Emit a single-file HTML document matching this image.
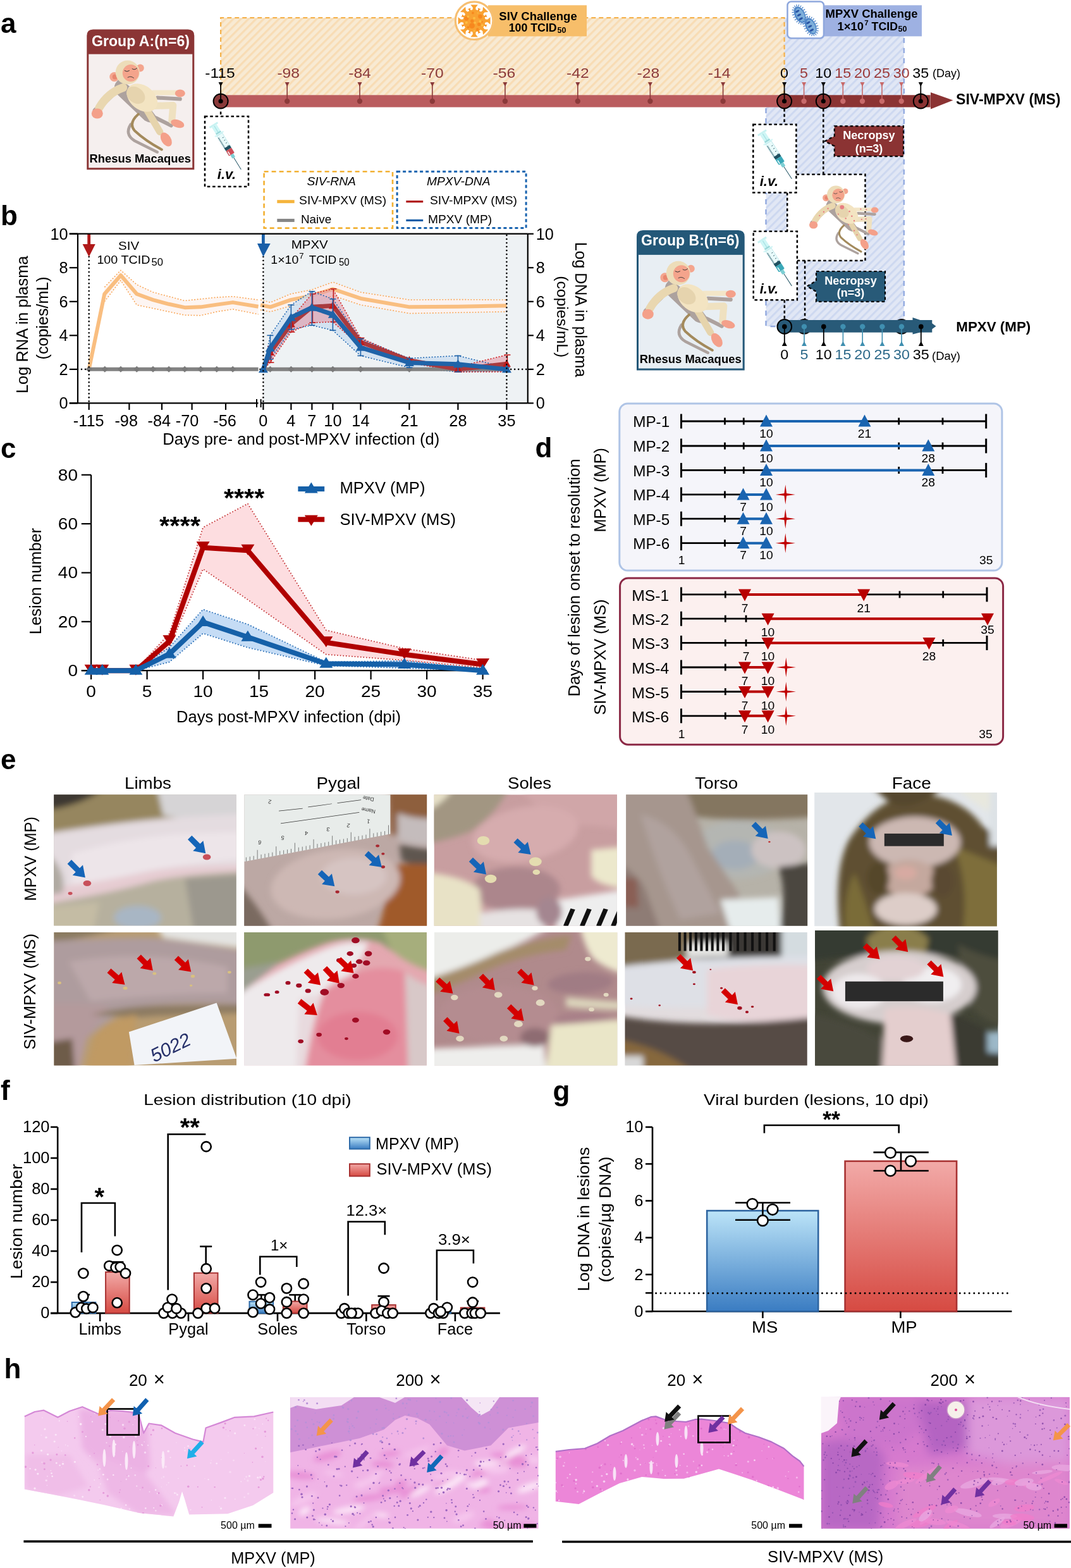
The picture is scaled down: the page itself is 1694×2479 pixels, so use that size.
<!DOCTYPE html>
<html><head><meta charset="utf-8"><title>Figure</title>
<style>
html,body{margin:0;padding:0;background:#fff;}
svg{display:block;}
text{font-family:"Liberation Sans",Arial,Helvetica,sans-serif;}
</style></head><body>
<svg width="1694" height="2479" viewBox="0 0 1694 2479">
<defs>
<pattern id="stripeO" patternUnits="userSpaceOnUse" width="8.5" height="10" patternTransform="rotate(45)">
  <rect width="8.5" height="10" fill="#F8EAD3"/><rect width="3.2" height="10" fill="#F8DCB4"/>
</pattern>
<pattern id="stripeB" patternUnits="userSpaceOnUse" width="8.5" height="10" patternTransform="rotate(45)">
  <rect width="8.5" height="10" fill="#E1E7F5"/><rect width="3.0" height="10" fill="#CDD8F0"/>
</pattern>
<linearGradient id="gBlue" x1="0" y1="0" x2="0" y2="1">
  <stop offset="0" stop-color="#BCE4F8"/><stop offset="1" stop-color="#3A7CC2"/>
</linearGradient>
<linearGradient id="gRed" x1="0" y1="0" x2="0" y2="1">
  <stop offset="0" stop-color="#F2AAA8"/><stop offset="1" stop-color="#D64A42"/>
</linearGradient>
<filter id="blur2" x="-5%" y="-5%" width="110%" height="110%"><feGaussianBlur stdDeviation="2"/></filter>
<filter id="blur4" x="-5%" y="-5%" width="110%" height="110%"><feGaussianBlur stdDeviation="4"/></filter>
<filter id="blur8" x="-10%" y="-10%" width="120%" height="120%"><feGaussianBlur stdDeviation="8"/></filter>
<filter id="blur6" x="-10%" y="-10%" width="120%" height="120%"><feGaussianBlur stdDeviation="5"/></filter>
<g id="monkey">
  <path d="M44,30 Q28,44 44,58 L84,96 Q97,104 104,92 L74,52 Z" fill="#ADA29E"/>
  <path d="M30,58 Q18,70 6,80" stroke="#ADA29E" stroke-width="8" fill="none" stroke-linecap="round"/>
  <path d="M62,102 Q52,118 68,128 Q88,138 104,146" stroke="#ADA29E" stroke-width="4.5" fill="none" stroke-linecap="round"/>
  <path d="M104,60 L140,62" stroke="#ADA29E" stroke-width="6" stroke-linecap="round"/>
  <path d="M102,92 L126,104" stroke="#ADA29E" stroke-width="6" stroke-linecap="round"/>
  <path d="M50,44 Q26,52 12,76" stroke="#E9D7B0" stroke-width="13" fill="none" stroke-linecap="round"/>
  <path d="M98,52 L134,52" stroke="#F3E6C8" stroke-width="8" stroke-linecap="round"/>
  <path d="M74,86 Q58,100 68,112 Q85,128 111,142" stroke="#A38A5C" stroke-width="4" fill="none" stroke-linecap="round"/>
  <path d="M98,73 L129,72 L127,96" stroke="#EFE1C0" stroke-width="11" fill="none" stroke-linejoin="round" stroke-linecap="round"/>
  <path d="M88,80 L108,114" stroke="#E6D4AC" stroke-width="11" stroke-linecap="round"/>
  <ellipse cx="80" cy="60" rx="27" ry="19" transform="rotate(38 80 60)" fill="#F3E4C2"/>
  <ellipse cx="70" cy="56" rx="16" ry="12" transform="rotate(38 70 56)" fill="#E6D4AE"/>
  <circle cx="36" cy="27" r="7.5" fill="#F4A58E"/><circle cx="37" cy="27" r="4" fill="#E8866E"/>
  <circle cx="77" cy="13" r="6" fill="#F4A58E"/>
  <circle cx="57" cy="20" r="19" fill="#EDDDB9"/>
  <ellipse cx="62" cy="21" rx="13" ry="13.5" fill="#F4A48C"/>
  <path d="M52,17 q4,3 8,0 M64,14 q4,3 8,-1" stroke="#333" stroke-width="1" fill="none"/>
  <path d="M57,28 q5,-3 10,1" stroke="#333" stroke-width="0.9" fill="none"/>
  <ellipse cx="9" cy="85" rx="9" ry="8" fill="#F4A08A"/>
  <ellipse cx="140" cy="53" rx="8" ry="6" fill="#F4A08A"/>
  <ellipse cx="136" cy="101" rx="11" ry="6" fill="#F4A08A" transform="rotate(18 136 101)"/>
  <ellipse cx="118" cy="126" rx="7.5" ry="12" fill="#F4A08A" transform="rotate(-32 118 126)"/>
</g>
<g id="syrR">
  <rect x="0" y="-7.5" width="3" height="15" fill="#C8F2F2"/>
  <rect x="3" y="-4.5" width="14" height="9" fill="#CFF6F6"/>
  <rect x="3" y="-0.6" width="13" height="1.2" fill="#A8E2E4"/>
  <rect x="14.5" y="-4.5" width="2.5" height="9" fill="#9CD8DA"/>
  <rect x="17" y="-8" width="2.2" height="16" fill="#D4F6F6"/>
  <rect x="19" y="-5" width="36" height="10" fill="#E8FAFA" stroke="#A8E0E4" stroke-width="0.6"/>
  <path d="M23.0,3.2 v1.8 M24.5,3.2 v1.8 M26.0,3.2 v1.8 M27.5,3.2 v1.8 M29.0,3.2 v1.8 M30.5,3.2 v1.8 M32.0,3.2 v1.8 M33.5,3.2 v1.8 M35.0,3.2 v1.8 M36.5,3.2 v1.8 M38.0,3.2 v1.8 M39.5,3.2 v1.8 M41.0,3.2 v1.8 M42.5,3.2 v1.8 " stroke="#1E4A5A" stroke-width="0.8"/>
  <path d="M26.0,-3.2 v2 M31.0,-3.2 v2 M36.0,-3.2 v2 M41.0,-3.2 v2 " stroke="#1E4A5A" stroke-width="0.8"/>
  <rect x="41.5" y="-5" width="5" height="10" fill="#1E5060"/>
  <rect x="46.5" y="-5" width="9.5" height="10" rx="1" fill="#D04E58"/>
  <rect x="49" y="2" width="6" height="1.6" fill="#F4F4F4"/>
  <rect x="56" y="-2.7" width="6" height="5.4" fill="#7CCFD4"/>
  <line x1="62" y1="0" x2="84" y2="0" stroke="#2A5A6A" stroke-width="1.0"/>
</g>
<g id="syrB">
  <rect x="0" y="-7.5" width="3" height="15" fill="#C8F2F2"/>
  <rect x="3" y="-4.5" width="14" height="9" fill="#CFF6F6"/>
  <rect x="3" y="-0.6" width="13" height="1.2" fill="#A8E2E4"/>
  <rect x="14.5" y="-4.5" width="2.5" height="9" fill="#9CD8DA"/>
  <rect x="17" y="-8" width="2.2" height="16" fill="#D4F6F6"/>
  <rect x="19" y="-5" width="36" height="10" fill="#E8FAFA" stroke="#A8E0E4" stroke-width="0.6"/>
  <path d="M23.0,3.2 v1.8 M24.5,3.2 v1.8 M26.0,3.2 v1.8 M27.5,3.2 v1.8 M29.0,3.2 v1.8 M30.5,3.2 v1.8 M32.0,3.2 v1.8 M33.5,3.2 v1.8 M35.0,3.2 v1.8 M36.5,3.2 v1.8 M38.0,3.2 v1.8 M39.5,3.2 v1.8 M41.0,3.2 v1.8 M42.5,3.2 v1.8 " stroke="#1E4A5A" stroke-width="0.8"/>
  <path d="M26.0,-3.2 v2 M31.0,-3.2 v2 M36.0,-3.2 v2 M41.0,-3.2 v2 " stroke="#1E4A5A" stroke-width="0.8"/>
  <rect x="41.5" y="-5" width="5" height="10" fill="#1E5060"/>
  <rect x="46.5" y="-5" width="9.5" height="10" rx="1" fill="#3AA8B8"/>
  <rect x="49" y="2" width="6" height="1.6" fill="#E8FAFA"/>
  <rect x="56" y="-2.7" width="6" height="5.4" fill="#7CCFD4"/>
  <line x1="62" y1="0" x2="84" y2="0" stroke="#2A5A6A" stroke-width="1.0"/>
</g>

<clipPath id="pc1"><rect x="85.2" y="1256.2" width="288.5" height="207.3"/></clipPath>
<clipPath id="pc2"><rect x="386.2" y="1256.2" width="289" height="207.6"/></clipPath>
<clipPath id="pc3"><rect x="686.5" y="1256.2" width="289.4" height="207.6"/></clipPath>
<clipPath id="pc4"><rect x="990.2" y="1256.2" width="287" height="207.6"/></clipPath>
<clipPath id="pc5"><rect x="1288.1" y="1252.9" width="288.8" height="211.5"/></clipPath>
<clipPath id="pc6"><rect x="85.4" y="1474.1" width="288.6" height="210.4"/></clipPath>
<clipPath id="pc7"><rect x="386.1" y="1474.1" width="288.8" height="210.4"/></clipPath>
<clipPath id="pc8"><rect x="687" y="1474.1" width="289.4" height="210.4"/></clipPath>
<clipPath id="pc9"><rect x="988.5" y="1474" width="288.2" height="210.5"/></clipPath>
<clipPath id="pc10"><rect x="1289.1" y="1471.1" width="289.5" height="213.6"/></clipPath>
<clipPath id="h1c"><polygon points="38.8,2239.4 55,2232 69.3,2229.7 91.4,2240.8 110,2231 130.2,2224.2 155.2,2235.3 175,2230 194,2231.1 218.9,2233.9 227.2,2265.8 235.5,2250.5 254.9,2253.3 277.1,2265.8 304.8,2275.5 321.4,2279.6 325.6,2257.5 349.1,2249.1 371.3,2240.8 401.8,2239.4 432.3,2232.5 432.3,2360 400,2380 360.2,2393.2 299.2,2394.6 292,2370 288,2358 283,2375 274.3,2397.4 220,2392 166,2379.4 120,2370 83,2362.8 38.8,2354.4"/></clipPath>
<clipPath id="h2c"><rect x="459.1" y="2209" width="392.6" height="207.8"/></clipPath>
<clipPath id="h3c"><polygon points="878.8,2294.9 900,2292 925,2290 945,2282 965,2270 985,2262 1000,2254 1015,2246 1030,2240 1037.3,2239.4 1050,2244 1070,2247 1085,2248 1100,2244 1109.4,2243.6 1130,2246 1153.7,2250 1165,2258 1178.6,2265.8 1200,2272 1220.2,2279.6 1240,2290 1253.5,2301.8 1265,2310 1271.5,2318.4 1271.5,2371 1230,2355 1190,2340 1160,2330 1137,2322.6 1110,2330 1081.7,2337.8 1050,2338 1015.2,2335 980,2345 950,2360 915.4,2378 878.8,2373.8"/></clipPath>
<clipPath id="h4c"><rect x="1298.8" y="2208.7" width="393.1" height="208.1"/></clipPath></defs>
<rect width="1694" height="2479" fill="#fff"/>
<text x="1" y="51.8" font-size="44" font-weight="bold">a</text>
<rect x="1211.5" y="28.2" width="218.3" height="487.8" fill="url(#stripeB)" />
<path d="M1211.5,171 V516 H1240 M1429.8,60 V506" fill="none" stroke="#93AAE0" stroke-width="2.4" stroke-dasharray="8 8"/>
<rect x="349.1" y="28.2" width="891.5" height="122.5" fill="url(#stripeO)" />
<path d="M349.1,150 V28.2 H1240.6 V150" fill="none" stroke="#F5B24C" stroke-width="2.2" stroke-dasharray="7 5"/>
<rect x="772" y="8.3" width="156" height="49.1" fill="#F7BE6A" />
<circle cx="750.1" cy="32.7" r="29.8" fill="#fff" stroke="#F6BF72" stroke-width="3.2" />
<polygon points="747.1,18.9 747.9,11.9 744.3,7.4 755.9,7.4 752.3,11.9 753.1,18.9" fill="#F9A232" />
<polygon points="754.45,18.47 756.47,14.65 755.73,12.5 760.54,14.49 758.5,15.49 757.23,19.62" fill="#F7901E" />
<polygon points="757.88,20.88 763.39,16.5 764.03,10.77 772.23,18.97 766.5,19.61 762.12,25.12" fill="#F9A232" />
<polygon points="763.38,25.77 767.51,24.5 768.51,22.46 770.5,27.27 768.35,26.53 764.53,28.55" fill="#F7901E" />
<polygon points="764.1,29.9 771.1,30.7 775.6,27.1 775.6,38.7 771.1,35.1 764.1,35.9" fill="#F9A232" />
<polygon points="764.53,37.25 768.35,39.27 770.5,38.53 768.51,43.34 767.51,41.3 763.38,40.03" fill="#F7901E" />
<polygon points="762.12,40.68 766.5,46.19 772.23,46.83 764.03,55.03 763.39,49.3 757.88,44.92" fill="#F9A232" />
<polygon points="757.23,46.18 758.5,50.31 760.54,51.31 755.73,53.3 756.47,51.15 754.45,47.33" fill="#F7901E" />
<polygon points="753.1,46.9 752.3,53.9 755.9,58.4 744.3,58.4 747.9,53.9 747.1,46.9" fill="#F9A232" />
<polygon points="745.75,47.33 743.73,51.15 744.47,53.3 739.66,51.31 741.7,50.31 742.97,46.18" fill="#F7901E" />
<polygon points="742.32,44.92 736.81,49.3 736.17,55.03 727.97,46.83 733.7,46.19 738.08,40.68" fill="#F9A232" />
<polygon points="736.82,40.03 732.69,41.3 731.69,43.34 729.7,38.53 731.85,39.27 735.67,37.25" fill="#F7901E" />
<polygon points="736.1,35.9 729.1,35.1 724.6,38.7 724.6,27.1 729.1,30.7 736.1,29.9" fill="#F9A232" />
<polygon points="735.67,28.55 731.85,26.53 729.7,27.27 731.69,22.46 732.69,24.5 736.82,25.77" fill="#F7901E" />
<polygon points="738.08,25.12 733.7,19.61 727.97,18.97 736.17,10.77 736.81,16.5 742.32,20.88" fill="#F9A232" />
<polygon points="742.97,19.62 741.7,15.49 739.66,14.49 744.47,12.5 743.73,14.65 745.75,18.47" fill="#F7901E" />
<circle cx="750.1" cy="32.9" r="17.6" fill="#F9A232" />
<circle cx="737.8" cy="29.2" r="3.4" fill="#F7881E" />
<circle cx="759.5" cy="26.1" r="3.4" fill="#F7881E" />
<circle cx="746.7" cy="33.2" r="2.7" fill="#F7881E" />
<circle cx="746.5" cy="40.7" r="4.4" fill="#F7881E" />
<circle cx="757.6" cy="38.4" r="2.6" fill="#F7881E" />
<circle cx="740.4" cy="43.2" r="1.9" fill="#F7881E" />
<circle cx="755.3" cy="46.5" r="2.2" fill="#F7881E" />
<circle cx="747.9" cy="20.5" r="1.9" fill="#F7881E" />
<circle cx="762.5" cy="34.6" r="1.4" fill="#F7881E" />
<circle cx="750" cy="28.7" r="2" fill="#FDBE42" />
<circle cx="740.3" cy="26.2" r="1.7" fill="#FDBE42" />
<circle cx="759.5" cy="33.7" r="2" fill="#FDBE42" />
<circle cx="737.8" cy="35.8" r="2" fill="#FDBE42" />
<circle cx="751.3" cy="36" r="1.7" fill="#FDBE42" />
<circle cx="762.8" cy="40" r="1.7" fill="#FDBE42" />
<circle cx="750.1" cy="48.9" r="1.3" fill="#FDBE42" />
<circle cx="755.9" cy="20.4" r="1" fill="#FDBE42" />
<text x="851" y="31.5" font-size="18.5" text-anchor="middle" font-weight="bold" textLength="123.4" lengthAdjust="spacingAndGlyphs">SIV Challenge</text>
<text x="804.7" y="50.4" font-size="18.5" font-weight="bold" textLength="76" lengthAdjust="spacingAndGlyphs">100 TCID</text>
<text x="881.5" y="51.5" font-size="12.5" font-weight="bold">50</text>
<rect x="1303" y="8.3" width="155" height="49.1" fill="#9EB1E2" />
<rect x="1245.5" y="2.5" width="57.5" height="58" fill="#fff" stroke="#8FA8DD" stroke-width="2.5" rx="6" />
<line x1="1272.53" y1="19.73" x2="1275.43" y2="18.38" stroke="#4F86C8" stroke-width="1.3" />
<line x1="1273.87" y1="23.4" x2="1276.96" y2="22.56" stroke="#4F86C8" stroke-width="1.3" />
<line x1="1274.51" y1="27.05" x2="1277.7" y2="26.82" stroke="#4F86C8" stroke-width="1.3" />
<line x1="1274.37" y1="30.38" x2="1277.53" y2="30.91" stroke="#4F86C8" stroke-width="1.3" />
<line x1="1273.49" y1="33.14" x2="1276.33" y2="34.61" stroke="#4F86C8" stroke-width="1.3" />
<line x1="1271.93" y1="35.09" x2="1273.93" y2="37.59" stroke="#4F86C8" stroke-width="1.3" />
<line x1="1269.82" y1="36.07" x2="1270.45" y2="39.21" stroke="#4F86C8" stroke-width="1.3" />
<line x1="1267.32" y1="36.02" x2="1266.62" y2="39.14" stroke="#4F86C8" stroke-width="1.3" />
<line x1="1264.64" y1="34.92" x2="1263.01" y2="37.68" stroke="#4F86C8" stroke-width="1.3" />
<line x1="1262" y1="32.88" x2="1259.77" y2="35.18" stroke="#4F86C8" stroke-width="1.3" />
<line x1="1259.61" y1="30.05" x2="1256.99" y2="31.88" stroke="#4F86C8" stroke-width="1.3" />
<line x1="1257.67" y1="26.67" x2="1254.77" y2="28.02" stroke="#4F86C8" stroke-width="1.3" />
<line x1="1256.33" y1="23" x2="1253.24" y2="23.84" stroke="#4F86C8" stroke-width="1.3" />
<line x1="1255.69" y1="19.35" x2="1252.5" y2="19.58" stroke="#4F86C8" stroke-width="1.3" />
<line x1="1255.83" y1="16.02" x2="1252.67" y2="15.49" stroke="#4F86C8" stroke-width="1.3" />
<line x1="1256.71" y1="13.26" x2="1253.87" y2="11.79" stroke="#4F86C8" stroke-width="1.3" />
<line x1="1258.27" y1="11.31" x2="1256.27" y2="8.81" stroke="#4F86C8" stroke-width="1.3" />
<line x1="1260.38" y1="10.33" x2="1259.75" y2="7.19" stroke="#4F86C8" stroke-width="1.3" />
<line x1="1262.88" y1="10.38" x2="1263.58" y2="7.26" stroke="#4F86C8" stroke-width="1.3" />
<line x1="1265.56" y1="11.48" x2="1267.19" y2="8.72" stroke="#4F86C8" stroke-width="1.3" />
<line x1="1268.2" y1="13.52" x2="1270.43" y2="11.22" stroke="#4F86C8" stroke-width="1.3" />
<line x1="1270.59" y1="16.35" x2="1273.21" y2="14.52" stroke="#4F86C8" stroke-width="1.3" />
<ellipse cx="1265.1" cy="23.2" rx="8.2" ry="13.8" transform="rotate(-25 1265.1 23.2)" fill="#4F86C8"/>
<ellipse cx="1265.8999999999999" cy="23.7" rx="6" ry="11.5" transform="rotate(-25 1265.8999999999999 23.7)" fill="#7EAFDA"/>
<ellipse cx="1261.27" cy="17.82" rx="3.4" ry="1.6" transform="rotate(-30 1261.27 17.82)" fill="#2A55A5"/>
<ellipse cx="1264.01" cy="23.71" rx="3.4" ry="1.6" transform="rotate(-30 1264.01 23.71)" fill="#2A55A5"/>
<ellipse cx="1266.76" cy="29.60" rx="3.4" ry="1.6" transform="rotate(-30 1266.76 29.60)" fill="#2A55A5"/>
<line x1="1289.73" y1="37.73" x2="1292.63" y2="36.38" stroke="#4F86C8" stroke-width="1.3" />
<line x1="1291.07" y1="41.4" x2="1294.16" y2="40.56" stroke="#4F86C8" stroke-width="1.3" />
<line x1="1291.71" y1="45.05" x2="1294.9" y2="44.82" stroke="#4F86C8" stroke-width="1.3" />
<line x1="1291.57" y1="48.38" x2="1294.73" y2="48.91" stroke="#4F86C8" stroke-width="1.3" />
<line x1="1290.69" y1="51.14" x2="1293.53" y2="52.61" stroke="#4F86C8" stroke-width="1.3" />
<line x1="1289.13" y1="53.09" x2="1291.13" y2="55.59" stroke="#4F86C8" stroke-width="1.3" />
<line x1="1287.02" y1="54.07" x2="1287.65" y2="57.21" stroke="#4F86C8" stroke-width="1.3" />
<line x1="1284.52" y1="54.02" x2="1283.82" y2="57.14" stroke="#4F86C8" stroke-width="1.3" />
<line x1="1281.84" y1="52.92" x2="1280.21" y2="55.68" stroke="#4F86C8" stroke-width="1.3" />
<line x1="1279.2" y1="50.88" x2="1276.97" y2="53.18" stroke="#4F86C8" stroke-width="1.3" />
<line x1="1276.81" y1="48.05" x2="1274.19" y2="49.88" stroke="#4F86C8" stroke-width="1.3" />
<line x1="1274.87" y1="44.67" x2="1271.97" y2="46.02" stroke="#4F86C8" stroke-width="1.3" />
<line x1="1273.53" y1="41" x2="1270.44" y2="41.84" stroke="#4F86C8" stroke-width="1.3" />
<line x1="1272.89" y1="37.35" x2="1269.7" y2="37.58" stroke="#4F86C8" stroke-width="1.3" />
<line x1="1273.03" y1="34.02" x2="1269.87" y2="33.49" stroke="#4F86C8" stroke-width="1.3" />
<line x1="1273.91" y1="31.26" x2="1271.07" y2="29.79" stroke="#4F86C8" stroke-width="1.3" />
<line x1="1275.47" y1="29.31" x2="1273.47" y2="26.81" stroke="#4F86C8" stroke-width="1.3" />
<line x1="1277.58" y1="28.33" x2="1276.95" y2="25.19" stroke="#4F86C8" stroke-width="1.3" />
<line x1="1280.08" y1="28.38" x2="1280.78" y2="25.26" stroke="#4F86C8" stroke-width="1.3" />
<line x1="1282.76" y1="29.48" x2="1284.39" y2="26.72" stroke="#4F86C8" stroke-width="1.3" />
<line x1="1285.4" y1="31.52" x2="1287.63" y2="29.22" stroke="#4F86C8" stroke-width="1.3" />
<line x1="1287.79" y1="34.35" x2="1290.41" y2="32.52" stroke="#4F86C8" stroke-width="1.3" />
<ellipse cx="1282.3" cy="41.2" rx="8.2" ry="13.8" transform="rotate(-25 1282.3 41.2)" fill="#4F86C8"/>
<ellipse cx="1283.1" cy="41.7" rx="6" ry="11.5" transform="rotate(-25 1283.1 41.7)" fill="#7EAFDA"/>
<ellipse cx="1278.47" cy="35.82" rx="3.4" ry="1.6" transform="rotate(-30 1278.47 35.82)" fill="#2A55A5"/>
<ellipse cx="1281.21" cy="41.71" rx="3.4" ry="1.6" transform="rotate(-30 1281.21 41.71)" fill="#2A55A5"/>
<ellipse cx="1283.96" cy="47.60" rx="3.4" ry="1.6" transform="rotate(-30 1283.96 47.60)" fill="#2A55A5"/>
<text x="1378.6" y="28.2" font-size="18.5" text-anchor="middle" font-weight="bold" textLength="146" lengthAdjust="spacingAndGlyphs">MPXV Challenge</text>
<text x="1324.5" y="47.9" font-size="18.5" font-weight="bold" textLength="41.5" lengthAdjust="spacingAndGlyphs">1×10</text>
<text x="1367.3" y="39.5" font-size="11.5" font-weight="bold">7</text>
<text x="1378.6" y="47.9" font-size="18.5" font-weight="bold" textLength="41.4" lengthAdjust="spacingAndGlyphs">TCID</text>
<text x="1420.6" y="49.5" font-size="12.5" font-weight="bold">50</text>
<rect x="349" y="150.3" width="892" height="19.2" fill="#BA5C5E" />
<rect x="1240.6" y="150.3" width="231" height="19.2" fill="#8B3333" />
<polygon points="1472,146 1507.4,158.5 1472,172.4" fill="#8B3333" />
<line x1="454.2" y1="131" x2="454.2" y2="160" stroke="#8B3A3A" stroke-width="1.6" />
<polygon points="450.7,130 457.7,130 454.2,137" fill="#8B3A3A" />
<circle cx="454.2" cy="160" r="4.2" fill="#8B3A3A" />
<text x="456.2" y="123.4" font-size="22" text-anchor="middle" fill="#8B3A3A" textLength="35.61" lengthAdjust="spacingAndGlyphs">-98</text>
<line x1="569" y1="131" x2="569" y2="160" stroke="#8B3A3A" stroke-width="1.6" />
<polygon points="565.5,130 572.5,130 569,137" fill="#8B3A3A" />
<circle cx="569" cy="160" r="4.2" fill="#8B3A3A" />
<text x="569" y="123.4" font-size="22" text-anchor="middle" fill="#8B3A3A" textLength="35.61" lengthAdjust="spacingAndGlyphs">-84</text>
<line x1="683.8" y1="131" x2="683.8" y2="160" stroke="#8B3A3A" stroke-width="1.6" />
<polygon points="680.3,130 687.3,130 683.8,137" fill="#8B3A3A" />
<circle cx="683.8" cy="160" r="4.2" fill="#8B3A3A" />
<text x="683.8" y="123.4" font-size="22" text-anchor="middle" fill="#8B3A3A" textLength="35.61" lengthAdjust="spacingAndGlyphs">-70</text>
<line x1="798.9" y1="131" x2="798.9" y2="160" stroke="#8B3A3A" stroke-width="1.6" />
<polygon points="795.4,130 802.4,130 798.9,137" fill="#8B3A3A" />
<circle cx="798.9" cy="160" r="4.2" fill="#8B3A3A" />
<text x="797.4" y="123.4" font-size="22" text-anchor="middle" fill="#8B3A3A" textLength="35.61" lengthAdjust="spacingAndGlyphs">-56</text>
<line x1="913.8" y1="131" x2="913.8" y2="160" stroke="#8B3A3A" stroke-width="1.6" />
<polygon points="910.3,130 917.3,130 913.8,137" fill="#8B3A3A" />
<circle cx="913.8" cy="160" r="4.2" fill="#8B3A3A" />
<text x="913.8" y="123.4" font-size="22" text-anchor="middle" fill="#8B3A3A" textLength="35.61" lengthAdjust="spacingAndGlyphs">-42</text>
<line x1="1028.4" y1="131" x2="1028.4" y2="160" stroke="#8B3A3A" stroke-width="1.6" />
<polygon points="1024.9,130 1031.9,130 1028.4,137" fill="#8B3A3A" />
<circle cx="1028.4" cy="160" r="4.2" fill="#8B3A3A" />
<text x="1025.4" y="123.4" font-size="22" text-anchor="middle" fill="#8B3A3A" textLength="35.61" lengthAdjust="spacingAndGlyphs">-28</text>
<line x1="1143.6" y1="131" x2="1143.6" y2="160" stroke="#8B3A3A" stroke-width="1.6" />
<polygon points="1140.1,130 1147.1,130 1143.6,137" fill="#8B3A3A" />
<circle cx="1143.6" cy="160" r="4.2" fill="#8B3A3A" />
<text x="1137.6" y="123.4" font-size="22" text-anchor="middle" fill="#8B3A3A" textLength="35.61" lengthAdjust="spacingAndGlyphs">-14</text>
<circle cx="1240.6" cy="160" r="11.5" fill="#8B3333" stroke="#000" stroke-width="2" />
<line x1="1240.6" y1="131" x2="1240.6" y2="160" stroke="#000" stroke-width="1.8" />
<polygon points="1237.1,130 1244.1,130 1240.6,137" fill="#000" />
<circle cx="1240.6" cy="160" r="3.6" fill="#000" />
<text x="1240.6" y="123.4" font-size="22" text-anchor="middle" textLength="12.97" lengthAdjust="spacingAndGlyphs">0</text>
<line x1="1271.6" y1="131" x2="1271.6" y2="160" stroke="#C86A6A" stroke-width="1.6" />
<polygon points="1268.1,130 1275.1,130 1271.6,137" fill="#C86A6A" />
<circle cx="1271.6" cy="160" r="4.2" fill="#C86A6A" />
<text x="1271.6" y="123.4" font-size="22" text-anchor="middle" fill="#9B3A3A" textLength="12.97" lengthAdjust="spacingAndGlyphs">5</text>
<circle cx="1302.3" cy="160" r="11.5" fill="#8B3333" stroke="#000" stroke-width="2" />
<line x1="1302.3" y1="131" x2="1302.3" y2="160" stroke="#000" stroke-width="1.8" />
<polygon points="1298.8,130 1305.8,130 1302.3,137" fill="#000" />
<circle cx="1302.3" cy="160" r="3.6" fill="#000" />
<text x="1302.3" y="123.4" font-size="22" text-anchor="middle" textLength="25.94" lengthAdjust="spacingAndGlyphs">10</text>
<line x1="1333.3" y1="131" x2="1333.3" y2="160" stroke="#C86A6A" stroke-width="1.6" />
<polygon points="1329.8,130 1336.8,130 1333.3,137" fill="#C86A6A" />
<circle cx="1333.3" cy="160" r="4.2" fill="#C86A6A" />
<text x="1333.3" y="123.4" font-size="22" text-anchor="middle" fill="#9B3A3A" textLength="25.94" lengthAdjust="spacingAndGlyphs">15</text>
<line x1="1364" y1="131" x2="1364" y2="160" stroke="#C86A6A" stroke-width="1.6" />
<polygon points="1360.5,130 1367.5,130 1364,137" fill="#C86A6A" />
<circle cx="1364" cy="160" r="4.2" fill="#C86A6A" />
<text x="1364" y="123.4" font-size="22" text-anchor="middle" fill="#9B3A3A" textLength="25.94" lengthAdjust="spacingAndGlyphs">20</text>
<line x1="1395" y1="131" x2="1395" y2="160" stroke="#C86A6A" stroke-width="1.6" />
<polygon points="1391.5,130 1398.5,130 1395,137" fill="#C86A6A" />
<circle cx="1395" cy="160" r="4.2" fill="#C86A6A" />
<text x="1395" y="123.4" font-size="22" text-anchor="middle" fill="#9B3A3A" textLength="25.94" lengthAdjust="spacingAndGlyphs">25</text>
<line x1="1425.7" y1="131" x2="1425.7" y2="160" stroke="#C86A6A" stroke-width="1.6" />
<polygon points="1422.2,130 1429.2,130 1425.7,137" fill="#C86A6A" />
<circle cx="1425.7" cy="160" r="4.2" fill="#C86A6A" />
<text x="1425.7" y="123.4" font-size="22" text-anchor="middle" fill="#9B3A3A" textLength="25.94" lengthAdjust="spacingAndGlyphs">30</text>
<circle cx="1456.3" cy="160" r="11.5" fill="#8B3333" stroke="#000" stroke-width="2" />
<line x1="1456.3" y1="131" x2="1456.3" y2="160" stroke="#000" stroke-width="1.8" />
<polygon points="1452.8,130 1459.8,130 1456.3,137" fill="#000" />
<circle cx="1456.3" cy="160" r="3.6" fill="#000" />
<text x="1456.3" y="123.4" font-size="22" text-anchor="middle" textLength="25.94" lengthAdjust="spacingAndGlyphs">35</text>
<circle cx="349.1" cy="160" r="11.5" fill="#8B3A3A" stroke="#000" stroke-width="2" />
<line x1="349.1" y1="131" x2="349.1" y2="160" stroke="#000" stroke-width="1.8" />
<polygon points="345.6,130 352.6,130 349.1,137" fill="#000" />
<circle cx="349.1" cy="160" r="3.6" fill="#000" />
<text x="348" y="123.4" font-size="22" text-anchor="middle" textLength="47.48" lengthAdjust="spacingAndGlyphs">-115</text>
<text x="1475" y="122.3" font-size="18" textLength="44" lengthAdjust="spacingAndGlyphs">(Day)</text>
<text x="1512" y="164.9" font-size="23" font-weight="bold" textLength="165.4" lengthAdjust="spacingAndGlyphs">SIV-MPXV (MS)</text>
<path d="M137.3,268.3 V56.6 Q137.3,46.6 147.3,46.6 H297.3 Q307.3,46.6 307.3,56.6 V268.3 Z" fill="#8B3535" />
<rect x="140.3" y="85.6" width="164" height="179.7" fill="#F5EFEE" />
<text x="145" y="73" font-size="23" font-weight="bold" fill="#fff" textLength="155" lengthAdjust="spacingAndGlyphs">Group A:(n=6)</text>
<use href="#monkey" transform="translate(144.8 94.5)"/>
<text x="141.5" y="257" font-size="18.4" font-weight="bold" textLength="160.5" lengthAdjust="spacingAndGlyphs">Rhesus Macaques</text>
<path d="M1007,585.5 V373.9 Q1007,363.9 1017,363.9 H1167.7 Q1177.7,363.9 1177.7,373.9 V585.5 Z" fill="#245878" />
<rect x="1010" y="402.9" width="164.7" height="179.6" fill="#E8EEF3" />
<text x="1014" y="388.4" font-size="23" font-weight="bold" fill="#fff" textLength="155.5" lengthAdjust="spacingAndGlyphs">Group B:(n=6)</text>
<use href="#monkey" transform="translate(1015.8 411.7)"/>
<text x="1011.7" y="573.5" font-size="18.4" font-weight="bold" textLength="161" lengthAdjust="spacingAndGlyphs">Rhesus Macaques</text>
<line x1="349.1" y1="176.5" x2="349.1" y2="184" stroke="#000" stroke-width="2.5" stroke-dasharray="4.5 3.8"/>
<rect x="324" y="184" width="69" height="111" fill="#fff" stroke="#000" stroke-width="2.5" stroke-dasharray="4.5 3.8"/>
<use href="#syrR" transform="translate(337.2 196.5) rotate(58.3)"/>
<text x="343.8" y="283.4" font-size="22" font-weight="bold" font-style="italic">i.v.</text>
<line x1="1240.6" y1="172" x2="1240.6" y2="197" stroke="#000" stroke-width="2.5" stroke-dasharray="4.5 3.8"/>
<line x1="1302.3" y1="172" x2="1302.3" y2="276" stroke="#000" stroke-width="2.5" stroke-dasharray="4.5 3.8"/>
<rect x="1245.2" y="275.8" width="123.3" height="136.2" fill="#fff" />
<path d="M1259.4,275.8 H1368.5 V412 H1260.9 M1245.2,304.5 V365.7" fill="none" stroke="#000" stroke-width="2.5" stroke-dasharray="4.5 3.8"/>
<use href="#monkey" transform="translate(1280 292.8) scale(0.74)"/>
<g transform="translate(1280 292.8) scale(0.74)">
<circle cx="70" cy="47" r="4.5" fill="#E87E82" />
<circle cx="40" cy="50" r="1.6" fill="#E87E82" />
<circle cx="31" cy="57" r="1.6" fill="#E87E82" />
<circle cx="22" cy="65" r="1.5" fill="#E87E82" />
<circle cx="86" cy="56" r="1.8" fill="#E87E82" />
<circle cx="91" cy="66" r="1.7" fill="#E87E82" />
<circle cx="78" cy="71" r="1.6" fill="#E87E82" />
<circle cx="96" cy="76" r="1.6" fill="#E87E82" />
<circle cx="112" cy="73" r="1.6" fill="#E87E82" />
<circle cx="121" cy="72" r="1.5" fill="#E87E82" />
<circle cx="96" cy="97" r="1.6" fill="#E87E82" />
<circle cx="102" cy="106" r="1.5" fill="#E87E82" />
<circle cx="110" cy="51" r="1.5" fill="#E87E82" />
<circle cx="122" cy="52" r="1.5" fill="#E87E82" />
<circle cx="62" cy="62" r="1.5" fill="#E87E82" />
<circle cx="84" cy="84" r="1.4" fill="#E87E82" />
</g>
<rect x="1191.3" y="196.8" width="68.1" height="107.7" fill="#fff" stroke="#000" stroke-width="2.5" stroke-dasharray="4.5 3.8"/>
<use href="#syrB" transform="translate(1204.6 208.7) rotate(57.2) scale(1.05)"/>
<text x="1201.7" y="294.3" font-size="22" font-weight="bold" font-style="italic">i.v.</text>
<rect x="1191.7" y="365.7" width="69.2" height="108.6" fill="#fff" stroke="#000" stroke-width="2.5" stroke-dasharray="4.5 3.8"/>
<use href="#syrB" transform="translate(1204.6 378) rotate(57.2) scale(1.05)"/>
<text x="1201.7" y="463.9" font-size="22" font-weight="bold" font-style="italic">i.v.</text>
<path d="M1319.8,199.3 H1429 V247.1 H1319.8 V231 L1304.7,223.3 L1319.8,215 Z" fill="#8B3333" stroke="#000" stroke-width="2.2" stroke-dasharray="4.5 3.8"/>
<text x="1374.4" y="220" font-size="18" text-anchor="middle" font-weight="bold" fill="#fff" textLength="82.5" lengthAdjust="spacingAndGlyphs">Necropsy</text>
<text x="1374.4" y="240.8" font-size="18" text-anchor="middle" font-weight="bold" fill="#fff">(n=3)</text>
<line x1="1240.8" y1="474.3" x2="1240.8" y2="505" stroke="#000" stroke-width="2.5" stroke-dasharray="4.5 3.8"/>
<line x1="1273.1" y1="412" x2="1273.1" y2="505" stroke="#000" stroke-width="2.5" stroke-dasharray="4.5 3.8"/>
<path d="M1291,429 H1400 V476.8 H1291 V461 L1276.4,452.6 L1291,444 Z" fill="#285A78" stroke="#000" stroke-width="2.2" stroke-dasharray="4.5 3.8"/>
<text x="1345.5" y="449.7" font-size="18" text-anchor="middle" font-weight="bold" fill="#fff" textLength="82.5" lengthAdjust="spacingAndGlyphs">Necropsy</text>
<text x="1345.5" y="468.6" font-size="18" text-anchor="middle" font-weight="bold" fill="#fff">(n=3)</text>
<circle cx="1272" cy="516.2" r="11.3" fill="#285A78" stroke="#111" stroke-width="2" />
<circle cx="1426" cy="516.2" r="11.3" fill="#285A78" stroke="#111" stroke-width="2" />
<rect x="1240.8" y="506" width="233.5" height="19.6" fill="#285A78" />
<polygon points="1443.5,502 1455.4,506 1455.4,525.6 1443.5,528.4" fill="#285A78" />
<polygon points="1474,511 1480.5,515.8 1474,520.5" fill="#285A78" />
<circle cx="1240.8" cy="516.4" r="11.3" fill="#285A78" stroke="#000" stroke-width="2" />
<line x1="1240.8" y1="516.4" x2="1240.8" y2="542" stroke="#000" stroke-width="1.8" />
<polygon points="1236.8,547 1244.8,547 1240.8,539.5" fill="#000" />
<circle cx="1240.8" cy="516.4" r="3.8" fill="#000" />
<text x="1240.8" y="567.8" font-size="22" text-anchor="middle" textLength="12.97" lengthAdjust="spacingAndGlyphs">0</text>
<line x1="1272" y1="516.4" x2="1272" y2="542" stroke="#3F8FB0" stroke-width="1.6" />
<polygon points="1268,547 1276,547 1272,539.5" fill="#3F8FB0" />
<circle cx="1272" cy="516.4" r="4.2" fill="#3F8FB0" />
<text x="1272" y="567.8" font-size="22" text-anchor="middle" fill="#2E6A8A" textLength="12.97" lengthAdjust="spacingAndGlyphs">5</text>
<line x1="1302.8" y1="516.4" x2="1302.8" y2="542" stroke="#000" stroke-width="1.8" />
<polygon points="1298.8,547 1306.8,547 1302.8,539.5" fill="#000" />
<circle cx="1302.8" cy="516.4" r="3.8" fill="#000" />
<text x="1302.8" y="567.8" font-size="22" text-anchor="middle" textLength="25.94" lengthAdjust="spacingAndGlyphs">10</text>
<line x1="1333.4" y1="516.4" x2="1333.4" y2="542" stroke="#3F8FB0" stroke-width="1.6" />
<polygon points="1329.4,547 1337.4,547 1333.4,539.5" fill="#3F8FB0" />
<circle cx="1333.4" cy="516.4" r="4.2" fill="#3F8FB0" />
<text x="1333.4" y="567.8" font-size="22" text-anchor="middle" fill="#2E6A8A" textLength="25.94" lengthAdjust="spacingAndGlyphs">15</text>
<line x1="1364.2" y1="516.4" x2="1364.2" y2="542" stroke="#3F8FB0" stroke-width="1.6" />
<polygon points="1360.2,547 1368.2,547 1364.2,539.5" fill="#3F8FB0" />
<circle cx="1364.2" cy="516.4" r="4.2" fill="#3F8FB0" />
<text x="1364.2" y="567.8" font-size="22" text-anchor="middle" fill="#2E6A8A" textLength="25.94" lengthAdjust="spacingAndGlyphs">20</text>
<line x1="1395.4" y1="516.4" x2="1395.4" y2="542" stroke="#3F8FB0" stroke-width="1.6" />
<polygon points="1391.4,547 1399.4,547 1395.4,539.5" fill="#3F8FB0" />
<circle cx="1395.4" cy="516.4" r="4.2" fill="#3F8FB0" />
<text x="1395.4" y="567.8" font-size="22" text-anchor="middle" fill="#2E6A8A" textLength="25.94" lengthAdjust="spacingAndGlyphs">25</text>
<line x1="1426" y1="516.4" x2="1426" y2="542" stroke="#3F8FB0" stroke-width="1.6" />
<polygon points="1422,547 1430,547 1426,539.5" fill="#3F8FB0" />
<circle cx="1426" cy="516.4" r="4.2" fill="#3F8FB0" />
<text x="1426" y="567.8" font-size="22" text-anchor="middle" fill="#2E6A8A" textLength="25.94" lengthAdjust="spacingAndGlyphs">30</text>
<line x1="1456.8" y1="516.4" x2="1456.8" y2="542" stroke="#000" stroke-width="1.8" />
<polygon points="1452.8,547 1460.8,547 1456.8,539.5" fill="#000" />
<circle cx="1456.8" cy="516.4" r="3.8" fill="#000" />
<text x="1456.8" y="567.8" font-size="22" text-anchor="middle" textLength="25.94" lengthAdjust="spacingAndGlyphs">35</text>
<text x="1474" y="569" font-size="18" textLength="45" lengthAdjust="spacingAndGlyphs">(Day)</text>
<text x="1512.3" y="524.4" font-size="22.4" font-weight="bold" textLength="118" lengthAdjust="spacingAndGlyphs">MPXV (MP)</text>
<text x="1" y="355.7" font-size="44" font-weight="bold">b</text>
<rect x="417.6" y="271.3" width="203.4" height="89.3" fill="none" stroke="#F2B134" stroke-width="2.6" stroke-dasharray="7 5"/>
<rect x="628.1" y="271.3" width="204" height="89.3" fill="none" stroke="#1A64B0" stroke-width="3" stroke-dasharray="5 4"/>
<text x="524.2" y="292.6" font-size="19" text-anchor="middle" font-style="italic" textLength="77.4" lengthAdjust="spacingAndGlyphs">SIV-RNA</text>
<text x="725.2" y="292.6" font-size="19" text-anchor="middle" font-style="italic" textLength="100.6" lengthAdjust="spacingAndGlyphs">MPXV-DNA</text>
<line x1="438.3" y1="318.7" x2="465.7" y2="318.7" stroke="#F5B43C" stroke-width="5" />
<line x1="438.3" y1="348.4" x2="465.7" y2="348.4" stroke="#858585" stroke-width="5" />
<text x="473.1" y="322.9" font-size="18.5" textLength="138" lengthAdjust="spacingAndGlyphs">SIV-MPXV (MS)</text>
<text x="476" y="353" font-size="18.8" textLength="48.2" lengthAdjust="spacingAndGlyphs">Naive</text>
<line x1="642.3" y1="318.7" x2="669.2" y2="318.7" stroke="#B01A1A" stroke-width="3.2" />
<line x1="642.3" y1="348.4" x2="669.2" y2="348.4" stroke="#1A5FA8" stroke-width="3.2" />
<text x="680" y="322.9" font-size="18.5" textLength="138" lengthAdjust="spacingAndGlyphs">SIV-MPXV (MS)</text>
<text x="677.1" y="353" font-size="18.8" textLength="101" lengthAdjust="spacingAndGlyphs">MPXV (MP)</text>
<rect x="416.4" y="369.7" width="418.4" height="267.7" fill="#EEF2F4" />
<line x1="123" y1="583.86" x2="834.8" y2="583.86" stroke="#000" stroke-width="2.6" stroke-dasharray="0.01 6.0" stroke-linecap="round"/>
<polygon points="165.3,454.03 191,427.26 216.3,450.01 242,462.06 267.1,468.75 292.2,475.44 317.4,472.76 342.8,470.09 368.2,468.75 408.6,474.1 408.6,496.86 368.2,488.83 342.8,492.84 317.4,498.73 292.2,498.2 267.1,492.84 242,487.49 216.3,482.13 191,443.32 165.3,476.78" fill="#FDF3F0" opacity="0.85"/>
<polyline points="165.3,454.03 191,427.26 216.3,450.01 242,462.06 267.1,468.75 292.2,475.44 317.4,472.76 342.8,470.09 368.2,468.75 408.6,474.1" fill="none" stroke="#F9A85A" stroke-width="1.6" stroke-linejoin="round" stroke-dasharray="2 2.5"/>
<polyline points="165.3,476.78 191,443.32 216.3,482.13 242,487.49 267.1,492.84 292.2,498.2 317.4,498.73 342.8,492.84 368.2,488.83 408.6,496.86" fill="none" stroke="#F9A85A" stroke-width="1.6" stroke-linejoin="round" stroke-dasharray="2 2.5"/>
<polygon points="412,474.1 427.7,478.12 459.8,464.73 493.2,458.04 526.6,445.99 570.7,462.06 647.8,474.1 724.3,473.57 801.4,474.1 801.4,492.84 724.3,494.18 647.8,495.52 570.7,482.13 526.6,467.41 493.2,478.12 459.8,483.47 427.7,492.84 412,490.16" fill="#FDF3F0" opacity="0.85"/>
<polyline points="412,474.1 427.7,478.12 459.8,464.73 493.2,458.04 526.6,445.99 570.7,462.06 647.8,474.1 724.3,473.57 801.4,474.1" fill="none" stroke="#F9A85A" stroke-width="1.6" stroke-linejoin="round" stroke-dasharray="2 2.5"/>
<polyline points="412,490.16 427.7,492.84 459.8,483.47 493.2,478.12 526.6,467.41 570.7,482.13 647.8,495.52 724.3,494.18 801.4,492.84" fill="none" stroke="#F9A85A" stroke-width="1.6" stroke-linejoin="round" stroke-dasharray="2 2.5"/>
<polyline points="140.7,583.86 165.3,464.73 191,435.29 216.3,464.73 242,474.1 267.1,480.8 292.2,486.15 317.4,485.35 342.8,481.6 368.2,478.12 408.6,484.81" fill="none" stroke="#F9BE80" stroke-width="6" stroke-linejoin="round" />
<polyline points="412,482.13 427.7,485.35 459.8,474.1 493.2,467.41 526.6,456.97 570.7,471.96 647.8,485.35 724.3,484.81 801.4,483.2" fill="none" stroke="#F9BE80" stroke-width="6" stroke-linejoin="round" />
<polygon points="416.4,583.86 427.4,530.32 460.4,482.13 493.4,460.72 526.4,472.76 570.4,535.67 647.4,566.46 724.4,562.44 801.4,581.18 801.4,586.54 724.4,587.88 647.4,581.18 570.4,562.44 526.4,522.29 493.4,514.26 460.4,520.95 427.4,567.8 416.4,583.86" fill="#C9DCF0" opacity="0.75"/>
<polygon points="416.4,583.86 427.4,547.72 460.4,503.55 493.4,464.73 526.4,456.7 570.4,534.34 647.4,567.8 724.4,579.84 801.4,561.11 801.4,587.88 724.4,587.88 647.4,573.15 570.4,547.72 526.4,508.9 493.4,510.24 460.4,524.97 427.4,573.15 416.4,583.86" fill="#E49AA6" opacity="0.6"/>
<polyline points="416.4,583.86 427.4,530.32 460.4,482.13 493.4,460.72 526.4,472.76 570.4,535.67 647.4,566.46 724.4,562.44 801.4,581.18" fill="none" stroke="#1A64B0" stroke-width="1.5" stroke-linejoin="round" stroke-dasharray="2 2.5"/>
<polyline points="416.4,583.86 427.4,567.8 460.4,520.95 493.4,514.26 526.4,522.29 570.4,562.44 647.4,581.18 724.4,587.88 801.4,586.54" fill="none" stroke="#1A64B0" stroke-width="1.5" stroke-linejoin="round" stroke-dasharray="2 2.5"/>
<polyline points="416.4,583.86 427.4,547.72 460.4,503.55 493.4,464.73 526.4,456.7 570.4,534.34 647.4,567.8 724.4,579.84 801.4,561.11" fill="none" stroke="#D02020" stroke-width="1.5" stroke-linejoin="round" stroke-dasharray="2 2.5"/>
<polyline points="416.4,583.86 427.4,573.15 460.4,524.97 493.4,510.24 526.4,508.9 570.4,547.72 647.4,573.15 724.4,587.88 801.4,587.88" fill="none" stroke="#D02020" stroke-width="1.5" stroke-linejoin="round" stroke-dasharray="2 2.5"/>
<line x1="140.7" y1="583.86" x2="408.6" y2="583.86" stroke="#828282" stroke-width="6" />
<line x1="416.4" y1="583.86" x2="801.4" y2="583.86" stroke="#828282" stroke-width="6" />
<polygon points="135.7,583.86 140.7,578.86 145.7,583.86 140.7,588.86" fill="#7A7A7A" />
<polygon points="160.8,583.86 165.8,578.86 170.8,583.86 165.8,588.86" fill="#7A7A7A" />
<polygon points="186,583.86 191,578.86 196,583.86 191,588.86" fill="#7A7A7A" />
<polygon points="211.3,583.86 216.3,578.86 221.3,583.86 216.3,588.86" fill="#7A7A7A" />
<polygon points="237,583.86 242,578.86 247,583.86 242,588.86" fill="#7A7A7A" />
<polygon points="262.1,583.86 267.1,578.86 272.1,583.86 267.1,588.86" fill="#7A7A7A" />
<polygon points="287.2,583.86 292.2,578.86 297.2,583.86 292.2,588.86" fill="#7A7A7A" />
<polygon points="312.4,583.86 317.4,578.86 322.4,583.86 317.4,588.86" fill="#7A7A7A" />
<polygon points="337.8,583.86 342.8,578.86 347.8,583.86 342.8,588.86" fill="#7A7A7A" />
<polygon points="363.2,583.86 368.2,578.86 373.2,583.86 368.2,588.86" fill="#7A7A7A" />
<polygon points="411.4,583.86 416.4,578.86 421.4,583.86 416.4,588.86" fill="#7A7A7A" />
<polygon points="422.4,583.86 427.4,578.86 432.4,583.86 427.4,588.86" fill="#7A7A7A" />
<polygon points="455.4,583.86 460.4,578.86 465.4,583.86 460.4,588.86" fill="#7A7A7A" />
<polygon points="488.4,583.86 493.4,578.86 498.4,583.86 493.4,588.86" fill="#7A7A7A" />
<polygon points="521.4,583.86 526.4,578.86 531.4,583.86 526.4,588.86" fill="#7A7A7A" />
<polygon points="565.4,583.86 570.4,578.86 575.4,583.86 570.4,588.86" fill="#7A7A7A" />
<polygon points="642.4,583.86 647.4,578.86 652.4,583.86 647.4,588.86" fill="#7A7A7A" />
<polygon points="719.4,583.86 724.4,578.86 729.4,583.86 724.4,588.86" fill="#7A7A7A" />
<polygon points="796.4,583.86 801.4,578.86 806.4,583.86 801.4,588.86" fill="#7A7A7A" />
<polyline points="416.4,583.86 427.4,557.09 460.4,512.38 493.4,485.35 526.4,483.2 570.4,540.76 647.4,569.67 724.4,583.86 801.4,575.29" fill="none" stroke="#A93A3E" stroke-width="7" stroke-linejoin="round" />
<line x1="428.4" y1="547.72" x2="428.4" y2="573.15" stroke="#C01A1A" stroke-width="1.6" />
<line x1="423.4" y1="547.72" x2="433.4" y2="547.72" stroke="#C01A1A" stroke-width="1.6" />
<line x1="423.4" y1="573.15" x2="433.4" y2="573.15" stroke="#C01A1A" stroke-width="1.6" />
<polygon points="420.9,562.09 433.9,562.09 427.4,550.09" fill="#C01A1A" />
<line x1="461.4" y1="503.55" x2="461.4" y2="524.97" stroke="#C01A1A" stroke-width="1.6" />
<line x1="456.4" y1="503.55" x2="466.4" y2="503.55" stroke="#C01A1A" stroke-width="1.6" />
<line x1="456.4" y1="524.97" x2="466.4" y2="524.97" stroke="#C01A1A" stroke-width="1.6" />
<polygon points="453.9,517.38 466.9,517.38 460.4,505.38" fill="#C01A1A" />
<line x1="494.4" y1="464.73" x2="494.4" y2="510.24" stroke="#C01A1A" stroke-width="1.6" />
<line x1="489.4" y1="464.73" x2="499.4" y2="464.73" stroke="#C01A1A" stroke-width="1.6" />
<line x1="489.4" y1="510.24" x2="499.4" y2="510.24" stroke="#C01A1A" stroke-width="1.6" />
<polygon points="486.9,490.35 499.9,490.35 493.4,478.35" fill="#C01A1A" />
<line x1="527.4" y1="456.7" x2="527.4" y2="508.9" stroke="#C01A1A" stroke-width="1.6" />
<line x1="522.4" y1="456.7" x2="532.4" y2="456.7" stroke="#C01A1A" stroke-width="1.6" />
<line x1="522.4" y1="508.9" x2="532.4" y2="508.9" stroke="#C01A1A" stroke-width="1.6" />
<polygon points="519.9,488.2 532.9,488.2 526.4,476.2" fill="#C01A1A" />
<line x1="571.4" y1="534.34" x2="571.4" y2="547.72" stroke="#C01A1A" stroke-width="1.6" />
<line x1="566.4" y1="534.34" x2="576.4" y2="534.34" stroke="#C01A1A" stroke-width="1.6" />
<line x1="566.4" y1="547.72" x2="576.4" y2="547.72" stroke="#C01A1A" stroke-width="1.6" />
<polygon points="563.9,545.76 576.9,545.76 570.4,533.76" fill="#C01A1A" />
<line x1="648.4" y1="567.8" x2="648.4" y2="573.15" stroke="#C01A1A" stroke-width="1.6" />
<line x1="643.4" y1="567.8" x2="653.4" y2="567.8" stroke="#C01A1A" stroke-width="1.6" />
<line x1="643.4" y1="573.15" x2="653.4" y2="573.15" stroke="#C01A1A" stroke-width="1.6" />
<polygon points="640.9,574.67 653.9,574.67 647.4,562.67" fill="#C01A1A" />
<line x1="725.4" y1="579.84" x2="725.4" y2="587.88" stroke="#C01A1A" stroke-width="1.6" />
<line x1="720.4" y1="579.84" x2="730.4" y2="579.84" stroke="#C01A1A" stroke-width="1.6" />
<line x1="720.4" y1="587.88" x2="730.4" y2="587.88" stroke="#C01A1A" stroke-width="1.6" />
<polygon points="717.9,588.86 730.9,588.86 724.4,576.86" fill="#C01A1A" />
<line x1="802.4" y1="561.11" x2="802.4" y2="587.88" stroke="#C01A1A" stroke-width="1.6" />
<line x1="797.4" y1="561.11" x2="807.4" y2="561.11" stroke="#C01A1A" stroke-width="1.6" />
<line x1="797.4" y1="587.88" x2="807.4" y2="587.88" stroke="#C01A1A" stroke-width="1.6" />
<polygon points="794.9,580.29 807.9,580.29 801.4,568.29" fill="#C01A1A" />
<polyline points="416.4,583.86 427.4,550.13 460.4,501.94 493.4,486.15 526.4,497.13 570.4,549.33 647.4,573.42 724.4,575.83 801.4,583.86" fill="none" stroke="#1F63A8" stroke-width="7" stroke-linejoin="round" />
<polygon points="408.9,589.36 423.9,589.36 416.4,576.36" fill="#1F63A8" />
<line x1="427.4" y1="530.32" x2="427.4" y2="567.8" stroke="#1F63A8" stroke-width="1.6" />
<line x1="422.4" y1="530.32" x2="432.4" y2="530.32" stroke="#1F63A8" stroke-width="1.6" />
<line x1="422.4" y1="567.8" x2="432.4" y2="567.8" stroke="#1F63A8" stroke-width="1.6" />
<polygon points="419.9,555.63 434.9,555.63 427.4,542.63" fill="#1F63A8" />
<line x1="460.4" y1="482.13" x2="460.4" y2="520.95" stroke="#1F63A8" stroke-width="1.6" />
<line x1="455.4" y1="482.13" x2="465.4" y2="482.13" stroke="#1F63A8" stroke-width="1.6" />
<line x1="455.4" y1="520.95" x2="465.4" y2="520.95" stroke="#1F63A8" stroke-width="1.6" />
<polygon points="452.9,507.44 467.9,507.44 460.4,494.44" fill="#1F63A8" />
<line x1="493.4" y1="460.72" x2="493.4" y2="514.26" stroke="#1F63A8" stroke-width="1.6" />
<line x1="488.4" y1="460.72" x2="498.4" y2="460.72" stroke="#1F63A8" stroke-width="1.6" />
<line x1="488.4" y1="514.26" x2="498.4" y2="514.26" stroke="#1F63A8" stroke-width="1.6" />
<polygon points="485.9,491.65 500.9,491.65 493.4,478.65" fill="#1F63A8" />
<line x1="526.4" y1="472.76" x2="526.4" y2="522.29" stroke="#1F63A8" stroke-width="1.6" />
<line x1="521.4" y1="472.76" x2="531.4" y2="472.76" stroke="#1F63A8" stroke-width="1.6" />
<line x1="521.4" y1="522.29" x2="531.4" y2="522.29" stroke="#1F63A8" stroke-width="1.6" />
<polygon points="518.9,502.63 533.9,502.63 526.4,489.63" fill="#1F63A8" />
<line x1="570.4" y1="535.67" x2="570.4" y2="562.44" stroke="#1F63A8" stroke-width="1.6" />
<line x1="565.4" y1="535.67" x2="575.4" y2="535.67" stroke="#1F63A8" stroke-width="1.6" />
<line x1="565.4" y1="562.44" x2="575.4" y2="562.44" stroke="#1F63A8" stroke-width="1.6" />
<polygon points="562.9,554.83 577.9,554.83 570.4,541.83" fill="#1F63A8" />
<line x1="647.4" y1="566.46" x2="647.4" y2="581.18" stroke="#1F63A8" stroke-width="1.6" />
<line x1="642.4" y1="566.46" x2="652.4" y2="566.46" stroke="#1F63A8" stroke-width="1.6" />
<line x1="642.4" y1="581.18" x2="652.4" y2="581.18" stroke="#1F63A8" stroke-width="1.6" />
<polygon points="639.9,578.92 654.9,578.92 647.4,565.92" fill="#1F63A8" />
<line x1="724.4" y1="562.44" x2="724.4" y2="587.88" stroke="#1F63A8" stroke-width="1.6" />
<line x1="719.4" y1="562.44" x2="729.4" y2="562.44" stroke="#1F63A8" stroke-width="1.6" />
<line x1="719.4" y1="587.88" x2="729.4" y2="587.88" stroke="#1F63A8" stroke-width="1.6" />
<polygon points="716.9,581.33 731.9,581.33 724.4,568.33" fill="#1F63A8" />
<line x1="801.4" y1="581.18" x2="801.4" y2="586.54" stroke="#1F63A8" stroke-width="1.6" />
<line x1="796.4" y1="581.18" x2="806.4" y2="581.18" stroke="#1F63A8" stroke-width="1.6" />
<line x1="796.4" y1="586.54" x2="806.4" y2="586.54" stroke="#1F63A8" stroke-width="1.6" />
<polygon points="793.9,589.36 808.9,589.36 801.4,576.36" fill="#1F63A8" />
<line x1="140.7" y1="406" x2="140.7" y2="637.4" stroke="#000" stroke-width="2.6" stroke-dasharray="0.01 6.0" stroke-linecap="round"/>
<line x1="416.4" y1="406" x2="416.4" y2="637.4" stroke="#000" stroke-width="2.6" stroke-dasharray="0.01 6.0" stroke-linecap="round"/>
<line x1="801.4" y1="372" x2="801.4" y2="637.4" stroke="#000" stroke-width="2.6" stroke-dasharray="0.01 6.0" stroke-linecap="round"/>
<polygon points="138.3,370 143.1,370 143.1,386 150.8,386 140.7,406 130.6,386 138.3,386" fill="#B01A1A" />
<polygon points="414,370 418.8,370 418.8,385 427.7,385 416.4,406 407,385 414,385" fill="#1A5FA8" />
<line x1="109.8" y1="369.7" x2="834.8" y2="369.7" stroke="#000" stroke-width="2.2" />
<line x1="123" y1="369.7" x2="123" y2="637.4" stroke="#000" stroke-width="2.2" />
<line x1="834.8" y1="369.7" x2="834.8" y2="637.4" stroke="#000" stroke-width="2.2" />
<line x1="109.8" y1="637.4" x2="408.6" y2="637.4" stroke="#000" stroke-width="2.2" />
<line x1="412.6" y1="637.4" x2="834.8" y2="637.4" stroke="#000" stroke-width="2.2" />
<line x1="406" y1="631" x2="406" y2="644" stroke="#000" stroke-width="2" />
<line x1="412.6" y1="631" x2="412.6" y2="644" stroke="#000" stroke-width="2" />
<line x1="109.8" y1="637.4" x2="123" y2="637.4" stroke="#000" stroke-width="2.2" />
<line x1="834.8" y1="637.4" x2="843.9" y2="637.4" stroke="#000" stroke-width="2.2" />
<text x="107.7" y="646.2" font-size="25.3" text-anchor="end">0</text>
<text x="847.7" y="646.2" font-size="25.3">0</text>
<line x1="109.8" y1="583.86" x2="123" y2="583.86" stroke="#000" stroke-width="2.2" />
<line x1="834.8" y1="583.86" x2="843.9" y2="583.86" stroke="#000" stroke-width="2.2" />
<text x="107.7" y="592.66" font-size="25.3" text-anchor="end">2</text>
<text x="847.7" y="592.66" font-size="25.3">2</text>
<line x1="109.8" y1="530.32" x2="123" y2="530.32" stroke="#000" stroke-width="2.2" />
<line x1="834.8" y1="530.32" x2="843.9" y2="530.32" stroke="#000" stroke-width="2.2" />
<text x="107.7" y="539.12" font-size="25.3" text-anchor="end">4</text>
<text x="847.7" y="539.12" font-size="25.3">4</text>
<line x1="109.8" y1="476.78" x2="123" y2="476.78" stroke="#000" stroke-width="2.2" />
<line x1="834.8" y1="476.78" x2="843.9" y2="476.78" stroke="#000" stroke-width="2.2" />
<text x="107.7" y="485.58" font-size="25.3" text-anchor="end">6</text>
<text x="847.7" y="485.58" font-size="25.3">6</text>
<line x1="109.8" y1="423.24" x2="123" y2="423.24" stroke="#000" stroke-width="2.2" />
<line x1="834.8" y1="423.24" x2="843.9" y2="423.24" stroke="#000" stroke-width="2.2" />
<text x="107.7" y="432.04" font-size="25.3" text-anchor="end">8</text>
<text x="847.7" y="432.04" font-size="25.3">8</text>
<line x1="109.8" y1="369.7" x2="123" y2="369.7" stroke="#000" stroke-width="2.2" />
<line x1="834.8" y1="369.7" x2="843.9" y2="369.7" stroke="#000" stroke-width="2.2" />
<text x="107.7" y="378.5" font-size="25.3" text-anchor="end">10</text>
<text x="847.7" y="378.5" font-size="25.3">10</text>
<line x1="140.7" y1="637.4" x2="140.7" y2="648" stroke="#000" stroke-width="2.2" />
<text x="140.2" y="674" font-size="25.3" text-anchor="middle" textLength="48.75" lengthAdjust="spacingAndGlyphs">-115</text>
<line x1="204.4" y1="637.4" x2="204.4" y2="648" stroke="#000" stroke-width="2.2" />
<text x="199.7" y="674" font-size="25.3" text-anchor="middle" textLength="36.56" lengthAdjust="spacingAndGlyphs">-98</text>
<line x1="256" y1="637.4" x2="256" y2="648" stroke="#000" stroke-width="2.2" />
<text x="251.8" y="674" font-size="25.3" text-anchor="middle" textLength="36.56" lengthAdjust="spacingAndGlyphs">-84</text>
<line x1="303.6" y1="637.4" x2="303.6" y2="648" stroke="#000" stroke-width="2.2" />
<text x="296" y="674" font-size="25.3" text-anchor="middle" textLength="36.56" lengthAdjust="spacingAndGlyphs">-70</text>
<line x1="357" y1="637.4" x2="357" y2="648" stroke="#000" stroke-width="2.2" />
<text x="355.5" y="674" font-size="25.3" text-anchor="middle" textLength="36.56" lengthAdjust="spacingAndGlyphs">-56</text>
<line x1="416.4" y1="637.4" x2="416.4" y2="648" stroke="#000" stroke-width="2.2" />
<text x="416.4" y="674" font-size="25.3" text-anchor="middle">0</text>
<line x1="460.4" y1="637.4" x2="460.4" y2="648" stroke="#000" stroke-width="2.2" />
<text x="460.4" y="674" font-size="25.3" text-anchor="middle">4</text>
<line x1="493.4" y1="637.4" x2="493.4" y2="648" stroke="#000" stroke-width="2.2" />
<text x="493.4" y="674" font-size="25.3" text-anchor="middle">7</text>
<line x1="526.4" y1="637.4" x2="526.4" y2="648" stroke="#000" stroke-width="2.2" />
<text x="526.4" y="674" font-size="25.3" text-anchor="middle">10</text>
<line x1="570.4" y1="637.4" x2="570.4" y2="648" stroke="#000" stroke-width="2.2" />
<text x="570.4" y="674" font-size="25.3" text-anchor="middle">14</text>
<line x1="647.4" y1="637.4" x2="647.4" y2="648" stroke="#000" stroke-width="2.2" />
<text x="647.4" y="674" font-size="25.3" text-anchor="middle">21</text>
<line x1="724.4" y1="637.4" x2="724.4" y2="648" stroke="#000" stroke-width="2.2" />
<text x="724.4" y="674" font-size="25.3" text-anchor="middle">28</text>
<line x1="801.4" y1="637.4" x2="801.4" y2="648" stroke="#000" stroke-width="2.2" />
<text x="801.4" y="674" font-size="25.3" text-anchor="middle">35</text>
<text x="476.2" y="703.4" font-size="25.5" text-anchor="middle" textLength="437.9" lengthAdjust="spacingAndGlyphs">Days pre- and post-MPXV infection (d)</text>
<text x="44.5" y="513.3" font-size="25.4" text-anchor="middle" textLength="217.5" lengthAdjust="spacingAndGlyphs" transform="rotate(-90 44.5 513.3)">Log RNA in plasma</text>
<text x="76.4" y="502.9" font-size="25.2" text-anchor="middle" textLength="131" lengthAdjust="spacingAndGlyphs" transform="rotate(-90 76.4 502.9)">(copies/mL)</text>
<text x="909.7" y="489.4" font-size="25" text-anchor="middle" textLength="213.5" lengthAdjust="spacingAndGlyphs" transform="rotate(90 909.7 489.4)">Log DNA in plasma</text>
<text x="881.3" y="500.7" font-size="24.8" text-anchor="middle" textLength="129" lengthAdjust="spacingAndGlyphs" transform="rotate(90 881.3 500.7)">(copies/mL)</text>
<text x="203.6" y="395.4" font-size="19" text-anchor="middle" textLength="33.08" lengthAdjust="spacingAndGlyphs">SIV</text>
<text x="153.4" y="416.5" font-size="19" textLength="84" lengthAdjust="spacingAndGlyphs">100 TCID</text>
<text x="239.4" y="419.5" font-size="16" textLength="18.5" lengthAdjust="spacingAndGlyphs">50</text>
<text x="489.7" y="392.9" font-size="19" text-anchor="middle" textLength="58.15" lengthAdjust="spacingAndGlyphs">MPXV</text>
<text x="428.3" y="417.1" font-size="19" textLength="44" lengthAdjust="spacingAndGlyphs">1×10</text>
<text x="473.2" y="409" font-size="13">7</text>
<text x="488.8" y="417.1" font-size="19" textLength="43.4" lengthAdjust="spacingAndGlyphs">TCID</text>
<text x="536" y="419.5" font-size="16" textLength="16.7" lengthAdjust="spacingAndGlyphs">50</text>
<text x="1" y="724" font-size="44" font-weight="bold">c</text>
<polygon points="144.1,1060.2 161.8,1060.2 214.9,1059.04 268,1001.41 321.1,833.92 391.9,796.4 515.8,996.38 639.7,1025.39 763.6,1043.95 763.6,1055.56 639.7,1043.95 515.8,1034.67 391.9,948.03 321.1,899.68 268,1023.45 214.9,1060.2 161.8,1060.2 144.1,1060.2" fill="#FDDDE0" />
<polyline points="144.1,1060.2 161.8,1060.2 214.9,1059.04 268,1001.41 321.1,833.92 391.9,796.4 515.8,996.38 639.7,1025.39 763.6,1043.95" fill="none" stroke="#C0282A" stroke-width="1.8" stroke-linejoin="round" stroke-dasharray="1.6 3"/>
<polyline points="144.1,1060.2 161.8,1060.2 214.9,1060.2 268,1023.45 321.1,899.68 391.9,948.03 515.8,1034.67 639.7,1043.95 763.6,1055.56" fill="none" stroke="#C0282A" stroke-width="1.8" stroke-linejoin="round" stroke-dasharray="1.6 3"/>
<polygon points="144.1,1060.2 161.8,1060.2 214.9,1059.43 268,1023.45 321.1,963.5 391.9,987.09 515.8,1046.66 639.7,1044.73 763.6,1058.27 763.6,1060.2 639.7,1056.33 515.8,1052.46 391.9,1023.84 321.1,1001.41 268,1046.66 214.9,1060.2 161.8,1060.2 144.1,1060.2" fill="#C5DCF5" />
<polyline points="144.1,1060.2 161.8,1060.2 214.9,1059.43 268,1023.45 321.1,963.5 391.9,987.09 515.8,1046.66 639.7,1044.73 763.6,1058.27" fill="none" stroke="#1A64B0" stroke-width="1.8" stroke-linejoin="round" stroke-dasharray="1.6 3"/>
<polyline points="144.1,1060.2 161.8,1060.2 214.9,1060.2 268,1046.66 321.1,1001.41 391.9,1023.84 515.8,1052.46 639.7,1056.33 763.6,1060.2" fill="none" stroke="#1A64B0" stroke-width="1.8" stroke-linejoin="round" stroke-dasharray="1.6 3"/>
<line x1="144.1" y1="750.8" x2="144.1" y2="1060.2" stroke="#000" stroke-width="2.2" />
<line x1="128.8" y1="1060.2" x2="770" y2="1060.2" stroke="#000" stroke-width="2.2" />
<line x1="128.8" y1="1060.2" x2="144.1" y2="1060.2" stroke="#000" stroke-width="2.2" />
<text x="123" y="1069.2" font-size="25.5" text-anchor="end" textLength="15.6" lengthAdjust="spacingAndGlyphs">0</text>
<line x1="128.8" y1="982.84" x2="144.1" y2="982.84" stroke="#000" stroke-width="2.2" />
<text x="123" y="991.84" font-size="25.5" text-anchor="end" textLength="31.2" lengthAdjust="spacingAndGlyphs">20</text>
<line x1="128.8" y1="905.48" x2="144.1" y2="905.48" stroke="#000" stroke-width="2.2" />
<text x="123" y="914.48" font-size="25.5" text-anchor="end" textLength="31.2" lengthAdjust="spacingAndGlyphs">40</text>
<line x1="128.8" y1="828.12" x2="144.1" y2="828.12" stroke="#000" stroke-width="2.2" />
<text x="123" y="837.12" font-size="25.5" text-anchor="end" textLength="31.2" lengthAdjust="spacingAndGlyphs">60</text>
<line x1="128.8" y1="750.76" x2="144.1" y2="750.76" stroke="#000" stroke-width="2.2" />
<text x="123" y="759.76" font-size="25.5" text-anchor="end" textLength="31.2" lengthAdjust="spacingAndGlyphs">80</text>
<line x1="144.1" y1="1060.2" x2="144.1" y2="1074.2" stroke="#000" stroke-width="2.2" />
<text x="144.1" y="1102" font-size="25.5" text-anchor="middle" textLength="15.6" lengthAdjust="spacingAndGlyphs">0</text>
<line x1="232.6" y1="1060.2" x2="232.6" y2="1074.2" stroke="#000" stroke-width="2.2" />
<text x="232.6" y="1102" font-size="25.5" text-anchor="middle" textLength="15.6" lengthAdjust="spacingAndGlyphs">5</text>
<line x1="321.1" y1="1060.2" x2="321.1" y2="1074.2" stroke="#000" stroke-width="2.2" />
<text x="321.1" y="1102" font-size="25.5" text-anchor="middle" textLength="31.2" lengthAdjust="spacingAndGlyphs">10</text>
<line x1="409.6" y1="1060.2" x2="409.6" y2="1074.2" stroke="#000" stroke-width="2.2" />
<text x="409.6" y="1102" font-size="25.5" text-anchor="middle" textLength="31.2" lengthAdjust="spacingAndGlyphs">15</text>
<line x1="498.1" y1="1060.2" x2="498.1" y2="1074.2" stroke="#000" stroke-width="2.2" />
<text x="498.1" y="1102" font-size="25.5" text-anchor="middle" textLength="31.2" lengthAdjust="spacingAndGlyphs">20</text>
<line x1="586.6" y1="1060.2" x2="586.6" y2="1074.2" stroke="#000" stroke-width="2.2" />
<text x="586.6" y="1102" font-size="25.5" text-anchor="middle" textLength="31.2" lengthAdjust="spacingAndGlyphs">25</text>
<line x1="675.1" y1="1060.2" x2="675.1" y2="1074.2" stroke="#000" stroke-width="2.2" />
<text x="675.1" y="1102" font-size="25.5" text-anchor="middle" textLength="31.2" lengthAdjust="spacingAndGlyphs">30</text>
<line x1="763.6" y1="1060.2" x2="763.6" y2="1074.2" stroke="#000" stroke-width="2.2" />
<text x="763.6" y="1102" font-size="25.5" text-anchor="middle" textLength="31.2" lengthAdjust="spacingAndGlyphs">35</text>
<polyline points="144.1,1060.2 161.8,1060.2 214.9,1060.2 268,1013.78 321.1,865.64 391.9,870.28 515.8,1015.72 639.7,1034.67 763.6,1050.53" fill="none" stroke="#B00000" stroke-width="8" stroke-linejoin="round" />
<polygon points="133.6,1050.7 154.6,1050.7 144.1,1067.7" fill="#B00000" />
<polygon points="151.3,1050.7 172.3,1050.7 161.8,1067.7" fill="#B00000" />
<polygon points="204.4,1050.7 225.4,1050.7 214.9,1067.7" fill="#B00000" />
<polygon points="257.5,1004.28 278.5,1004.28 268,1021.28" fill="#B00000" />
<polygon points="310.6,856.14 331.6,856.14 321.1,873.14" fill="#B00000" />
<polygon points="381.4,860.78 402.4,860.78 391.9,877.78" fill="#B00000" />
<polygon points="505.3,1006.22 526.3,1006.22 515.8,1023.22" fill="#B00000" />
<polygon points="629.2,1025.17 650.2,1025.17 639.7,1042.17" fill="#B00000" />
<polygon points="753.1,1041.03 774.1,1041.03 763.6,1058.03" fill="#B00000" />
<polyline points="144.1,1060.2 161.8,1060.2 214.9,1060.2 268,1033.9 321.1,983.61 391.9,1007.21 515.8,1049.37 639.7,1050.53 763.6,1060.2" fill="none" stroke="#1560A8" stroke-width="8" stroke-linejoin="round" />
<polygon points="133.6,1066.7 154.6,1066.7 144.1,1049.7" fill="#1560A8" />
<polygon points="151.3,1066.7 172.3,1066.7 161.8,1049.7" fill="#1560A8" />
<polygon points="204.4,1066.7 225.4,1066.7 214.9,1049.7" fill="#1560A8" />
<polygon points="257.5,1040.4 278.5,1040.4 268,1023.4" fill="#1560A8" />
<polygon points="310.6,990.11 331.6,990.11 321.1,973.11" fill="#1560A8" />
<polygon points="381.4,1013.71 402.4,1013.71 391.9,996.71" fill="#1560A8" />
<polygon points="505.3,1055.87 526.3,1055.87 515.8,1038.87" fill="#1560A8" />
<polygon points="629.2,1057.03 650.2,1057.03 639.7,1040.03" fill="#1560A8" />
<polygon points="753.1,1066.7 774.1,1066.7 763.6,1049.7" fill="#1560A8" />
<text x="456.5" y="1142.2" font-size="25.5" text-anchor="middle" textLength="355" lengthAdjust="spacingAndGlyphs">Days post-MPXV infection (dpi)</text>
<text x="64.8" y="918.9" font-size="25.4" text-anchor="middle" textLength="168" lengthAdjust="spacingAndGlyphs" transform="rotate(-90 64.8 918.9)">Lesion number</text>
<text x="252" y="844.6" font-size="40" font-weight="bold" textLength="65" lengthAdjust="spacingAndGlyphs">****</text>
<text x="354" y="801.2" font-size="40" font-weight="bold" textLength="64.2" lengthAdjust="spacingAndGlyphs">****</text>
<line x1="471.4" y1="772.9" x2="513.2" y2="772.9" stroke="#1560A8" stroke-width="8" />
<polygon points="481.8,779.5 502.8,779.5 492.3,762.5" fill="#1560A8" />
<text x="537.5" y="780.3" font-size="25.6" textLength="134.9" lengthAdjust="spacingAndGlyphs">MPXV (MP)</text>
<line x1="471.4" y1="821.3" x2="513.2" y2="821.3" stroke="#B00000" stroke-width="8" />
<polygon points="481.8,814.5 502.8,814.5 492.3,831.5" fill="#B00000" />
<text x="537.5" y="829.8" font-size="25.6" textLength="183.5" lengthAdjust="spacingAndGlyphs">SIV-MPXV (MS)</text>
<text x="846.5" y="723.2" font-size="44" font-weight="bold">d</text>
<rect x="979.8" y="638" width="605.1" height="264.1" fill="#F5F5FA" stroke="#AFC4E6" stroke-width="3" rx="13" />
<rect x="980.6" y="913.9" width="606" height="263.3" fill="#FCF0EF" stroke="#8B2845" stroke-width="3" rx="13" />
<text x="916.8" y="913.3" font-size="25.5" text-anchor="middle" textLength="376" lengthAdjust="spacingAndGlyphs" transform="rotate(-90 916.8 913.3)">Days of lesion onset to resolution</text>
<text x="958.4" y="774.8" font-size="25.3" text-anchor="middle" textLength="133.6" lengthAdjust="spacingAndGlyphs" transform="rotate(-90 958.4 774.8)">MPXV (MP)</text>
<text x="958.4" y="1039" font-size="25.6" text-anchor="middle" textLength="183.2" lengthAdjust="spacingAndGlyphs" transform="rotate(-90 958.4 1039)">SIV-MPXV (MS)</text>
<text x="1001.2" y="675.3" font-size="24" textLength="58" lengthAdjust="spacingAndGlyphs">MP-1</text>
<line x1="1077.5" y1="654.5" x2="1077.5" y2="677.5" stroke="#000" stroke-width="3" />
<line x1="1077.5" y1="666" x2="1559.7" y2="666" stroke="#000" stroke-width="2.8" />
<line x1="1559.7" y1="654.5" x2="1559.7" y2="677.5" stroke="#000" stroke-width="3" />
<line x1="1146.5" y1="660.5" x2="1146.5" y2="671.5" stroke="#000" stroke-width="2.8" />
<line x1="1176.3" y1="660.5" x2="1176.3" y2="671.5" stroke="#000" stroke-width="2.8" />
<line x1="1421.7" y1="660.5" x2="1421.7" y2="671.5" stroke="#000" stroke-width="2.8" />
<line x1="1491" y1="660.5" x2="1491" y2="671.5" stroke="#000" stroke-width="2.8" />
<line x1="1212" y1="666" x2="1367.5" y2="666" stroke="#1A64B0" stroke-width="4" />
<polygon points="1202,674.5 1222,674.5 1212,655.5" fill="#1A64B0" />
<polygon points="1357.5,674.5 1377.5,674.5 1367.5,655.5" fill="#1A64B0" />
<text x="1212" y="691.7" font-size="18" text-anchor="middle" textLength="21.42" lengthAdjust="spacingAndGlyphs">10</text>
<text x="1367.5" y="691.7" font-size="18" text-anchor="middle" textLength="21.42" lengthAdjust="spacingAndGlyphs">21</text>
<text x="1001.2" y="714.3" font-size="24" textLength="58" lengthAdjust="spacingAndGlyphs">MP-2</text>
<line x1="1077.5" y1="693.5" x2="1077.5" y2="716.5" stroke="#000" stroke-width="3" />
<line x1="1077.5" y1="705" x2="1559.7" y2="705" stroke="#000" stroke-width="2.8" />
<line x1="1559.7" y1="693.5" x2="1559.7" y2="716.5" stroke="#000" stroke-width="3" />
<line x1="1146.5" y1="699.5" x2="1146.5" y2="710.5" stroke="#000" stroke-width="2.8" />
<line x1="1176.3" y1="699.5" x2="1176.3" y2="710.5" stroke="#000" stroke-width="2.8" />
<line x1="1421.7" y1="699.5" x2="1421.7" y2="710.5" stroke="#000" stroke-width="2.8" />
<line x1="1491" y1="699.5" x2="1491" y2="710.5" stroke="#000" stroke-width="2.8" />
<line x1="1212" y1="705" x2="1468.3" y2="705" stroke="#1A64B0" stroke-width="4" />
<polygon points="1202,713.5 1222,713.5 1212,694.5" fill="#1A64B0" />
<polygon points="1458.3,713.5 1478.3,713.5 1468.3,694.5" fill="#1A64B0" />
<text x="1212" y="730.7" font-size="18" text-anchor="middle" textLength="21.42" lengthAdjust="spacingAndGlyphs">10</text>
<text x="1468.3" y="730.7" font-size="18" text-anchor="middle" textLength="21.42" lengthAdjust="spacingAndGlyphs">28</text>
<text x="1001.2" y="752.7" font-size="24" textLength="58" lengthAdjust="spacingAndGlyphs">MP-3</text>
<line x1="1077.5" y1="731.9" x2="1077.5" y2="754.9" stroke="#000" stroke-width="3" />
<line x1="1077.5" y1="743.4" x2="1559.7" y2="743.4" stroke="#000" stroke-width="2.8" />
<line x1="1559.7" y1="731.9" x2="1559.7" y2="754.9" stroke="#000" stroke-width="3" />
<line x1="1146.5" y1="737.9" x2="1146.5" y2="748.9" stroke="#000" stroke-width="2.8" />
<line x1="1176.3" y1="737.9" x2="1176.3" y2="748.9" stroke="#000" stroke-width="2.8" />
<line x1="1421.7" y1="737.9" x2="1421.7" y2="748.9" stroke="#000" stroke-width="2.8" />
<line x1="1491" y1="737.9" x2="1491" y2="748.9" stroke="#000" stroke-width="2.8" />
<line x1="1212" y1="743.4" x2="1468.3" y2="743.4" stroke="#1A64B0" stroke-width="4" />
<polygon points="1202,751.9 1222,751.9 1212,732.9" fill="#1A64B0" />
<polygon points="1458.3,751.9 1478.3,751.9 1468.3,732.9" fill="#1A64B0" />
<text x="1212" y="769.1" font-size="18" text-anchor="middle" textLength="21.42" lengthAdjust="spacingAndGlyphs">10</text>
<text x="1468.3" y="769.1" font-size="18" text-anchor="middle" textLength="21.42" lengthAdjust="spacingAndGlyphs">28</text>
<text x="1001.2" y="791.2" font-size="24" textLength="58" lengthAdjust="spacingAndGlyphs">MP-4</text>
<line x1="1077.5" y1="770.4" x2="1077.5" y2="793.4" stroke="#000" stroke-width="3" />
<line x1="1077.5" y1="781.9" x2="1175.5" y2="781.9" stroke="#000" stroke-width="2.8" />
<line x1="1146.5" y1="776.4" x2="1146.5" y2="787.4" stroke="#000" stroke-width="2.8" />
<line x1="1175.5" y1="781.9" x2="1212" y2="781.9" stroke="#1A64B0" stroke-width="4" />
<polygon points="1165.5,790.4 1185.5,790.4 1175.5,771.4" fill="#1A64B0" />
<polygon points="1202,790.4 1222,790.4 1212,771.4" fill="#1A64B0" />
<text x="1175.5" y="807.6" font-size="18" text-anchor="middle" textLength="10.71" lengthAdjust="spacingAndGlyphs">7</text>
<text x="1212" y="807.6" font-size="18" text-anchor="middle" textLength="21.42" lengthAdjust="spacingAndGlyphs">10</text>
<polygon points="1242.3,766.3 1244.14,780.06 1257.9,781.9 1244.14,783.74 1242.3,797.5 1240.46,783.74 1226.7,781.9 1240.46,780.06" fill="#C00000" />
<text x="1001.2" y="829.5" font-size="24" textLength="58" lengthAdjust="spacingAndGlyphs">MP-5</text>
<line x1="1077.5" y1="808.7" x2="1077.5" y2="831.7" stroke="#000" stroke-width="3" />
<line x1="1077.5" y1="820.2" x2="1175.5" y2="820.2" stroke="#000" stroke-width="2.8" />
<line x1="1146.5" y1="814.7" x2="1146.5" y2="825.7" stroke="#000" stroke-width="2.8" />
<line x1="1175.5" y1="820.2" x2="1212" y2="820.2" stroke="#1A64B0" stroke-width="4" />
<polygon points="1165.5,828.7 1185.5,828.7 1175.5,809.7" fill="#1A64B0" />
<polygon points="1202,828.7 1222,828.7 1212,809.7" fill="#1A64B0" />
<text x="1175.5" y="845.9" font-size="18" text-anchor="middle" textLength="10.71" lengthAdjust="spacingAndGlyphs">7</text>
<text x="1212" y="845.9" font-size="18" text-anchor="middle" textLength="21.42" lengthAdjust="spacingAndGlyphs">10</text>
<polygon points="1242.3,804.6 1244.14,818.36 1257.9,820.2 1244.14,822.04 1242.3,835.8 1240.46,822.04 1226.7,820.2 1240.46,818.36" fill="#C00000" />
<text x="1001.2" y="868" font-size="24" textLength="58" lengthAdjust="spacingAndGlyphs">MP-6</text>
<line x1="1077.5" y1="847.2" x2="1077.5" y2="870.2" stroke="#000" stroke-width="3" />
<line x1="1077.5" y1="858.7" x2="1175.5" y2="858.7" stroke="#000" stroke-width="2.8" />
<line x1="1146.5" y1="853.2" x2="1146.5" y2="864.2" stroke="#000" stroke-width="2.8" />
<line x1="1175.5" y1="858.7" x2="1212" y2="858.7" stroke="#1A64B0" stroke-width="4" />
<polygon points="1165.5,867.2 1185.5,867.2 1175.5,848.2" fill="#1A64B0" />
<polygon points="1202,867.2 1222,867.2 1212,848.2" fill="#1A64B0" />
<text x="1175.5" y="884.4" font-size="18" text-anchor="middle" textLength="10.71" lengthAdjust="spacingAndGlyphs">7</text>
<text x="1212" y="884.4" font-size="18" text-anchor="middle" textLength="21.42" lengthAdjust="spacingAndGlyphs">10</text>
<polygon points="1242.3,843.1 1244.14,856.86 1257.9,858.7 1244.14,860.54 1242.3,874.3 1240.46,860.54 1226.7,858.7 1240.46,856.86" fill="#C00000" />
<text x="1078" y="892" font-size="18" text-anchor="middle" textLength="10.71" lengthAdjust="spacingAndGlyphs">1</text>
<text x="1559.7" y="892" font-size="18" text-anchor="middle" textLength="21.42" lengthAdjust="spacingAndGlyphs">35</text>
<text x="999.2" y="949.9" font-size="24" textLength="59" lengthAdjust="spacingAndGlyphs">MS-1</text>
<line x1="1077.5" y1="928.4" x2="1077.5" y2="951.4" stroke="#000" stroke-width="3" />
<line x1="1077.5" y1="939.9" x2="1561" y2="939.9" stroke="#000" stroke-width="2.8" />
<line x1="1561" y1="928.4" x2="1561" y2="951.4" stroke="#000" stroke-width="3" />
<line x1="1147.3" y1="934.4" x2="1147.3" y2="945.4" stroke="#000" stroke-width="2.8" />
<line x1="1423" y1="934.4" x2="1423" y2="945.4" stroke="#000" stroke-width="2.8" />
<line x1="1491.7" y1="934.4" x2="1491.7" y2="945.4" stroke="#000" stroke-width="2.8" />
<line x1="1178" y1="939.9" x2="1366.2" y2="939.9" stroke="#B80000" stroke-width="4" />
<polygon points="1168,931.4 1188,931.4 1178,950.4" fill="#B80000" />
<polygon points="1356.2,931.4 1376.2,931.4 1366.2,950.4" fill="#B80000" />
<text x="1178" y="967.9" font-size="18" text-anchor="middle" textLength="10.71" lengthAdjust="spacingAndGlyphs">7</text>
<text x="1366.2" y="967.9" font-size="18" text-anchor="middle" textLength="21.42" lengthAdjust="spacingAndGlyphs">21</text>
<text x="999.2" y="988.2" font-size="24" textLength="59" lengthAdjust="spacingAndGlyphs">MS-2</text>
<line x1="1077.5" y1="966.7" x2="1077.5" y2="989.7" stroke="#000" stroke-width="3" />
<line x1="1077.5" y1="978.2" x2="1214.6" y2="978.2" stroke="#000" stroke-width="2.8" />
<line x1="1147.3" y1="972.7" x2="1147.3" y2="983.7" stroke="#000" stroke-width="2.8" />
<line x1="1180" y1="972.7" x2="1180" y2="983.7" stroke="#000" stroke-width="2.8" />
<line x1="1214.6" y1="978.2" x2="1562" y2="978.2" stroke="#B80000" stroke-width="4" />
<polygon points="1204.6,969.7 1224.6,969.7 1214.6,988.7" fill="#B80000" />
<polygon points="1552,969.7 1572,969.7 1562,988.7" fill="#B80000" />
<text x="1214.6" y="1006.2" font-size="18" text-anchor="middle" textLength="21.42" lengthAdjust="spacingAndGlyphs">10</text>
<text x="1562" y="1002.2" font-size="18" text-anchor="middle" textLength="21.42" lengthAdjust="spacingAndGlyphs">35</text>
<text x="999.2" y="1026.4" font-size="24" textLength="59" lengthAdjust="spacingAndGlyphs">MS-3</text>
<line x1="1077.5" y1="1004.9" x2="1077.5" y2="1027.9" stroke="#000" stroke-width="3" />
<line x1="1077.5" y1="1016.4" x2="1561" y2="1016.4" stroke="#000" stroke-width="2.8" />
<line x1="1561" y1="1004.9" x2="1561" y2="1027.9" stroke="#000" stroke-width="3" />
<line x1="1147.3" y1="1010.9" x2="1147.3" y2="1021.9" stroke="#000" stroke-width="2.8" />
<line x1="1180" y1="1010.9" x2="1180" y2="1021.9" stroke="#000" stroke-width="2.8" />
<line x1="1491.7" y1="1010.9" x2="1491.7" y2="1021.9" stroke="#000" stroke-width="2.8" />
<line x1="1214.6" y1="1016.4" x2="1469.5" y2="1016.4" stroke="#B80000" stroke-width="4" />
<polygon points="1204.6,1007.9 1224.6,1007.9 1214.6,1026.9" fill="#B80000" />
<polygon points="1459.5,1007.9 1479.5,1007.9 1469.5,1026.9" fill="#B80000" />
<text x="1180" y="1044.4" font-size="18" text-anchor="middle" textLength="10.71" lengthAdjust="spacingAndGlyphs">7</text>
<text x="1214.6" y="1044.4" font-size="18" text-anchor="middle" textLength="21.42" lengthAdjust="spacingAndGlyphs">10</text>
<text x="1469.5" y="1044.4" font-size="18" text-anchor="middle" textLength="21.42" lengthAdjust="spacingAndGlyphs">28</text>
<text x="999.2" y="1065" font-size="24" textLength="59" lengthAdjust="spacingAndGlyphs">MS-4</text>
<line x1="1077.5" y1="1043.5" x2="1077.5" y2="1066.5" stroke="#000" stroke-width="3" />
<line x1="1077.5" y1="1055" x2="1178" y2="1055" stroke="#000" stroke-width="2.8" />
<line x1="1147.3" y1="1049.5" x2="1147.3" y2="1060.5" stroke="#000" stroke-width="2.8" />
<line x1="1178" y1="1055" x2="1214.6" y2="1055" stroke="#B80000" stroke-width="4" />
<polygon points="1168,1046.5 1188,1046.5 1178,1065.5" fill="#B80000" />
<polygon points="1204.6,1046.5 1224.6,1046.5 1214.6,1065.5" fill="#B80000" />
<text x="1178" y="1083" font-size="18" text-anchor="middle" textLength="10.71" lengthAdjust="spacingAndGlyphs">7</text>
<text x="1214.6" y="1083" font-size="18" text-anchor="middle" textLength="21.42" lengthAdjust="spacingAndGlyphs">10</text>
<polygon points="1243.3,1039.4 1245.14,1053.16 1258.9,1055 1245.14,1056.84 1243.3,1070.6 1241.46,1056.84 1227.7,1055 1241.46,1053.16" fill="#C00000" />
<text x="999.2" y="1103.5" font-size="24" textLength="59" lengthAdjust="spacingAndGlyphs">MS-5</text>
<line x1="1077.5" y1="1082" x2="1077.5" y2="1105" stroke="#000" stroke-width="3" />
<line x1="1077.5" y1="1093.5" x2="1178" y2="1093.5" stroke="#000" stroke-width="2.8" />
<line x1="1147.3" y1="1088" x2="1147.3" y2="1099" stroke="#000" stroke-width="2.8" />
<line x1="1178" y1="1093.5" x2="1214.6" y2="1093.5" stroke="#B80000" stroke-width="4" />
<polygon points="1168,1085 1188,1085 1178,1104" fill="#B80000" />
<polygon points="1204.6,1085 1224.6,1085 1214.6,1104" fill="#B80000" />
<text x="1178" y="1121.5" font-size="18" text-anchor="middle" textLength="10.71" lengthAdjust="spacingAndGlyphs">7</text>
<text x="1214.6" y="1121.5" font-size="18" text-anchor="middle" textLength="21.42" lengthAdjust="spacingAndGlyphs">10</text>
<polygon points="1243.3,1077.9 1245.14,1091.66 1258.9,1093.5 1245.14,1095.34 1243.3,1109.1 1241.46,1095.34 1227.7,1093.5 1241.46,1091.66" fill="#C00000" />
<text x="999.2" y="1141.8" font-size="24" textLength="59" lengthAdjust="spacingAndGlyphs">MS-6</text>
<line x1="1077.5" y1="1120.3" x2="1077.5" y2="1143.3" stroke="#000" stroke-width="3" />
<line x1="1077.5" y1="1131.8" x2="1178" y2="1131.8" stroke="#000" stroke-width="2.8" />
<line x1="1147.3" y1="1126.3" x2="1147.3" y2="1137.3" stroke="#000" stroke-width="2.8" />
<line x1="1178" y1="1131.8" x2="1214.6" y2="1131.8" stroke="#B80000" stroke-width="4" />
<polygon points="1168,1123.3 1188,1123.3 1178,1142.3" fill="#B80000" />
<polygon points="1204.6,1123.3 1224.6,1123.3 1214.6,1142.3" fill="#B80000" />
<text x="1178" y="1159.8" font-size="18" text-anchor="middle" textLength="10.71" lengthAdjust="spacingAndGlyphs">7</text>
<text x="1214.6" y="1159.8" font-size="18" text-anchor="middle" textLength="21.42" lengthAdjust="spacingAndGlyphs">10</text>
<polygon points="1243.3,1116.2 1245.14,1129.96 1258.9,1131.8 1245.14,1133.64 1243.3,1147.4 1241.46,1133.64 1227.7,1131.8 1241.46,1129.96" fill="#C00000" />
<text x="1078" y="1167" font-size="18" text-anchor="middle" textLength="10.71" lengthAdjust="spacingAndGlyphs">1</text>
<text x="1559" y="1167" font-size="18" text-anchor="middle" textLength="21.42" lengthAdjust="spacingAndGlyphs">35</text>
<text x="1" y="1215.7" font-size="44" font-weight="bold">e</text>
<text x="234" y="1246.6" font-size="25.3" text-anchor="middle" textLength="74" lengthAdjust="spacingAndGlyphs">Limbs</text>
<text x="535.3" y="1246.6" font-size="25.3" text-anchor="middle" textLength="69.5" lengthAdjust="spacingAndGlyphs">Pygal</text>
<text x="837.6" y="1246.6" font-size="25.3" text-anchor="middle" textLength="69" lengthAdjust="spacingAndGlyphs">Soles</text>
<text x="1133.3" y="1246.6" font-size="25.3" text-anchor="middle" textLength="68" lengthAdjust="spacingAndGlyphs">Torso</text>
<text x="1441.7" y="1246.6" font-size="25.3" text-anchor="middle" textLength="62" lengthAdjust="spacingAndGlyphs">Face</text>
<text x="56.9" y="1357.8" font-size="25.3" text-anchor="middle" textLength="133.6" lengthAdjust="spacingAndGlyphs" transform="rotate(-90 56.9 1357.8)">MPXV (MP)</text>
<text x="56.4" y="1567.8" font-size="25.6" text-anchor="middle" textLength="183.5" lengthAdjust="spacingAndGlyphs" transform="rotate(-90 56.4 1567.8)">SIV-MPXV (MS)</text>
<g clip-path="url(#pc1)">
<rect x="85.2" y="1256.2" width="288.5" height="207.3" fill="#B4AEA2" />
<g filter="url(#blur6)"><g transform="translate(85.2 1256.2) scale(2.88 2.07)">
<path d="M-15,-15 H78 L70,18 Q40,24 -15,32 Z" fill="#96865E"/>
<path d="M-15,-15 H35 Q22,10 -15,14 Z" fill="#3E3830"/>
<path d="M55,-15 H115 V18 Q75,20 60,16 Z" fill="#D6D4D6"/>
<path d="M-15,32 Q30,22 55,19 Q80,16 115,14 V55 Q80,56 60,60 Q35,70 -15,82 Z" fill="#E4DCE0"/>
<path d="M10,45 Q40,33 70,30 L115,28 V48 Q70,52 40,62 L10,72 Z" fill="#EDE5E9"/>
<path d="M-15,74 Q30,66 55,58 Q75,54 115,54 V60 Q70,60 50,68 Q25,78 -15,88 Z" fill="#E6CCD2"/>
<path d="M-15,35 Q8,50 5,75 L-15,80 Z" fill="#B0AAA2"/>
<path d="M-15,86 Q30,76 55,66 Q75,60 115,58 V115 H-15 Z" fill="#B6B09E"/>
<ellipse cx="46" cy="94" rx="13" ry="9" fill="#A8B6C4"/>
<path d="M72,64 L115,60 V115 H78 Z" fill="#9C988E"/>
<path d="M-15,88 L25,82 L20,115 H-15 Z" fill="#C4BCA4"/>
</g></g>
<g transform="translate(85.2 1256.2) scale(2.88 2.07)">
<circle cx="18.3" cy="67.8" r="2.2" fill="#C8505A"/>
<circle cx="84" cy="47.7" r="2.2" fill="#C8505A"/>
<circle cx="9" cy="75.5" r="1.2" fill="#C8505A"/>
</g>
</g>
<polygon points="106.62,1365.68 119.7,1378.76 114.75,1383.71 134.9,1387.6 131.01,1367.45 126.06,1372.4 112.98,1359.32" fill="#1565B8" />
<polygon points="297.01,1327.28 310.11,1340.43 305.16,1345.37 325.3,1349.3 321.45,1329.14 316.49,1334.08 303.39,1320.92" fill="#1565B8" />
<g clip-path="url(#pc2)">
<rect x="386.2" y="1256.2" width="289" height="207.6" fill="#BCA8A4" />
<g filter="url(#blur6)"><g transform="translate(386.2 1256.2) scale(2.89 2.08)">
<path d="M78,-15 H115 V40 Q90,35 80,30 Z" fill="#8E5E3C"/>
<path d="M84,14 Q95,20 115,18 V38 Q92,40 84,34 Z" fill="#C4BCBC"/>
<path d="M85,38 Q95,40 115,45 V58 Q92,55 86,50 Z" fill="#5E5650"/>
<path d="M78,55 Q90,50 115,55 V115 H70 Q80,80 78,55 Z" fill="#A05A2C"/>
<path d="M-15,52 Q5,75 20,115 H-15 Z" fill="#7A6A60"/>
<ellipse cx="50" cy="68" rx="36" ry="26" fill="#CDB8B4" transform="rotate(-15 50 68)"/>
<ellipse cx="60" cy="62" rx="18" ry="14" fill="#D6C4C2"/>
<path d="M-15,115 Q30,90 60,115 Z" fill="#9A8276"/>
</g></g>
<g transform="translate(386.2 1256.2) scale(2.89 2.08)">
<path d="M0,0 H80 V30 L0,51 Z" fill="#E8ECEA"/>
<path d="M79.00,30.26 v-7" stroke="#555" stroke-width="0.3"/>
<path d="M76.95,30.80 v-3" stroke="#555" stroke-width="0.3"/>
<path d="M74.90,31.34 v-3" stroke="#555" stroke-width="0.3"/>
<path d="M72.85,31.88 v-3" stroke="#555" stroke-width="0.3"/>
<path d="M70.80,32.41 v-3" stroke="#555" stroke-width="0.3"/>
<path d="M68.75,32.95 v-7" stroke="#555" stroke-width="0.3"/>
<path d="M66.70,33.49 v-3" stroke="#555" stroke-width="0.3"/>
<path d="M64.65,34.03 v-3" stroke="#555" stroke-width="0.3"/>
<path d="M62.60,34.57 v-3" stroke="#555" stroke-width="0.3"/>
<path d="M60.55,35.11 v-3" stroke="#555" stroke-width="0.3"/>
<path d="M58.50,35.64 v-7" stroke="#555" stroke-width="0.3"/>
<path d="M56.45,36.18 v-3" stroke="#555" stroke-width="0.3"/>
<path d="M54.40,36.72 v-3" stroke="#555" stroke-width="0.3"/>
<path d="M52.35,37.26 v-3" stroke="#555" stroke-width="0.3"/>
<path d="M50.30,37.80 v-3" stroke="#555" stroke-width="0.3"/>
<path d="M48.25,38.33 v-7" stroke="#555" stroke-width="0.3"/>
<path d="M46.20,38.87 v-3" stroke="#555" stroke-width="0.3"/>
<path d="M44.15,39.41 v-3" stroke="#555" stroke-width="0.3"/>
<path d="M42.10,39.95 v-3" stroke="#555" stroke-width="0.3"/>
<path d="M40.05,40.49 v-3" stroke="#555" stroke-width="0.3"/>
<path d="M38.00,41.02 v-7" stroke="#555" stroke-width="0.3"/>
<path d="M35.95,41.56 v-3" stroke="#555" stroke-width="0.3"/>
<path d="M33.90,42.10 v-3" stroke="#555" stroke-width="0.3"/>
<path d="M31.85,42.64 v-3" stroke="#555" stroke-width="0.3"/>
<path d="M29.80,43.18 v-3" stroke="#555" stroke-width="0.3"/>
<path d="M27.75,43.72 v-7" stroke="#555" stroke-width="0.3"/>
<path d="M25.70,44.25 v-3" stroke="#555" stroke-width="0.3"/>
<path d="M23.65,44.79 v-3" stroke="#555" stroke-width="0.3"/>
<path d="M21.60,45.33 v-3" stroke="#555" stroke-width="0.3"/>
<path d="M19.55,45.87 v-3" stroke="#555" stroke-width="0.3"/>
<path d="M17.50,46.41 v-7" stroke="#555" stroke-width="0.3"/>
<path d="M15.45,46.94 v-3" stroke="#555" stroke-width="0.3"/>
<path d="M13.40,47.48 v-3" stroke="#555" stroke-width="0.3"/>
<path d="M11.35,48.02 v-3" stroke="#555" stroke-width="0.3"/>
<path d="M9.30,48.56 v-3" stroke="#555" stroke-width="0.3"/>
<path d="M7.25,49.10 v-7" stroke="#555" stroke-width="0.3"/>
<path d="M5.20,49.64 v-3" stroke="#555" stroke-width="0.3"/>
<path d="M3.15,50.17 v-3" stroke="#555" stroke-width="0.3"/>
<path d="M1.10,50.71 v-3" stroke="#555" stroke-width="0.3"/>
<path d="M19,12.5 L32,10.5 M35,9.5 L48,7 M51,6.5 L64,4 M20,22 L63,13.5" stroke="#333" stroke-width="0.35"/>
<circle cx="51" cy="74" r="1.1" fill="#A82830"/>
<circle cx="76" cy="55" r="1.1" fill="#A82830"/>
<circle cx="73" cy="39" r="1.0" fill="#A82830"/>
<circle cx="76" cy="45" r="0.9" fill="#A82830"/>
</g>
</g>
<text x="582.72" y="1265.54" font-size="8.5" text-anchor="middle" fill="#333" font-family="Liberation Serif, serif" transform="rotate(190 582.7 1262.6)">Date</text>
<text x="582.72" y="1284.23" font-size="8.5" text-anchor="middle" fill="#333" font-family="Liberation Serif, serif" transform="rotate(190 582.7 1281.3)">Name</text>
<text x="582.72" y="1301.87" font-size="9" text-anchor="middle" fill="#333" font-family="Liberation Serif, serif" transform="rotate(190 582.7 1298.7)">1</text>
<text x="550.93" y="1308.1" font-size="9" text-anchor="middle" fill="#333" font-family="Liberation Serif, serif" transform="rotate(190 550.9 1305.0)">2</text>
<text x="519.14" y="1314.33" font-size="9" text-anchor="middle" fill="#333" font-family="Liberation Serif, serif" transform="rotate(190 519.1 1311.2)">3</text>
<text x="484.46" y="1320.56" font-size="9" text-anchor="middle" fill="#333" font-family="Liberation Serif, serif" transform="rotate(190 484.5 1317.4)">4</text>
<text x="446.89" y="1327.82" font-size="9" text-anchor="middle" fill="#333" font-family="Liberation Serif, serif" transform="rotate(190 446.9 1324.7)">5</text>
<text x="410.76" y="1335.09" font-size="9" text-anchor="middle" fill="#333" font-family="Liberation Serif, serif" transform="rotate(190 410.8 1331.9)">6</text>
<text x="426.66" y="1270.73" font-size="9" text-anchor="middle" fill="#333" font-family="Liberation Serif, serif" transform="rotate(190 426.7 1267.6)">2</text>
<polygon points="502.8,1382.36 513.87,1392.86 509.05,1397.94 529.3,1401.3 524.88,1381.26 520.06,1386.33 509,1375.84" fill="#1565B8" />
<polygon points="576.66,1352.22 588.33,1362.92 583.6,1368.08 603.9,1371.1 599.15,1351.13 594.41,1356.29 582.74,1345.58" fill="#1565B8" />
<g clip-path="url(#pc3)">
<rect x="686.5" y="1256.2" width="289.4" height="207.6" fill="#C89EA0" />
<g filter="url(#blur6)"><g transform="translate(686.5 1256.2) scale(2.89 2.08)">
<path d="M-15,-15 H45 Q35,15 20,28 Q8,35 -15,40 Z" fill="#A29682"/>
<path d="M-15,-15 H14 Q8,10 -15,18 Z" fill="#E6E0C8"/>
<path d="M40,-15 H115 V30 Q85,20 70,25 Q55,10 40,-15 Z" fill="#D0A6A8"/>
<ellipse cx="50" cy="30" rx="30" ry="20" fill="#D6ACAE" transform="rotate(-20 50 30)"/>
<ellipse cx="45" cy="72" rx="24" ry="17" fill="#AC868C"/>
<path d="M-15,58 Q15,60 25,72 L28,115 H-15 Z" fill="#E8E2C6"/>
<path d="M86,42 Q115,38 115,40 V72 Q92,72 86,62 Z" fill="#ECE8CC"/>
<path d="M25,90 Q45,85 60,88 L62,115 H25 Z" fill="#E6E2E2"/>
<path d="M68,80 L115,70 V115 H66 Z" fill="#EEEEEE"/>
<ellipse cx="63" cy="89" rx="7" ry="11" fill="#A48690"/>
</g></g>
<g transform="translate(686.5 1256.2) scale(2.89 2.08)">
<path d="M72,100 l4,-13" stroke="#111" stroke-width="2.6"/>
<path d="M81,100 l4,-13" stroke="#111" stroke-width="2.6"/>
<path d="M90,100 l4,-13" stroke="#111" stroke-width="2.6"/>
<path d="M98,100 l4,-13" stroke="#111" stroke-width="2.6"/>
<circle cx="27" cy="35" r="3.4" fill="#E4DCB0"/>
<circle cx="55.5" cy="51" r="3.4" fill="#E4DCB0"/>
<circle cx="31" cy="64" r="3.2" fill="#E4DCB0"/>
<circle cx="56" cy="59" r="2" fill="#E4DCB0"/>
</g>
</g>
<polygon points="741.77,1362.24 753.75,1373.82 748.88,1378.85 769.1,1382.4 764.87,1362.32 760.01,1367.35 748.03,1355.76" fill="#1565B8" />
<polygon points="812.46,1332.12 824.03,1342.73 819.3,1347.89 839.6,1350.9 834.84,1330.93 830.11,1336.09 818.54,1325.48" fill="#1565B8" />
<g clip-path="url(#pc4)">
<rect x="990.2" y="1256.2" width="287" height="207.6" fill="#B6B2A8" />
<g filter="url(#blur6)"><g transform="translate(990.2 1256.2) scale(2.87 2.08)">
<path d="M25,-15 H115 V16 Q60,22 35,16 Z" fill="#847660"/>
<ellipse cx="62" cy="42" rx="26" ry="22" fill="#B4B6B2"/>
<ellipse cx="60" cy="46" rx="13" ry="11" fill="#A4AEB8"/>
<ellipse cx="84" cy="42" rx="15" ry="14" fill="#CCC2C2"/>
<path d="M-15,-15 H30 Q40,20 45,40 Q55,60 62,75 L70,115 H22 Q14,85 10,70 Q4,55 -15,45 Z" fill="#A6968E"/>
<path d="M8,15 Q25,20 35,45 L52,90 L30,95 Q18,60 8,15 Z" fill="#B0A29E"/>
<path d="M-15,45 Q4,55 10,70 Q14,85 22,115 H-15 Z" fill="#8E7C74"/>
<path d="M84,55 L115,50 V115 H82 Q90,80 84,55 Z" fill="#4C4640"/>
<path d="M52,80 L84,78 L86,115 H60 Z" fill="#E6ECEC"/>
<path d="M-15,62 L6,64 L7,86 L-15,84 Z" fill="#8A5E54"/>
</g></g>
<g transform="translate(990.2 1256.2) scale(2.87 2.08)">
<circle cx="79" cy="36" r="0.6" fill="#C03030"/>
</g>
</g>
<polygon points="1188.58,1305.65 1199.59,1316.9 1194.59,1321.79 1214.7,1325.9 1211.03,1305.71 1206.03,1310.6 1195.02,1299.35" fill="#1565B8" />
<g clip-path="url(#pc5)">
<rect x="1288.1" y="1252.9" width="288.8" height="211.5" fill="#E2E6EA" />
<g filter="url(#blur6)"><g transform="translate(1288.1 1252.9) scale(2.89 2.12)">
<path d="M70,-15 H115 V25 Q88,15 70,-15 Z" fill="#E8E8DE"/>
<path d="M15,115 Q9,60 19,35 Q34,4 55,1 Q80,2 92,25 Q115,45 115,60 V115 Z" fill="#5E5030"/>
<path d="M76,40 Q95,50 115,62 V115 H80 Q86,70 76,40 Z" fill="#7E6E3A"/>
<path d="M22,60 Q28,80 35,115 H18 Q14,80 22,60 Z" fill="#7A6C38"/>
<path d="M28,-15 H78 Q62,10 48,10 Q36,8 28,-15 Z" fill="#54462E"/>
<ellipse cx="55" cy="37" rx="25" ry="19" fill="#CCB8B2"/>
<ellipse cx="52" cy="64" rx="15" ry="14" fill="#C4A89E"/>
<ellipse cx="50" cy="87" rx="17" ry="12" fill="#DDCDC8"/>
<ellipse cx="35" cy="64" rx="6" ry="12" fill="#54462C"/>
<ellipse cx="70" cy="66" rx="6" ry="12" fill="#5A4A30"/>
<ellipse cx="50" cy="60" rx="6" ry="5" fill="#D8AAA2"/>
<path d="M96,-15 H115 V40 H96 Z" fill="#DDE2E6"/>
</g></g>
</g>
<rect x="1398.8" y="1317.9" width="94" height="19.8" fill="#2B2B2B" />
<polygon points="1358.29,1306.66 1369.89,1317.72 1365.06,1322.79 1385.3,1326.2 1380.94,1306.14 1376.11,1311.21 1364.51,1300.14" fill="#1565B8" />
<polygon points="1479.82,1301.39 1490.68,1312.19 1485.74,1317.16 1505.9,1321 1501.97,1300.86 1497.03,1305.82 1486.18,1295.01" fill="#1565B8" />
<g clip-path="url(#pc6)">
<rect x="85.4" y="1474.1" width="288.6" height="210.4" fill="#B89C72" />
<g filter="url(#blur6)"><g transform="translate(85.4 1474.1) scale(2.89 2.1)">
<path d="M50,-15 H115 V14 Q80,8 60,4 Z" fill="#E4E4E2"/>
<path d="M-15,-15 H55 Q30,4 -15,10 Z" fill="#8A7A60"/>
<path d="M-15,8 Q30,3 55,4 Q80,8 115,16 V55 Q70,52 45,56 Q28,66 18,80 L12,115 H-15 Z" fill="#AE9C9E"/>
<path d="M8,22 Q50,12 95,26 V46 Q60,46 20,52 Z" fill="#BCA8AA"/>
<path d="M-15,55 Q15,52 30,56 L18,80 L12,115 H-15 Z" fill="#B49A9C"/>
<path d="M20,62 Q40,55 60,55 L115,54 V60 Q60,62 45,64 Z" fill="#8C7A62"/>
<path d="M-15,85 L10,80 L12,115 H-15 Z" fill="#6E5C4A"/>
<path d="M22,78 Q30,65 45,62 L42,115 H15 Z" fill="#C09A64"/>
</g></g>
<g transform="translate(85.4 1474.1) scale(2.89 2.1)">
<path d="M41,75 L89,53 L100,95 L44,100 Z" fill="#F2F4F8"/>
<circle cx="39" cy="42" r="1.2" fill="#D8C080"/>
<circle cx="55" cy="31" r="1.0" fill="#D8C080"/>
<circle cx="76" cy="33" r="1.1" fill="#D8C080"/>
<circle cx="75" cy="40" r="0.8" fill="#D8C080"/>
<circle cx="96" cy="30" r="1.0" fill="#D8C080"/>
<circle cx="3" cy="38" r="1.0" fill="#D8C080"/>
</g>
</g>
<text x="0" y="0" font-size="30" fill="#26306A" font-style="italic" transform="translate(244 1680) rotate(-26)" font-family="Liberation Serif, serif">5022</text>
<polygon points="169.52,1537.97 181.78,1548.81 177.15,1554.06 197.5,1556.7 192.38,1536.82 187.74,1542.07 175.48,1531.23" fill="#D40000" />
<polygon points="216.51,1515.57 226.62,1525.73 221.66,1530.67 241.8,1534.6 237.96,1514.44 233,1519.38 222.89,1509.23" fill="#D40000" />
<polygon points="275.8,1517.66 286.87,1528.16 282.05,1533.24 302.3,1536.6 297.88,1516.56 293.06,1521.63 282,1511.14" fill="#D40000" />
<g clip-path="url(#pc7)">
<rect x="386.1" y="1474.1" width="288.8" height="210.4" fill="#E4A8B0" />
<g filter="url(#blur6)"><g transform="translate(386.1 1474.1) scale(2.89 2.1)">
<path d="M-15,-15 H115 V35 Q85,20 75,8 Q60,2 45,8 Q20,20 -15,50 Z" fill="#8E9A6E"/>
<path d="M72,-15 H115 V35 Q88,25 80,12 Z" fill="#A6AE7C"/>
<path d="M-15,30 Q10,25 20,22 L-15,60 Z" fill="#9A9E90"/>
<path d="M-15,58 Q15,28 45,12 Q58,5 68,8 Q62,30 50,45 Q40,60 32,115 H-15 Z" fill="#EEEAEC"/>
<path d="M30,50 Q45,45 60,40 L55,60 Q40,70 32,115 H28 Z" fill="#E8DADE"/>
<path d="M45,42 Q70,20 88,30 L92,115 H32 Q38,60 45,42 Z" fill="#E48E9E"/>
<ellipse cx="62" cy="78" rx="22" ry="18" fill="#E27E92"/>
<path d="M88,30 Q96,40 115,45 V115 H90 Z" fill="#D8C8C8"/>
</g></g>
<g transform="translate(386.1 1474.1) scale(2.89 2.1)">
<circle cx="61" cy="6" r="2.2" fill="#A00C24"/>
<circle cx="58" cy="16" r="1.8" fill="#A00C24"/>
<circle cx="68" cy="16" r="2.0" fill="#A00C24"/>
<circle cx="60" cy="25" r="1.6" fill="#A00C24"/>
<circle cx="52" cy="21" r="1.5" fill="#A00C24"/>
<circle cx="63" cy="22" r="1.8" fill="#A00C24"/>
<circle cx="44" cy="45" r="2.4" fill="#A00C24"/>
<circle cx="53" cy="40" r="2.0" fill="#A00C24"/>
<circle cx="35" cy="44" r="1.6" fill="#A00C24"/>
<circle cx="30" cy="40" r="1.6" fill="#A00C24"/>
<circle cx="24" cy="38" r="1.4" fill="#A00C24"/>
<circle cx="18" cy="45" r="1.2" fill="#A00C24"/>
<circle cx="13" cy="47" r="1.2" fill="#A00C24"/>
<circle cx="61" cy="33" r="1.8" fill="#A00C24"/>
<circle cx="67" cy="23" r="2.0" fill="#A00C24"/>
<circle cx="61" cy="66" r="1.9" fill="#A00C24"/>
<circle cx="31" cy="82" r="1.5" fill="#A00C24"/>
<circle cx="78" cy="75" r="2.0" fill="#A00C24"/>
<circle cx="41" cy="77" r="1.5" fill="#A00C24"/>
<circle cx="56" cy="80" r="1.0" fill="#A00C24"/>
<circle cx="12" cy="47" r="1.2" fill="#A00C24"/>
</g>
</g>
<polygon points="480.55,1537.81 491.72,1548.79 486.81,1553.79 507,1557.5 502.94,1537.38 498.03,1542.37 486.85,1531.39" fill="#D40000" />
<polygon points="510.64,1533.6 521.93,1545.48 516.85,1550.3 536.9,1554.7 533.52,1534.46 528.45,1539.28 517.16,1527.4" fill="#D40000" />
<polygon points="533,1519.66 544.07,1530.16 539.25,1535.24 559.5,1538.6 555.08,1518.56 550.26,1523.63 539.2,1513.14" fill="#D40000" />
<polygon points="470.82,1586.44 485.66,1598.12 481.33,1603.62 501.8,1605.1 495.56,1585.55 491.23,1591.05 476.38,1579.36" fill="#D40000" />
<g clip-path="url(#pc8)">
<rect x="687" y="1474.1" width="289.4" height="210.4" fill="#B08A8C" />
<g filter="url(#blur6)"><g transform="translate(687 1474.1) scale(2.89 2.1)">
<path d="M-15,-15 H75 Q55,5 35,15 Q15,28 -15,40 Z" fill="#ECEDEA"/>
<path d="M-15,40 Q15,28 35,15 Q55,5 75,2 L72,13 Q50,16 30,28 Q12,40 -15,53 Z" fill="#A48C6A"/>
<path d="M78,-15 H115 V36 Q92,28 86,18 Q81,8 78,-15 Z" fill="#EEEAD0"/>
<ellipse cx="35" cy="62" rx="33" ry="22" fill="#B48C90"/>
<ellipse cx="80" cy="38" rx="18" ry="8" fill="#A07C84" transform="rotate(-5 80 38)"/>
<ellipse cx="82" cy="66" rx="16" ry="6" fill="#A88088"/>
<path d="M72,49 Q86,51 115,53 V59 Q86,58 72,56 Z" fill="#DCD6BC"/>
<path d="M64,70 Q85,68 115,64 V115 H60 Z" fill="#EAE6C8"/>
<path d="M-15,88 Q30,86 60,84 L62,115 H-15 Z" fill="#EEEEEC"/>
<ellipse cx="55" cy="79" rx="8" ry="7" fill="#8E6C72"/>
</g></g>
<g transform="translate(687 1474.1) scale(2.89 2.1)">
<circle cx="11" cy="49" r="2.0" fill="#E2D8C0"/>
<circle cx="35" cy="47" r="2.2" fill="#E2D8C0"/>
<circle cx="55" cy="42" r="1.6" fill="#E2D8C0"/>
<circle cx="58" cy="53" r="2.4" fill="#E2D8C0"/>
<circle cx="46" cy="69" r="2.4" fill="#E2D8C0"/>
<circle cx="14" cy="80" r="2.2" fill="#E2D8C0"/>
<circle cx="38" cy="80" r="2.2" fill="#E2D8C0"/>
<circle cx="84" cy="20" r="1.6" fill="#E2D8C0"/>
<circle cx="94" cy="47" r="1.4" fill="#E2D8C0"/>
<circle cx="86" cy="58" r="1.5" fill="#E2D8C0"/>
</g>
</g>
<polygon points="689.17,1552.02 700.81,1562.66 696.09,1567.83 716.4,1570.8 711.6,1550.84 706.88,1556.01 695.23,1545.38" fill="#D40000" />
<polygon points="757.56,1545.72 767.88,1556.46 762.83,1561.31 782.9,1565.6 779.41,1545.37 774.37,1550.22 764.04,1539.48" fill="#D40000" />
<polygon points="818.05,1537.82 829.3,1548.83 824.41,1553.83 844.6,1557.5 840.49,1537.39 835.6,1542.39 824.35,1531.38" fill="#D40000" />
<polygon points="801.95,1594.21 813.22,1605.29 808.31,1610.28 828.5,1614 824.44,1593.88 819.53,1598.87 808.25,1587.79" fill="#D40000" />
<polygon points="701.06,1614.23 711.46,1624.99 706.42,1629.85 726.5,1634.1 722.97,1613.88 717.93,1618.74 707.54,1607.97" fill="#D40000" />
<g clip-path="url(#pc9)">
<rect x="988.5" y="1474" width="288.2" height="210.5" fill="#E2DCDE" />
<g filter="url(#blur6)"><g transform="translate(988.5 1474) scale(2.88 2.1)">
<path d="M-15,-15 H115 V18 Q60,20 30,20 Q10,18 -15,22 Z" fill="#3A3834"/>
<path d="M-15,-15 H32 Q38,10 44,18 Q20,22 -15,35 Z" fill="#7A6A50"/>
<path d="M86,-15 H115 V20 H86 Z" fill="#D4DCE0"/>
<path d="M34,8 L56,7 L57,18 L34,19 Z" fill="#E6E6E4"/>
<path d="M-15,28 Q40,17 115,18 V50 Q60,60 -15,55 Z" fill="#DEE0E6"/>
<path d="M45,28 Q80,22 115,26 V62 Q70,72 45,62 Z" fill="#E8D4D8"/>
<path d="M-15,60 Q40,76 115,62 V115 H-15 Z" fill="#564C44"/>
<path d="M-15,78 Q25,85 45,115 H-15 Z" fill="#86683C"/>
<path d="M-15,93 H10 V115 H-15 Z" fill="#D8D8D8"/>
</g></g>
<g transform="translate(988.5 1474) scale(2.88 2.1)">
<path d="M30,0 v14" stroke="#111" stroke-width="1.4"/>
<path d="M33,0 v14" stroke="#111" stroke-width="1.4"/>
<path d="M36,0 v14" stroke="#111" stroke-width="1.4"/>
<path d="M39,0 v14" stroke="#111" stroke-width="1.4"/>
<path d="M42,0 v14" stroke="#111" stroke-width="1.4"/>
<path d="M45,0 v14" stroke="#111" stroke-width="1.4"/>
<path d="M48,0 v14" stroke="#111" stroke-width="1.4"/>
<path d="M51,0 v14" stroke="#111" stroke-width="1.4"/>
<path d="M54,0 v14" stroke="#111" stroke-width="1.4"/>
<path d="M58,0 v14" stroke="#111" stroke-width="1.4"/>
<path d="M62,0 v14" stroke="#111" stroke-width="1.4"/>
<path d="M66,0 v14" stroke="#111" stroke-width="1.4"/>
<path d="M70,0 v14" stroke="#111" stroke-width="1.4"/>
<path d="M74,0 v14" stroke="#111" stroke-width="1.4"/>
<path d="M78,0 v14" stroke="#111" stroke-width="1.4"/>
<path d="M82,0 v14" stroke="#111" stroke-width="1.4"/>
<circle cx="38" cy="30" r="1.0" fill="#A01020"/>
<circle cx="38" cy="39" r="0.7" fill="#A01020"/>
<circle cx="3.5" cy="50" r="0.7" fill="#A01020"/>
<circle cx="63" cy="57" r="1.3" fill="#A01020"/>
<circle cx="67" cy="60" r="0.9" fill="#A01020"/>
<circle cx="70" cy="56" r="0.8" fill="#A01020"/>
<circle cx="53" cy="42" r="0.7" fill="#A01020"/>
<circle cx="47" cy="28" r="0.5" fill="#A01020"/>
<circle cx="19" cy="55" r="0.6" fill="#A01020"/>
</g>
</g>
<polygon points="1069.92,1514.78 1080.9,1525.76 1075.95,1530.71 1096.1,1534.6 1092.21,1514.45 1087.26,1519.4 1076.28,1508.42" fill="#D40000" />
<polygon points="1140.57,1568.83 1151.66,1579.59 1146.79,1584.62 1167,1588.2 1162.8,1568.11 1157.93,1573.13 1146.83,1562.37" fill="#D40000" />
<g clip-path="url(#pc10)">
<rect x="1289.1" y="1471.1" width="289.5" height="213.6" fill="#424436" />
<g filter="url(#blur6)"><g transform="translate(1289.1 1471.1) scale(2.9 2.14)">
<path d="M-15,-15 H115 V25 Q50,10 -15,25 Z" fill="#363A30"/>
<path d="M78,10 Q90,20 115,25 V75 Q90,70 82,50 Z" fill="#4E4E3C"/>
<path d="M28,6 Q45,-15 62,6 L60,18 Q45,14 30,18 Z" fill="#8A7E4C"/>
<ellipse cx="46" cy="42" rx="42" ry="27" fill="#D6CECE"/>
<ellipse cx="24" cy="45" rx="15" ry="13" fill="#EEEAEC"/>
<ellipse cx="64" cy="40" rx="16" ry="13" fill="#F0EEF0"/>
<ellipse cx="44" cy="28" rx="16" ry="9" fill="#E2D2D4"/>
<path d="M38,58 Q56,54 74,62 L78,115 H36 Z" fill="#E4CECE"/>
<path d="M-15,58 Q20,66 36,80 L36,115 H-15 Z" fill="#4A4A3C"/>
<path d="M74,62 Q86,66 96,76 L115,115 H78 Z" fill="#3A3A30"/>
<path d="M94,75 L115,73 V92 L94,90 Z" fill="#9CB8C8"/>
</g></g>
<g transform="translate(1289.1 1471.1) scale(2.9 2.14)">
<ellipse cx="50" cy="80" rx="3.5" ry="2.5" fill="#3A1818"/>
</g>
</g>
<rect x="1336.9" y="1551.7" width="155" height="31.2" fill="#2B2B2B" />
<polygon points="1364.67,1497.92 1376.01,1508.27 1371.29,1513.44 1391.6,1516.4 1386.79,1496.45 1382.07,1501.62 1370.73,1491.28" fill="#D40000" />
<polygon points="1410.21,1485.28 1421.02,1496.13 1416.06,1501.07 1436.2,1505 1432.36,1484.84 1427.39,1489.78 1416.59,1478.92" fill="#D40000" />
<polygon points="1466.32,1524.79 1477.18,1535.59 1472.24,1540.56 1492.4,1544.4 1488.47,1524.26 1483.53,1529.22 1472.68,1518.41" fill="#D40000" />
<polygon points="1291.75,1547.61 1302.92,1558.59 1298.01,1563.59 1318.2,1567.3 1314.14,1547.18 1309.23,1552.17 1298.05,1541.19" fill="#D40000" />
<text x="1" y="1739" font-size="44" font-weight="bold">f</text>
<text x="227.2" y="1747.2" font-size="24" textLength="328.5" lengthAdjust="spacingAndGlyphs">Lesion distribution (10 dpi)</text>
<line x1="91.2" y1="1781.9" x2="91.2" y2="2076.1" stroke="#000" stroke-width="2.6" />
<line x1="80.1" y1="2076.1" x2="790.9" y2="2076.1" stroke="#000" stroke-width="2.6" />
<line x1="80.1" y1="2076.1" x2="91.2" y2="2076.1" stroke="#000" stroke-width="2.6" />
<text x="78.5" y="2084.1" font-size="25.5" text-anchor="end">0</text>
<line x1="80.1" y1="2027.06" x2="91.2" y2="2027.06" stroke="#000" stroke-width="2.6" />
<text x="78.5" y="2035.06" font-size="25.5" text-anchor="end">20</text>
<line x1="80.1" y1="1978.02" x2="91.2" y2="1978.02" stroke="#000" stroke-width="2.6" />
<text x="78.5" y="1986.02" font-size="25.5" text-anchor="end">40</text>
<line x1="80.1" y1="1928.98" x2="91.2" y2="1928.98" stroke="#000" stroke-width="2.6" />
<text x="78.5" y="1936.98" font-size="25.5" text-anchor="end">60</text>
<line x1="80.1" y1="1879.94" x2="91.2" y2="1879.94" stroke="#000" stroke-width="2.6" />
<text x="78.5" y="1887.94" font-size="25.5" text-anchor="end">80</text>
<line x1="80.1" y1="1830.9" x2="91.2" y2="1830.9" stroke="#000" stroke-width="2.6" />
<text x="78.5" y="1838.9" font-size="25.5" text-anchor="end">100</text>
<line x1="80.1" y1="1781.86" x2="91.2" y2="1781.86" stroke="#000" stroke-width="2.6" />
<text x="78.5" y="1789.86" font-size="25.5" text-anchor="end">120</text>
<line x1="158.2" y1="2076.1" x2="158.2" y2="2089" stroke="#000" stroke-width="2.6" />
<text x="158.2" y="2109.7" font-size="25.3" text-anchor="middle">Limbs</text>
<line x1="298" y1="2076.1" x2="298" y2="2089" stroke="#000" stroke-width="2.6" />
<text x="298" y="2109.7" font-size="25.3" text-anchor="middle">Pygal</text>
<line x1="439" y1="2076.1" x2="439" y2="2089" stroke="#000" stroke-width="2.6" />
<text x="439" y="2109.7" font-size="25.3" text-anchor="middle">Soles</text>
<line x1="579.3" y1="2076.1" x2="579.3" y2="2089" stroke="#000" stroke-width="2.6" />
<text x="579.3" y="2109.7" font-size="25.3" text-anchor="middle">Torso</text>
<line x1="719.9" y1="2076.1" x2="719.9" y2="2089" stroke="#000" stroke-width="2.6" />
<text x="719.9" y="2109.7" font-size="25.3" text-anchor="middle">Face</text>
<line x1="132.5" y1="2058.94" x2="132.5" y2="2046.92" stroke="#000" stroke-width="2.6" />
<line x1="123" y1="2046.92" x2="142" y2="2046.92" stroke="#000" stroke-width="2.6" />
<rect x="113.7" y="2058.94" width="37.6" height="17.16" fill="url(#gBlue)" stroke="#2D6AA8" stroke-width="2" />
<line x1="185.9" y1="2011.12" x2="185.9" y2="1995.18" stroke="#000" stroke-width="2.6" />
<line x1="176.4" y1="1995.18" x2="195.4" y2="1995.18" stroke="#000" stroke-width="2.6" />
<rect x="167.1" y="2011.12" width="37.6" height="64.98" fill="url(#gRed)" stroke="#A83030" stroke-width="2" />
<line x1="272.3" y1="2072.42" x2="272.3" y2="2065.07" stroke="#000" stroke-width="2.6" />
<line x1="262.8" y1="2065.07" x2="281.8" y2="2065.07" stroke="#000" stroke-width="2.6" />
<rect x="253.5" y="2072.42" width="37.6" height="3.68" fill="url(#gBlue)" stroke="#2D6AA8" stroke-width="2" />
<line x1="325.7" y1="2012.59" x2="325.7" y2="1970.66" stroke="#000" stroke-width="2.6" />
<line x1="316.2" y1="1970.66" x2="335.2" y2="1970.66" stroke="#000" stroke-width="2.6" />
<rect x="306.9" y="2012.59" width="37.6" height="63.51" fill="url(#gRed)" stroke="#A83030" stroke-width="2" />
<line x1="413.3" y1="2057.71" x2="413.3" y2="2047.17" stroke="#000" stroke-width="2.6" />
<line x1="403.8" y1="2047.17" x2="422.8" y2="2047.17" stroke="#000" stroke-width="2.6" />
<rect x="394.5" y="2057.71" width="37.6" height="18.39" fill="url(#gBlue)" stroke="#2D6AA8" stroke-width="2" />
<line x1="466.7" y1="2057.46" x2="466.7" y2="2047.17" stroke="#000" stroke-width="2.6" />
<line x1="457.2" y1="2047.17" x2="476.2" y2="2047.17" stroke="#000" stroke-width="2.6" />
<rect x="447.9" y="2057.46" width="37.6" height="18.64" fill="url(#gRed)" stroke="#A83030" stroke-width="2" />
<line x1="553.6" y1="2074.87" x2="553.6" y2="2073.16" stroke="#000" stroke-width="2.6" />
<line x1="544.1" y1="2073.16" x2="563.1" y2="2073.16" stroke="#000" stroke-width="2.6" />
<rect x="534.8" y="2074.87" width="37.6" height="1.23" fill="url(#gBlue)" stroke="#2D6AA8" stroke-width="2" />
<line x1="607" y1="2063.1" x2="607" y2="2049.13" stroke="#000" stroke-width="2.6" />
<line x1="597.5" y1="2049.13" x2="616.5" y2="2049.13" stroke="#000" stroke-width="2.6" />
<rect x="588.2" y="2063.1" width="37.6" height="13" fill="url(#gRed)" stroke="#A83030" stroke-width="2" />
<line x1="694.2" y1="2074.14" x2="694.2" y2="2071.2" stroke="#000" stroke-width="2.6" />
<line x1="684.7" y1="2071.2" x2="703.7" y2="2071.2" stroke="#000" stroke-width="2.6" />
<rect x="675.4" y="2074.14" width="37.6" height="1.96" fill="url(#gBlue)" stroke="#2D6AA8" stroke-width="2" />
<line x1="747.6" y1="2067.52" x2="747.6" y2="2057.22" stroke="#000" stroke-width="2.6" />
<line x1="738.1" y1="2057.22" x2="757.1" y2="2057.22" stroke="#000" stroke-width="2.6" />
<rect x="728.8" y="2067.52" width="37.6" height="8.58" fill="url(#gRed)" stroke="#A83030" stroke-width="2" />
<circle cx="119.2" cy="2074.87" r="7.6" fill="#fff" stroke="#000" stroke-width="2.6" />
<circle cx="128.5" cy="2067.27" r="7.6" fill="#fff" stroke="#000" stroke-width="2.6" />
<circle cx="136.8" cy="2068.99" r="7.6" fill="#fff" stroke="#000" stroke-width="2.6" />
<circle cx="146.9" cy="2067.27" r="7.6" fill="#fff" stroke="#000" stroke-width="2.6" />
<circle cx="131.8" cy="2049.62" r="7.6" fill="#fff" stroke="#000" stroke-width="2.6" />
<circle cx="131.8" cy="2013.08" r="7.6" fill="#fff" stroke="#000" stroke-width="2.6" />
<circle cx="185.2" cy="1976.55" r="7.6" fill="#fff" stroke="#000" stroke-width="2.6" />
<circle cx="172.8" cy="2001.31" r="7.6" fill="#fff" stroke="#000" stroke-width="2.6" />
<circle cx="183" cy="2003.77" r="7.6" fill="#fff" stroke="#000" stroke-width="2.6" />
<circle cx="190.2" cy="2003.03" r="7.6" fill="#fff" stroke="#000" stroke-width="2.6" />
<circle cx="198.5" cy="2013.08" r="7.6" fill="#fff" stroke="#000" stroke-width="2.6" />
<circle cx="185.2" cy="2059.67" r="7.6" fill="#fff" stroke="#000" stroke-width="2.6" />
<circle cx="259" cy="2076.1" r="7.6" fill="#fff" stroke="#000" stroke-width="2.6" />
<circle cx="272.8" cy="2076.1" r="7.6" fill="#fff" stroke="#000" stroke-width="2.6" />
<circle cx="286.2" cy="2076.1" r="7.6" fill="#fff" stroke="#000" stroke-width="2.6" />
<circle cx="265.3" cy="2067.03" r="7.6" fill="#fff" stroke="#000" stroke-width="2.6" />
<circle cx="279" cy="2068.74" r="7.6" fill="#fff" stroke="#000" stroke-width="2.6" />
<circle cx="272.1" cy="2054.03" r="7.6" fill="#fff" stroke="#000" stroke-width="2.6" />
<circle cx="326.2" cy="1812.76" r="7.6" fill="#fff" stroke="#000" stroke-width="2.6" />
<circle cx="326.2" cy="2005.73" r="7.6" fill="#fff" stroke="#000" stroke-width="2.6" />
<circle cx="326.2" cy="2036.87" r="7.6" fill="#fff" stroke="#000" stroke-width="2.6" />
<circle cx="313.1" cy="2076.1" r="7.6" fill="#fff" stroke="#000" stroke-width="2.6" />
<circle cx="326.2" cy="2068.5" r="7.6" fill="#fff" stroke="#000" stroke-width="2.6" />
<circle cx="339.6" cy="2068.5" r="7.6" fill="#fff" stroke="#000" stroke-width="2.6" />
<circle cx="412.6" cy="2027.06" r="7.6" fill="#fff" stroke="#000" stroke-width="2.6" />
<circle cx="400" cy="2047.17" r="7.6" fill="#fff" stroke="#000" stroke-width="2.6" />
<circle cx="426.5" cy="2051.58" r="7.6" fill="#fff" stroke="#000" stroke-width="2.6" />
<circle cx="412.6" cy="2060.9" r="7.6" fill="#fff" stroke="#000" stroke-width="2.6" />
<circle cx="400" cy="2074.63" r="7.6" fill="#fff" stroke="#000" stroke-width="2.6" />
<circle cx="426.5" cy="2069.97" r="7.6" fill="#fff" stroke="#000" stroke-width="2.6" />
<circle cx="453.4" cy="2036.87" r="7.6" fill="#fff" stroke="#000" stroke-width="2.6" />
<circle cx="480.1" cy="2029.51" r="7.6" fill="#fff" stroke="#000" stroke-width="2.6" />
<circle cx="453.4" cy="2058.45" r="7.6" fill="#fff" stroke="#000" stroke-width="2.6" />
<circle cx="480.1" cy="2054.03" r="7.6" fill="#fff" stroke="#000" stroke-width="2.6" />
<circle cx="453.4" cy="2076.1" r="7.6" fill="#fff" stroke="#000" stroke-width="2.6" />
<circle cx="480.1" cy="2076.1" r="7.6" fill="#fff" stroke="#000" stroke-width="2.6" />
<circle cx="539.8" cy="2076.1" r="7.6" fill="#fff" stroke="#000" stroke-width="2.6" />
<circle cx="544.8" cy="2068.74" r="7.6" fill="#fff" stroke="#000" stroke-width="2.6" />
<circle cx="551.1" cy="2076.1" r="7.6" fill="#fff" stroke="#000" stroke-width="2.6" />
<circle cx="561.2" cy="2076.1" r="7.6" fill="#fff" stroke="#000" stroke-width="2.6" />
<circle cx="566.2" cy="2076.1" r="7.6" fill="#fff" stroke="#000" stroke-width="2.6" />
<circle cx="556" cy="2076.1" r="7.6" fill="#fff" stroke="#000" stroke-width="2.6" />
<circle cx="607" cy="2004.99" r="7.6" fill="#fff" stroke="#000" stroke-width="2.6" />
<circle cx="607" cy="2058.45" r="7.6" fill="#fff" stroke="#000" stroke-width="2.6" />
<circle cx="594" cy="2076.1" r="7.6" fill="#fff" stroke="#000" stroke-width="2.6" />
<circle cx="603.5" cy="2072.42" r="7.6" fill="#fff" stroke="#000" stroke-width="2.6" />
<circle cx="612.8" cy="2076.1" r="7.6" fill="#fff" stroke="#000" stroke-width="2.6" />
<circle cx="621.2" cy="2076.1" r="7.6" fill="#fff" stroke="#000" stroke-width="2.6" />
<circle cx="680.9" cy="2076.1" r="7.6" fill="#fff" stroke="#000" stroke-width="2.6" />
<circle cx="685.9" cy="2068.74" r="7.6" fill="#fff" stroke="#000" stroke-width="2.6" />
<circle cx="693.5" cy="2076.1" r="7.6" fill="#fff" stroke="#000" stroke-width="2.6" />
<circle cx="701" cy="2076.1" r="7.6" fill="#fff" stroke="#000" stroke-width="2.6" />
<circle cx="707.3" cy="2067.03" r="7.6" fill="#fff" stroke="#000" stroke-width="2.6" />
<circle cx="697" cy="2073.65" r="7.6" fill="#fff" stroke="#000" stroke-width="2.6" />
<circle cx="747.6" cy="2027.06" r="7.6" fill="#fff" stroke="#000" stroke-width="2.6" />
<circle cx="747.6" cy="2058.94" r="7.6" fill="#fff" stroke="#000" stroke-width="2.6" />
<circle cx="735" cy="2076.1" r="7.6" fill="#fff" stroke="#000" stroke-width="2.6" />
<circle cx="746.3" cy="2076.1" r="7.6" fill="#fff" stroke="#000" stroke-width="2.6" />
<circle cx="751.4" cy="2076.1" r="7.6" fill="#fff" stroke="#000" stroke-width="2.6" />
<circle cx="760.2" cy="2076.1" r="7.6" fill="#fff" stroke="#000" stroke-width="2.6" />
<path d="M129,1980 V1902 H181.9 V1954.4" fill="none" stroke="#000" stroke-width="2.6" />
<text x="157.4" y="1906.2" font-size="40" text-anchor="middle" font-weight="bold">*</text>
<path d="M265.7,2039.6 V1793.2 H325.4" fill="none" stroke="#000" stroke-width="2.6" />
<text x="300.3" y="1796.1" font-size="40" text-anchor="middle" font-weight="bold">**</text>
<path d="M411.3,2015.6 V1986.7 H469.3 V2003" fill="none" stroke="#000" stroke-width="2.6" />
<text x="441.6" y="1976.6" font-size="24" text-anchor="middle">1×</text>
<path d="M550.6,2048.4 V1931.5 H608.8 V1952.2" fill="none" stroke="#000" stroke-width="2.6" />
<text x="547.4" y="1921.5" font-size="24" textLength="64.8" lengthAdjust="spacingAndGlyphs">12.3×</text>
<path d="M690.9,2056 V1976.7 H748.9 V1997.5" fill="none" stroke="#000" stroke-width="2.6" />
<text x="692.9" y="1968.2" font-size="24" textLength="51" lengthAdjust="spacingAndGlyphs">3.9×</text>
<rect x="553" y="1798.2" width="31.8" height="18.3" fill="url(#gBlue)" stroke="#2D6AA8" stroke-width="2" />
<text x="594.1" y="1816.5" font-size="25" textLength="132" lengthAdjust="spacingAndGlyphs">MPXV (MP)</text>
<rect x="553" y="1840.2" width="31.8" height="19.3" fill="url(#gRed)" stroke="#A83030" stroke-width="2" />
<text x="595.6" y="1857.1" font-size="25.4" textLength="182.3" lengthAdjust="spacingAndGlyphs">SIV-MPXV (MS)</text>
<text x="35" y="1931" font-size="25.5" text-anchor="middle" textLength="182" lengthAdjust="spacingAndGlyphs" transform="rotate(-90 35 1931)">Lesion number</text>
<text x="874.5" y="1739.5" font-size="44" font-weight="bold">g</text>
<text x="1113.1" y="1747.1" font-size="24" textLength="355.7" lengthAdjust="spacingAndGlyphs">Viral burden (lesions, 10 dpi)</text>
<line x1="1032" y1="1781.9" x2="1032" y2="2073.3" stroke="#000" stroke-width="2.6" />
<line x1="1021" y1="2073.3" x2="1600.4" y2="2073.3" stroke="#000" stroke-width="2.6" />
<line x1="1021" y1="2073.3" x2="1032" y2="2073.3" stroke="#000" stroke-width="2.6" />
<text x="1017.5" y="2081.8" font-size="25.5" text-anchor="end">0</text>
<line x1="1021" y1="2015.02" x2="1032" y2="2015.02" stroke="#000" stroke-width="2.6" />
<text x="1017.5" y="2023.52" font-size="25.5" text-anchor="end">2</text>
<line x1="1021" y1="1956.74" x2="1032" y2="1956.74" stroke="#000" stroke-width="2.6" />
<text x="1017.5" y="1965.24" font-size="25.5" text-anchor="end">4</text>
<line x1="1021" y1="1898.46" x2="1032" y2="1898.46" stroke="#000" stroke-width="2.6" />
<text x="1017.5" y="1906.96" font-size="25.5" text-anchor="end">6</text>
<line x1="1021" y1="1840.18" x2="1032" y2="1840.18" stroke="#000" stroke-width="2.6" />
<text x="1017.5" y="1848.68" font-size="25.5" text-anchor="end">8</text>
<line x1="1021" y1="1781.9" x2="1032" y2="1781.9" stroke="#000" stroke-width="2.6" />
<text x="1017.5" y="1790.4" font-size="25.5" text-anchor="end">10</text>
<line x1="1021" y1="2044.16" x2="1032" y2="2044.16" stroke="#000" stroke-width="2.6" />
<rect x="1118.2" y="1914.1" width="176" height="159.2" fill="url(#gBlue)" stroke="#2D64A0" stroke-width="2.6" />
<rect x="1336.6" y="1835.8" width="176.5" height="237.5" fill="url(#gRed)" stroke="#A83232" stroke-width="2.6" />
<line x1="1037.6" y1="2044.6" x2="1596.2" y2="2044.6" stroke="#000" stroke-width="3" stroke-dasharray="0.01 7.5" stroke-linecap="round"/>
<line x1="1206.4" y1="2073.3" x2="1206.4" y2="2084" stroke="#000" stroke-width="2.6" />
<line x1="1424.4" y1="2073.3" x2="1424.4" y2="2084" stroke="#000" stroke-width="2.6" />
<text x="1209.6" y="2106.5" font-size="25" text-anchor="middle" textLength="41.25" lengthAdjust="spacingAndGlyphs">MS</text>
<text x="1430" y="2106.5" font-size="25" text-anchor="middle" textLength="41.25" lengthAdjust="spacingAndGlyphs">MP</text>
<line x1="1163" y1="1901.5" x2="1250" y2="1901.5" stroke="#000" stroke-width="2.6" />
<line x1="1163" y1="1928.7" x2="1250" y2="1928.7" stroke="#000" stroke-width="2.6" />
<line x1="1206.4" y1="1901.5" x2="1206.4" y2="1928.7" stroke="#000" stroke-width="2.6" />
<circle cx="1190" cy="1903.5" r="8.3" fill="#fff" stroke="#000" stroke-width="2.6" />
<circle cx="1222" cy="1912.3" r="8.3" fill="#fff" stroke="#000" stroke-width="2.6" />
<circle cx="1206.4" cy="1929.7" r="8.3" fill="#fff" stroke="#000" stroke-width="2.6" />
<line x1="1381.5" y1="1821.9" x2="1468.8" y2="1821.9" stroke="#000" stroke-width="2.6" />
<line x1="1381.5" y1="1851" x2="1468.8" y2="1851" stroke="#000" stroke-width="2.6" />
<line x1="1425" y1="1821.9" x2="1425" y2="1851" stroke="#000" stroke-width="2.6" />
<circle cx="1408.4" cy="1822.5" r="8.3" fill="#fff" stroke="#000" stroke-width="2.6" />
<circle cx="1440.5" cy="1835.8" r="8.3" fill="#fff" stroke="#000" stroke-width="2.6" />
<circle cx="1408.4" cy="1851" r="8.3" fill="#fff" stroke="#000" stroke-width="2.6" />
<path d="M1208.9,1791.4 V1779 H1421.7 V1791.4" fill="none" stroke="#000" stroke-width="2.6" />
<text x="1315" y="1782.6" font-size="36" text-anchor="middle" font-weight="bold" textLength="27.7" lengthAdjust="spacingAndGlyphs">**</text>
<text x="931.8" y="1927.4" font-size="25" text-anchor="middle" textLength="228" lengthAdjust="spacingAndGlyphs" transform="rotate(-90 931.8 1927.4)">Log DNA in lesions</text>
<text x="965.8" y="1928" font-size="25" text-anchor="middle" textLength="199" lengthAdjust="spacingAndGlyphs" transform="rotate(-90 965.8 1928)">(copies/µg DNA)</text>
<text x="6.5" y="2179.3" font-size="44" font-weight="bold">h</text>
<text x="203.9" y="2191" font-size="26">20</text>
<text x="242.82" y="2191.3" font-size="31">×</text>
<text x="626.2" y="2191" font-size="26">200</text>
<text x="679.58" y="2191.3" font-size="31">×</text>
<text x="1055.3" y="2191" font-size="26">20</text>
<text x="1094.22" y="2191.3" font-size="31">×</text>
<text x="1471.6" y="2191" font-size="26">200</text>
<text x="1524.98" y="2191.3" font-size="31">×</text>
<g clip-path="url(#h1c)">
<rect x="38" y="2220" width="396" height="185" fill="#F4CAEE" />
<g filter="url(#blur4)">
<polygon points="125,2228 232,2230 238,2320 215,2345 170,2330 130,2290" fill="#ECB2E4" />
<polygon points="150,2300 230,2330 280,2395 220,2395 170,2360" fill="#EEB8E6" />
<polygon points="40,2300 110,2300 140,2350 90,2365 40,2355" fill="#F0BEE8" />
</g>
<circle cx="166.9" cy="2251.4" r="1.4" fill="#FBE6F8"/>
<circle cx="361.9" cy="2241.5" r="1.3" fill="#F8DAF4"/>
<circle cx="124.2" cy="2240.0" r="1.1" fill="#FBE6F8"/>
<circle cx="75.6" cy="2299.3" r="1.6" fill="#FBE6F8"/>
<circle cx="411.4" cy="2335.4" r="1.3" fill="#FBE6F8"/>
<circle cx="266.2" cy="2294.4" r="1.8" fill="#FBE6F8"/>
<circle cx="258.2" cy="2248.3" r="1.1" fill="#F8DAF4"/>
<circle cx="86.2" cy="2279.0" r="1.6" fill="#FBE6F8"/>
<circle cx="80.4" cy="2325.0" r="0.8" fill="#FBE6F8"/>
<circle cx="254.7" cy="2236.0" r="0.7" fill="#FBE6F8"/>
<circle cx="234.6" cy="2318.1" r="1.5" fill="#E49ADA"/>
<circle cx="269.5" cy="2304.3" r="1.0" fill="#FBE6F8"/>
<circle cx="314.0" cy="2267.7" r="1.3" fill="#F8DAF4"/>
<circle cx="234.1" cy="2285.1" r="1.1" fill="#F8DAF4"/>
<circle cx="424.2" cy="2245.7" r="1.1" fill="#E49ADA"/>
<circle cx="99.6" cy="2310.6" r="0.6" fill="#F8DAF4"/>
<circle cx="70.4" cy="2322.7" r="1.5" fill="#E49ADA"/>
<circle cx="173.3" cy="2286.3" r="1.2" fill="#E49ADA"/>
<circle cx="67.0" cy="2241.4" r="0.9" fill="#F8DAF4"/>
<circle cx="300.3" cy="2235.6" r="1.4" fill="#F8DAF4"/>
<circle cx="266.6" cy="2344.2" r="1.1" fill="#F8DAF4"/>
<circle cx="191.2" cy="2342.0" r="0.6" fill="#E49ADA"/>
<circle cx="179.3" cy="2331.9" r="1.2" fill="#FBE6F8"/>
<circle cx="341.1" cy="2247.6" r="0.9" fill="#E49ADA"/>
<circle cx="399.4" cy="2311.9" r="0.8" fill="#E49ADA"/>
<circle cx="255.4" cy="2379.6" r="1.6" fill="#F8DAF4"/>
<circle cx="149.1" cy="2297.7" r="1.0" fill="#E49ADA"/>
<circle cx="415.4" cy="2251.4" r="0.8" fill="#FBE6F8"/>
<circle cx="298.1" cy="2227.1" r="1.6" fill="#FBE6F8"/>
<circle cx="143.0" cy="2225.7" r="1.1" fill="#E49ADA"/>
<circle cx="279.0" cy="2280.8" r="0.8" fill="#F8DAF4"/>
<circle cx="412.5" cy="2339.6" r="1.5" fill="#E49ADA"/>
<circle cx="392.6" cy="2361.5" r="1.6" fill="#F8DAF4"/>
<circle cx="193.8" cy="2294.8" r="0.7" fill="#F8DAF4"/>
<circle cx="197.0" cy="2258.4" r="1.8" fill="#E49ADA"/>
<circle cx="103.6" cy="2284.5" r="0.7" fill="#FBE6F8"/>
<circle cx="262.2" cy="2318.9" r="1.7" fill="#F8DAF4"/>
<circle cx="50.0" cy="2378.0" r="1.3" fill="#FBE6F8"/>
<circle cx="288.7" cy="2392.2" r="1.3" fill="#E49ADA"/>
<circle cx="88.2" cy="2373.6" r="1.8" fill="#E49ADA"/>
<circle cx="228.3" cy="2279.6" r="0.8" fill="#F8DAF4"/>
<circle cx="174.3" cy="2271.3" r="1.6" fill="#FBE6F8"/>
<circle cx="242.4" cy="2260.9" r="1.7" fill="#E49ADA"/>
<circle cx="97.5" cy="2320.1" r="0.6" fill="#F8DAF4"/>
<circle cx="156.9" cy="2337.5" r="0.7" fill="#E49ADA"/>
<circle cx="243.2" cy="2383.9" r="1.0" fill="#FBE6F8"/>
<circle cx="248.8" cy="2361.3" r="1.0" fill="#FBE6F8"/>
<circle cx="280.4" cy="2363.0" r="1.5" fill="#FBE6F8"/>
<circle cx="356.0" cy="2368.2" r="1.5" fill="#FBE6F8"/>
<circle cx="118.4" cy="2311.2" r="1.5" fill="#FBE6F8"/>
<circle cx="349.7" cy="2307.6" r="0.8" fill="#F8DAF4"/>
<circle cx="415.0" cy="2303.3" r="1.7" fill="#E49ADA"/>
<circle cx="414.4" cy="2288.8" r="0.9" fill="#FBE6F8"/>
<circle cx="224.3" cy="2284.1" r="1.2" fill="#F8DAF4"/>
<circle cx="369.5" cy="2308.9" r="1.4" fill="#F8DAF4"/>
<circle cx="73.2" cy="2340.6" r="1.7" fill="#F8DAF4"/>
<circle cx="334.1" cy="2308.7" r="0.8" fill="#F8DAF4"/>
<circle cx="170.3" cy="2365.1" r="1.8" fill="#E49ADA"/>
<circle cx="221.6" cy="2355.1" r="0.7" fill="#FBE6F8"/>
<circle cx="106.6" cy="2247.2" r="0.8" fill="#E49ADA"/>
<circle cx="356.1" cy="2250.6" r="1.6" fill="#E49ADA"/>
<circle cx="297.6" cy="2286.3" r="1.3" fill="#FBE6F8"/>
<circle cx="48.4" cy="2364.9" r="1.5" fill="#FBE6F8"/>
<circle cx="246.4" cy="2388.4" r="1.1" fill="#FBE6F8"/>
<circle cx="363.9" cy="2261.9" r="0.9" fill="#E49ADA"/>
<circle cx="236.5" cy="2358.6" r="1.0" fill="#F8DAF4"/>
<circle cx="204.3" cy="2247.9" r="1.7" fill="#E49ADA"/>
<circle cx="391.9" cy="2340.9" r="1.6" fill="#F8DAF4"/>
<circle cx="204.9" cy="2385.6" r="1.2" fill="#F8DAF4"/>
<circle cx="99.5" cy="2314.3" r="1.6" fill="#FBE6F8"/>
<circle cx="278.6" cy="2360.8" r="0.8" fill="#FBE6F8"/>
<circle cx="225.6" cy="2351.9" r="1.3" fill="#E49ADA"/>
<circle cx="307.5" cy="2317.9" r="1.2" fill="#FBE6F8"/>
<circle cx="386.2" cy="2234.9" r="0.8" fill="#FBE6F8"/>
<circle cx="342.7" cy="2313.8" r="1.3" fill="#FBE6F8"/>
<circle cx="213.8" cy="2332.2" r="1.2" fill="#F8DAF4"/>
<circle cx="118.2" cy="2273.5" r="1.2" fill="#E49ADA"/>
<circle cx="239.0" cy="2268.3" r="1.2" fill="#E49ADA"/>
<circle cx="401.7" cy="2381.2" r="0.8" fill="#E49ADA"/>
<circle cx="93.8" cy="2246.3" r="1.1" fill="#FBE6F8"/>
<circle cx="303.1" cy="2300.0" r="0.9" fill="#E49ADA"/>
<circle cx="347.3" cy="2382.0" r="0.8" fill="#F8DAF4"/>
<circle cx="292.2" cy="2289.1" r="0.9" fill="#FBE6F8"/>
<circle cx="419.3" cy="2263.4" r="1.7" fill="#E49ADA"/>
<circle cx="386.9" cy="2253.5" r="1.4" fill="#FBE6F8"/>
<circle cx="103.3" cy="2300.5" r="1.2" fill="#E49ADA"/>
<circle cx="205.1" cy="2287.4" r="0.7" fill="#E49ADA"/>
<circle cx="47.6" cy="2322.0" r="1.1" fill="#FBE6F8"/>
<circle cx="190.7" cy="2315.6" r="1.0" fill="#FBE6F8"/>
<circle cx="84.2" cy="2385.7" r="0.9" fill="#FBE6F8"/>
<circle cx="73.0" cy="2272.6" r="1.7" fill="#FBE6F8"/>
<circle cx="146.0" cy="2247.7" r="1.1" fill="#F8DAF4"/>
<circle cx="361.0" cy="2270.3" r="0.8" fill="#F8DAF4"/>
<circle cx="263.7" cy="2347.6" r="0.7" fill="#FBE6F8"/>
<circle cx="353.4" cy="2257.1" r="1.7" fill="#E49ADA"/>
<circle cx="407.8" cy="2336.0" r="1.6" fill="#FBE6F8"/>
<circle cx="278.4" cy="2263.9" r="0.9" fill="#FBE6F8"/>
<circle cx="217.9" cy="2284.4" r="1.3" fill="#E49ADA"/>
<circle cx="283.7" cy="2232.6" r="1.5" fill="#FBE6F8"/>
<circle cx="419.9" cy="2270.8" r="0.8" fill="#E49ADA"/>
<circle cx="286.4" cy="2317.9" r="0.8" fill="#E49ADA"/>
<circle cx="236.0" cy="2256.1" r="1.0" fill="#FBE6F8"/>
<circle cx="429.8" cy="2231.5" r="0.6" fill="#F8DAF4"/>
<circle cx="256.0" cy="2258.2" r="1.2" fill="#E49ADA"/>
<circle cx="81.7" cy="2368.3" r="1.1" fill="#E49ADA"/>
<circle cx="254.0" cy="2380.5" r="1.8" fill="#E49ADA"/>
<circle cx="309.6" cy="2396.9" r="1.0" fill="#F8DAF4"/>
<circle cx="325.7" cy="2249.5" r="1.8" fill="#FBE6F8"/>
<circle cx="368.1" cy="2227.5" r="1.4" fill="#E49ADA"/>
<circle cx="208.9" cy="2234.7" r="1.4" fill="#E49ADA"/>
<circle cx="381.3" cy="2342.3" r="0.9" fill="#FBE6F8"/>
<circle cx="311.5" cy="2232.9" r="0.8" fill="#E49ADA"/>
<circle cx="214.8" cy="2271.1" r="1.8" fill="#F8DAF4"/>
<circle cx="166.8" cy="2231.0" r="1.7" fill="#FBE6F8"/>
<circle cx="179.8" cy="2225.2" r="1.1" fill="#E49ADA"/>
<circle cx="149.3" cy="2339.8" r="0.9" fill="#FBE6F8"/>
<circle cx="75.6" cy="2368.0" r="0.8" fill="#F8DAF4"/>
<circle cx="56.3" cy="2228.9" r="1.0" fill="#FBE6F8"/>
<circle cx="73.1" cy="2392.6" r="1.6" fill="#FBE6F8"/>
<circle cx="297.8" cy="2350.3" r="1.7" fill="#E49ADA"/>
<circle cx="339.6" cy="2351.1" r="1.2" fill="#E49ADA"/>
<circle cx="323.9" cy="2337.6" r="0.7" fill="#F8DAF4"/>
<circle cx="389.6" cy="2334.8" r="1.5" fill="#F8DAF4"/>
<circle cx="94.6" cy="2316.7" r="1.2" fill="#FBE6F8"/>
<circle cx="364.0" cy="2327.2" r="1.7" fill="#F8DAF4"/>
<circle cx="414.8" cy="2337.5" r="0.7" fill="#FBE6F8"/>
<circle cx="92.2" cy="2288.1" r="0.7" fill="#E49ADA"/>
<circle cx="258.9" cy="2334.9" r="1.4" fill="#F8DAF4"/>
<circle cx="135.9" cy="2271.2" r="1.1" fill="#FBE6F8"/>
<circle cx="333.3" cy="2313.0" r="1.2" fill="#F8DAF4"/>
<circle cx="246.2" cy="2355.5" r="1.2" fill="#FBE6F8"/>
<circle cx="371.7" cy="2266.1" r="1.5" fill="#FBE6F8"/>
<circle cx="330.0" cy="2395.8" r="1.2" fill="#E49ADA"/>
<circle cx="70.1" cy="2384.3" r="0.9" fill="#FBE6F8"/>
<circle cx="281.9" cy="2337.5" r="0.7" fill="#FBE6F8"/>
<circle cx="170.1" cy="2339.0" r="1.4" fill="#F8DAF4"/>
<circle cx="262.6" cy="2227.2" r="0.7" fill="#E49ADA"/>
<circle cx="421.2" cy="2242.4" r="0.9" fill="#E49ADA"/>
<circle cx="154.0" cy="2315.4" r="1.2" fill="#E49ADA"/>
<circle cx="340.7" cy="2398.8" r="1.3" fill="#E49ADA"/>
<circle cx="423.4" cy="2388.8" r="0.6" fill="#E49ADA"/>
<circle cx="70.0" cy="2313.7" r="1.8" fill="#E49ADA"/>
<circle cx="191.6" cy="2385.4" r="1.7" fill="#FBE6F8"/>
<circle cx="267.9" cy="2249.8" r="1.2" fill="#E49ADA"/>
<circle cx="92.0" cy="2368.5" r="1.2" fill="#FBE6F8"/>
<circle cx="315.7" cy="2265.5" r="1.7" fill="#E49ADA"/>
<circle cx="194.5" cy="2252.8" r="1.7" fill="#F8DAF4"/>
<circle cx="216.7" cy="2277.8" r="0.8" fill="#E49ADA"/>
<circle cx="187.4" cy="2246.2" r="1.0" fill="#E49ADA"/>
<circle cx="334.3" cy="2371.8" r="0.7" fill="#FBE6F8"/>
<circle cx="319.5" cy="2382.8" r="0.9" fill="#E49ADA"/>
<circle cx="65.5" cy="2293.3" r="1.6" fill="#FBE6F8"/>
<circle cx="181.4" cy="2299.9" r="0.9" fill="#FBE6F8"/>
<circle cx="150.0" cy="2234.0" r="1.4" fill="#F8DAF4"/>
<circle cx="406.8" cy="2268.6" r="0.9" fill="#F8DAF4"/>
<circle cx="163.7" cy="2360.3" r="1.5" fill="#E49ADA"/>
<circle cx="386.6" cy="2367.1" r="1.4" fill="#F8DAF4"/>
<circle cx="255.3" cy="2350.9" r="0.7" fill="#F8DAF4"/>
<circle cx="201.1" cy="2332.6" r="0.8" fill="#E49ADA"/>
<circle cx="230.3" cy="2384.6" r="1.3" fill="#FBE6F8"/>
<circle cx="225.1" cy="2285.1" r="1.0" fill="#F8DAF4"/>
<circle cx="329.6" cy="2339.2" r="1.1" fill="#FBE6F8"/>
<circle cx="157.9" cy="2322.5" r="1.1" fill="#FBE6F8"/>
<circle cx="292.1" cy="2238.2" r="1.2" fill="#E49ADA"/>
<circle cx="255.8" cy="2304.3" r="1.0" fill="#E49ADA"/>
<circle cx="207.5" cy="2320.9" r="0.9" fill="#FBE6F8"/>
<circle cx="174.0" cy="2240.9" r="0.9" fill="#E49ADA"/>
<circle cx="357.3" cy="2260.4" r="0.6" fill="#E49ADA"/>
<circle cx="190.1" cy="2355.5" r="0.9" fill="#E49ADA"/>
<circle cx="172.6" cy="2235.9" r="0.9" fill="#E49ADA"/>
<circle cx="89.3" cy="2313.1" r="1.4" fill="#FBE6F8"/>
<circle cx="76.3" cy="2381.9" r="1.1" fill="#F8DAF4"/>
<circle cx="214.8" cy="2391.9" r="1.6" fill="#FBE6F8"/>
<circle cx="89.9" cy="2299.4" r="1.5" fill="#E49ADA"/>
<circle cx="419.6" cy="2310.7" r="0.7" fill="#F8DAF4"/>
<circle cx="375.3" cy="2395.1" r="0.9" fill="#FBE6F8"/>
<circle cx="127.7" cy="2251.6" r="1.8" fill="#FBE6F8"/>
<circle cx="409.1" cy="2351.3" r="1.4" fill="#E49ADA"/>
<circle cx="73.3" cy="2361.0" r="0.6" fill="#FBE6F8"/>
<circle cx="131.2" cy="2386.0" r="1.4" fill="#E49ADA"/>
<circle cx="417.3" cy="2334.6" r="1.2" fill="#E49ADA"/>
<circle cx="313.8" cy="2244.6" r="0.7" fill="#F8DAF4"/>
<circle cx="409.9" cy="2258.5" r="0.9" fill="#F8DAF4"/>
<circle cx="40.5" cy="2319.1" r="1.8" fill="#E49ADA"/>
<circle cx="415.9" cy="2337.8" r="1.7" fill="#E49ADA"/>
<circle cx="246.3" cy="2320.7" r="0.6" fill="#E49ADA"/>
<circle cx="316.2" cy="2278.8" r="0.6" fill="#E49ADA"/>
<circle cx="386.9" cy="2338.3" r="0.7" fill="#FBE6F8"/>
<circle cx="301.6" cy="2386.9" r="0.9" fill="#FBE6F8"/>
<circle cx="312.8" cy="2350.7" r="1.0" fill="#E49ADA"/>
<circle cx="117.6" cy="2364.5" r="1.5" fill="#F8DAF4"/>
<circle cx="66.4" cy="2311.7" r="0.8" fill="#FBE6F8"/>
<circle cx="130.5" cy="2263.8" r="1.5" fill="#E49ADA"/>
<circle cx="82.7" cy="2334.1" r="1.3" fill="#FBE6F8"/>
<circle cx="230.1" cy="2384.3" r="0.7" fill="#F8DAF4"/>
<circle cx="97.4" cy="2293.9" r="0.9" fill="#F8DAF4"/>
<circle cx="95.6" cy="2234.1" r="0.7" fill="#E49ADA"/>
<circle cx="216.3" cy="2349.6" r="1.0" fill="#FBE6F8"/>
<circle cx="431.0" cy="2388.0" r="1.0" fill="#FBE6F8"/>
<circle cx="295.8" cy="2316.8" r="1.2" fill="#E49ADA"/>
<circle cx="300.5" cy="2291.3" r="1.0" fill="#E49ADA"/>
<circle cx="213.4" cy="2244.1" r="0.7" fill="#FBE6F8"/>
<circle cx="177.8" cy="2392.2" r="0.7" fill="#FBE6F8"/>
<circle cx="189.0" cy="2359.5" r="1.0" fill="#E49ADA"/>
<circle cx="74.4" cy="2348.4" r="0.8" fill="#F8DAF4"/>
<circle cx="400.4" cy="2258.8" r="1.0" fill="#E49ADA"/>
<circle cx="51.9" cy="2296.9" r="1.6" fill="#E49ADA"/>
<circle cx="55.9" cy="2231.1" r="0.7" fill="#FBE6F8"/>
<circle cx="140.8" cy="2355.8" r="1.7" fill="#E49ADA"/>
<circle cx="182.3" cy="2283.6" r="1.7" fill="#FBE6F8"/>
<circle cx="142.8" cy="2350.4" r="1.0" fill="#E49ADA"/>
<circle cx="156.6" cy="2351.3" r="1.3" fill="#F8DAF4"/>
<circle cx="411.0" cy="2236.4" r="1.6" fill="#FBE6F8"/>
<circle cx="226.3" cy="2392.4" r="1.7" fill="#E49ADA"/>
<circle cx="349.6" cy="2384.9" r="1.6" fill="#FBE6F8"/>
<circle cx="403.8" cy="2257.0" r="1.6" fill="#F8DAF4"/>
<circle cx="158.9" cy="2346.1" r="0.8" fill="#FBE6F8"/>
<circle cx="168.5" cy="2280.9" r="1.0" fill="#F8DAF4"/>
<circle cx="71.0" cy="2259.5" r="1.5" fill="#FBE6F8"/>
<circle cx="199.8" cy="2338.7" r="1.2" fill="#F8DAF4"/>
<circle cx="167.7" cy="2396.5" r="1.7" fill="#FBE6F8"/>
<circle cx="143.8" cy="2239.7" r="0.7" fill="#E49ADA"/>
<circle cx="427.5" cy="2395.1" r="0.8" fill="#FBE6F8"/>
<circle cx="203.4" cy="2333.6" r="1.4" fill="#F8DAF4"/>
<circle cx="251.1" cy="2360.4" r="1.5" fill="#E49ADA"/>
<circle cx="155.2" cy="2324.2" r="1.0" fill="#F8DAF4"/>
<circle cx="142.1" cy="2301.9" r="0.8" fill="#FBE6F8"/>
<circle cx="100.1" cy="2379.7" r="1.3" fill="#E49ADA"/>
<circle cx="65.4" cy="2269.0" r="0.9" fill="#F8DAF4"/>
<circle cx="130.7" cy="2366.5" r="1.4" fill="#FBE6F8"/>
<circle cx="80.1" cy="2308.1" r="1.6" fill="#E49ADA"/>
<circle cx="398.4" cy="2232.1" r="1.0" fill="#FBE6F8"/>
<circle cx="59.8" cy="2330.1" r="1.6" fill="#FBE6F8"/>
<circle cx="404.6" cy="2290.1" r="1.6" fill="#E49ADA"/>
<circle cx="276.4" cy="2360.6" r="1.4" fill="#FBE6F8"/>
<circle cx="81.5" cy="2329.3" r="1.3" fill="#FBE6F8"/>
<circle cx="54.7" cy="2284.5" r="0.7" fill="#E49ADA"/>
<circle cx="55.0" cy="2353.1" r="1.7" fill="#FBE6F8"/>
<circle cx="361.0" cy="2296.6" r="1.0" fill="#F8DAF4"/>
<circle cx="162.4" cy="2260.6" r="1.6" fill="#F8DAF4"/>
<circle cx="229.5" cy="2296.4" r="1.6" fill="#F8DAF4"/>
<circle cx="255.7" cy="2336.9" r="0.7" fill="#FBE6F8"/>
<circle cx="195.9" cy="2272.5" r="1.8" fill="#F8DAF4"/>
<circle cx="160.6" cy="2391.8" r="1.0" fill="#F8DAF4"/>
<circle cx="386.4" cy="2297.5" r="0.6" fill="#E49ADA"/>
<circle cx="292.6" cy="2293.4" r="1.1" fill="#FBE6F8"/>
<circle cx="210.2" cy="2252.4" r="0.7" fill="#FBE6F8"/>
<circle cx="199.2" cy="2379.5" r="1.2" fill="#FBE6F8"/>
<circle cx="91.0" cy="2234.0" r="0.8" fill="#E49ADA"/>
<circle cx="74.9" cy="2333.9" r="1.0" fill="#F8DAF4"/>
<circle cx="107.3" cy="2285.9" r="0.8" fill="#FBE6F8"/>
<circle cx="402.8" cy="2244.0" r="1.2" fill="#FBE6F8"/>
<circle cx="158.2" cy="2371.5" r="0.7" fill="#E49ADA"/>
<circle cx="163.3" cy="2331.3" r="1.4" fill="#FBE6F8"/>
<circle cx="394.5" cy="2333.6" r="1.6" fill="#FBE6F8"/>
<circle cx="291.0" cy="2374.9" r="1.3" fill="#F8DAF4"/>
<circle cx="371.8" cy="2370.1" r="0.8" fill="#FBE6F8"/>
<circle cx="56.4" cy="2389.2" r="0.8" fill="#E49ADA"/>
<circle cx="88.2" cy="2268.2" r="1.5" fill="#FBE6F8"/>
<circle cx="56.1" cy="2323.4" r="1.5" fill="#FBE6F8"/>
<ellipse cx="165" cy="2305" rx="2.5" ry="14" fill="#FBEAF8"/>
<ellipse cx="180" cy="2290" rx="2.5" ry="14" fill="#FBEAF8"/>
<ellipse cx="200" cy="2310" rx="2.5" ry="14" fill="#FBEAF8"/>
<ellipse cx="212" cy="2292" rx="2.5" ry="14" fill="#FBEAF8"/>
<ellipse cx="258" cy="2308" rx="2.5" ry="14" fill="#FBEAF8"/>
</g>
<polyline points="38.8,2239.4 55,2232 69.3,2229.7 91.4,2240.8 110,2231 130.2,2224.2 155.2,2235.3 175,2230 194,2231.1 218.9,2233.9 227.2,2265.8 235.5,2250.5 254.9,2253.3 277.1,2265.8 304.8,2275.5 321.4,2279.6 325.6,2257.5 349.1,2249.1 371.3,2240.8 401.8,2239.4 432.3,2232.5" fill="none" stroke="#D488D6" stroke-width="2.2" stroke-linejoin="round" />
<rect x="169.6" y="2227.5" width="50.1" height="41" fill="none" stroke="#000" stroke-width="2.6" />
<polygon points="177.05,2210.2 161.54,2226.73 157.53,2222.96 155.2,2238.6 170.66,2235.28 166.65,2231.52 182.15,2215" fill="#F4944A" />
<polygon points="230.18,2210.28 215.79,2226.54 211.67,2222.9 209.8,2238.6 225.15,2234.83 221.03,2231.18 235.42,2214.92" fill="#1060B0" />
<polygon points="317.41,2277.25 302.15,2294.03 298.09,2290.33 296,2306 311.4,2302.43 307.33,2298.74 322.59,2281.95" fill="#20AEE8" />
<g clip-path="url(#h2c)">
<rect x="459.1" y="2209" width="392.6" height="207.8" fill="#F0B4E6" />
<polygon points="459.1,2209 851.7,2209 851.7,2249.1 804.1,2257.5 776.4,2285.2 734.8,2293.5 707.1,2285.2 679.4,2251.9 660,2242 640.6,2238 625,2245 607.3,2260.2 568.5,2274 513.1,2285.2 459.1,2296.3" fill="#CE90D6" />
<polygon points="459.1,2209 560,2209 540,2222 500,2228 470,2222 459.1,2226" fill="#F3DDF3" />
<polygon points="600,2209 640,2209 625,2218" fill="#F3DDF3" />
<polygon points="730,2209 790,2209 775,2230 760,2238 745,2225" fill="#F5E6F5" />
<g filter="url(#blur4)">
<ellipse cx="721.5" cy="2331.2" rx="17.8" ry="4.8" fill="#F6C8EE" transform="rotate(9 721.5 2331.2)"/>
<ellipse cx="579.3" cy="2343.3" rx="21.7" ry="4.7" fill="#F6C8EE" transform="rotate(-17 579.3 2343.3)"/>
<ellipse cx="634.6" cy="2345.7" rx="10.5" ry="5.5" fill="#E890D6" transform="rotate(-11 634.6 2345.7)"/>
<ellipse cx="551.5" cy="2387.0" rx="25.6" ry="4.8" fill="#FCE8F8" transform="rotate(-10 551.5 2387.0)"/>
<ellipse cx="616.3" cy="2298.5" rx="17.2" ry="4.5" fill="#E890D6" transform="rotate(-8 616.3 2298.5)"/>
<ellipse cx="659.5" cy="2295.2" rx="22.7" ry="3.3" fill="#F6C8EE" transform="rotate(-20 659.5 2295.2)"/>
<ellipse cx="764.6" cy="2355.0" rx="11.1" ry="5.0" fill="#E890D6" transform="rotate(1 764.6 2355.0)"/>
<ellipse cx="832.7" cy="2307.3" rx="27.1" ry="7.0" fill="#F6C8EE" transform="rotate(4 832.7 2307.3)"/>
<ellipse cx="779.3" cy="2314.6" rx="29.6" ry="5.0" fill="#FCE8F8" transform="rotate(3 779.3 2314.6)"/>
<ellipse cx="768.8" cy="2408.2" rx="11.3" ry="4.4" fill="#E890D6" transform="rotate(-30 768.8 2408.2)"/>
<ellipse cx="586.3" cy="2367.9" rx="28.1" ry="4.8" fill="#E890D6" transform="rotate(-8 586.3 2367.9)"/>
<ellipse cx="838.0" cy="2351.0" rx="21.8" ry="5.5" fill="#FCE8F8" transform="rotate(-20 838.0 2351.0)"/>
<ellipse cx="605.3" cy="2315.3" rx="18.1" ry="5.5" fill="#E890D6" transform="rotate(3 605.3 2315.3)"/>
<ellipse cx="587.8" cy="2337.9" rx="25.8" ry="4.1" fill="#F6C8EE" transform="rotate(-37 587.8 2337.9)"/>
<ellipse cx="709.1" cy="2335.7" rx="27.5" ry="5.2" fill="#F6C8EE" transform="rotate(4 709.1 2335.7)"/>
<ellipse cx="805.8" cy="2303.3" rx="29.9" ry="5.5" fill="#E890D6" transform="rotate(7 805.8 2303.3)"/>
<ellipse cx="772.5" cy="2323.6" rx="29.8" ry="5.3" fill="#E890D6" transform="rotate(-19 772.5 2323.6)"/>
<ellipse cx="759.5" cy="2346.2" rx="13.5" ry="6.0" fill="#FCE8F8" transform="rotate(-22 759.5 2346.2)"/>
<ellipse cx="781.2" cy="2322.2" rx="22.8" ry="6.9" fill="#F6C8EE" transform="rotate(2 781.2 2322.2)"/>
<ellipse cx="811.0" cy="2383.1" rx="24.9" ry="3.9" fill="#E890D6" transform="rotate(-1 811.0 2383.1)"/>
<ellipse cx="704.9" cy="2343.0" rx="17.3" ry="3.2" fill="#E890D6" transform="rotate(-26 704.9 2343.0)"/>
<ellipse cx="699.7" cy="2295.8" rx="11.1" ry="5.3" fill="#E890D6" transform="rotate(-34 699.7 2295.8)"/>
<ellipse cx="664.6" cy="2357.8" rx="18.3" ry="4.2" fill="#FCE8F8" transform="rotate(-27 664.6 2357.8)"/>
<ellipse cx="602.9" cy="2395.2" rx="13.2" ry="3.1" fill="#FCE8F8" transform="rotate(5 602.9 2395.2)"/>
<ellipse cx="517.7" cy="2302.2" rx="22.8" ry="6.5" fill="#E890D6" transform="rotate(-15 517.7 2302.2)"/>
<ellipse cx="777.9" cy="2412.8" rx="11.1" ry="6.3" fill="#E890D6" transform="rotate(-2 777.9 2412.8)"/>
<ellipse cx="712.7" cy="2346.4" rx="28.7" ry="5.9" fill="#FCE8F8" transform="rotate(-30 712.7 2346.4)"/>
<ellipse cx="814.1" cy="2295.6" rx="20.6" ry="4.6" fill="#FCE8F8" transform="rotate(-30 814.1 2295.6)"/>
<ellipse cx="481.9" cy="2388.9" rx="10.2" ry="5.2" fill="#FCE8F8" transform="rotate(-31 481.9 2388.9)"/>
<ellipse cx="621.4" cy="2355.8" rx="22.9" ry="5.6" fill="#E890D6" transform="rotate(-1 621.4 2355.8)"/>
<ellipse cx="527.6" cy="2329.3" rx="16.0" ry="3.2" fill="#F6C8EE" transform="rotate(10 527.6 2329.3)"/>
<ellipse cx="646.8" cy="2358.4" rx="17.5" ry="4.7" fill="#E890D6" transform="rotate(-35 646.8 2358.4)"/>
<ellipse cx="750.5" cy="2347.5" rx="14.5" ry="3.4" fill="#FCE8F8" transform="rotate(1 750.5 2347.5)"/>
<ellipse cx="474.3" cy="2332.6" rx="25.0" ry="5.8" fill="#E890D6" transform="rotate(5 474.3 2332.6)"/>
<ellipse cx="479.6" cy="2370.8" rx="23.6" ry="5.7" fill="#F6C8EE" transform="rotate(-24 479.6 2370.8)"/>
<ellipse cx="575.2" cy="2407.9" rx="27.9" ry="3.3" fill="#F6C8EE" transform="rotate(-40 575.2 2407.9)"/>
<ellipse cx="525.7" cy="2404.9" rx="26.8" ry="3.8" fill="#FCE8F8" transform="rotate(7 525.7 2404.9)"/>
<ellipse cx="818.6" cy="2314.4" rx="17.8" ry="5.4" fill="#E890D6" transform="rotate(0 818.6 2314.4)"/>
<ellipse cx="821.2" cy="2414.7" rx="26.8" ry="5.1" fill="#E890D6" transform="rotate(-7 821.2 2414.7)"/>
<ellipse cx="733.2" cy="2398.9" rx="18.7" ry="5.9" fill="#F6C8EE" transform="rotate(-21 733.2 2398.9)"/>
</g>
<circle cx="769.2" cy="2290.4" r="1.3" fill="#9C66C0"/>
<circle cx="681.1" cy="2244.7" r="0.8" fill="#B890D8"/>
<circle cx="503.0" cy="2338.4" r="0.9" fill="#9C66C0"/>
<circle cx="843.1" cy="2354.8" r="0.8" fill="#9C66C0"/>
<circle cx="513.4" cy="2342.9" r="0.8" fill="#9C66C0"/>
<circle cx="485.7" cy="2218.7" r="1.6" fill="#B890D8"/>
<circle cx="758.4" cy="2250.5" r="1.7" fill="#B890D8"/>
<circle cx="668.8" cy="2347.1" r="1.6" fill="#9C66C0"/>
<circle cx="756.0" cy="2356.9" r="1.1" fill="#9C66C0"/>
<circle cx="555.9" cy="2251.3" r="0.8" fill="#B890D8"/>
<circle cx="832.1" cy="2398.5" r="1.5" fill="#9C66C0"/>
<circle cx="493.4" cy="2365.3" r="1.4" fill="#9C66C0"/>
<circle cx="646.5" cy="2236.6" r="1.5" fill="#B890D8"/>
<circle cx="713.0" cy="2270.2" r="1.1" fill="#B890D8"/>
<circle cx="561.6" cy="2282.0" r="1.6" fill="#9C66C0"/>
<circle cx="478.0" cy="2367.0" r="1.6" fill="#9C66C0"/>
<circle cx="761.3" cy="2334.2" r="1.2" fill="#9C66C0"/>
<circle cx="572.0" cy="2364.1" r="1.5" fill="#9C66C0"/>
<circle cx="471.3" cy="2316.9" r="0.9" fill="#9C66C0"/>
<circle cx="643.3" cy="2219.0" r="1.3" fill="#B890D8"/>
<circle cx="739.8" cy="2381.2" r="1.3" fill="#9C66C0"/>
<circle cx="571.8" cy="2299.7" r="1.3" fill="#9C66C0"/>
<circle cx="572.3" cy="2365.1" r="0.8" fill="#9C66C0"/>
<circle cx="595.7" cy="2228.9" r="1.4" fill="#B890D8"/>
<circle cx="783.4" cy="2410.2" r="1.3" fill="#9C66C0"/>
<circle cx="835.2" cy="2316.1" r="1.3" fill="#9C66C0"/>
<circle cx="521.4" cy="2378.6" r="1.6" fill="#9C66C0"/>
<circle cx="550.0" cy="2243.5" r="1.6" fill="#B890D8"/>
<circle cx="760.4" cy="2311.0" r="1.7" fill="#9C66C0"/>
<circle cx="679.6" cy="2230.7" r="1.1" fill="#B890D8"/>
<circle cx="496.4" cy="2402.1" r="1.6" fill="#9C66C0"/>
<circle cx="751.9" cy="2296.8" r="1.4" fill="#9C66C0"/>
<circle cx="605.2" cy="2272.1" r="1.2" fill="#B890D8"/>
<circle cx="673.2" cy="2244.6" r="1.7" fill="#B890D8"/>
<circle cx="706.9" cy="2405.3" r="0.9" fill="#9C66C0"/>
<circle cx="692.5" cy="2352.4" r="1.3" fill="#9C66C0"/>
<circle cx="472.3" cy="2330.0" r="1.3" fill="#9C66C0"/>
<circle cx="800.1" cy="2302.7" r="1.3" fill="#9C66C0"/>
<circle cx="586.1" cy="2305.3" r="1.4" fill="#9C66C0"/>
<circle cx="560.1" cy="2257.1" r="1.1" fill="#B890D8"/>
<circle cx="711.6" cy="2353.9" r="1.3" fill="#9C66C0"/>
<circle cx="564.1" cy="2366.0" r="1.5" fill="#9C66C0"/>
<circle cx="701.6" cy="2359.5" r="1.7" fill="#9C66C0"/>
<circle cx="743.2" cy="2334.4" r="1.1" fill="#9C66C0"/>
<circle cx="551.8" cy="2407.8" r="1.0" fill="#9C66C0"/>
<circle cx="834.3" cy="2415.9" r="0.9" fill="#9C66C0"/>
<circle cx="717.6" cy="2249.6" r="0.9" fill="#B890D8"/>
<circle cx="517.3" cy="2271.8" r="1.1" fill="#B890D8"/>
<circle cx="566.6" cy="2231.7" r="1.6" fill="#B890D8"/>
<circle cx="569.4" cy="2393.1" r="1.2" fill="#9C66C0"/>
<circle cx="464.0" cy="2386.7" r="1.2" fill="#9C66C0"/>
<circle cx="546.4" cy="2413.0" r="1.1" fill="#9C66C0"/>
<circle cx="467.7" cy="2262.5" r="1.5" fill="#B890D8"/>
<circle cx="461.2" cy="2259.4" r="1.6" fill="#B890D8"/>
<circle cx="734.6" cy="2331.2" r="1.4" fill="#9C66C0"/>
<circle cx="791.5" cy="2347.9" r="1.4" fill="#9C66C0"/>
<circle cx="803.9" cy="2342.5" r="1.3" fill="#9C66C0"/>
<circle cx="548.8" cy="2246.8" r="0.9" fill="#B890D8"/>
<circle cx="629.0" cy="2263.0" r="1.4" fill="#B890D8"/>
<circle cx="810.6" cy="2259.4" r="1.2" fill="#B890D8"/>
<circle cx="739.1" cy="2241.5" r="1.6" fill="#B890D8"/>
<circle cx="648.7" cy="2213.1" r="1.6" fill="#B890D8"/>
<circle cx="662.7" cy="2346.5" r="1.6" fill="#9C66C0"/>
<circle cx="810.5" cy="2277.2" r="0.8" fill="#B890D8"/>
<circle cx="785.9" cy="2397.9" r="0.9" fill="#9C66C0"/>
<circle cx="557.7" cy="2254.3" r="1.4" fill="#B890D8"/>
<circle cx="832.9" cy="2250.6" r="1.1" fill="#B890D8"/>
<circle cx="791.9" cy="2304.0" r="1.0" fill="#9C66C0"/>
<circle cx="646.0" cy="2212.4" r="1.5" fill="#B890D8"/>
<circle cx="604.4" cy="2280.3" r="1.5" fill="#9C66C0"/>
<circle cx="638.6" cy="2415.0" r="1.0" fill="#9C66C0"/>
<circle cx="660.9" cy="2403.0" r="1.5" fill="#9C66C0"/>
<circle cx="700.3" cy="2341.6" r="1.0" fill="#9C66C0"/>
<circle cx="609.1" cy="2221.8" r="0.9" fill="#B890D8"/>
<circle cx="818.8" cy="2339.7" r="1.4" fill="#9C66C0"/>
<circle cx="687.0" cy="2231.7" r="1.1" fill="#B890D8"/>
<circle cx="616.4" cy="2407.3" r="1.7" fill="#9C66C0"/>
<circle cx="849.7" cy="2408.9" r="1.2" fill="#9C66C0"/>
<circle cx="523.7" cy="2402.3" r="0.9" fill="#9C66C0"/>
<circle cx="772.8" cy="2249.2" r="1.4" fill="#B890D8"/>
<circle cx="742.2" cy="2378.4" r="0.9" fill="#9C66C0"/>
<circle cx="720.8" cy="2381.8" r="1.5" fill="#9C66C0"/>
<circle cx="621.4" cy="2416.2" r="1.5" fill="#9C66C0"/>
<circle cx="714.3" cy="2371.2" r="1.2" fill="#9C66C0"/>
<circle cx="767.0" cy="2256.9" r="1.4" fill="#B890D8"/>
<circle cx="729.2" cy="2413.4" r="1.4" fill="#9C66C0"/>
<circle cx="648.3" cy="2376.5" r="1.5" fill="#9C66C0"/>
<circle cx="599.7" cy="2345.1" r="1.1" fill="#9C66C0"/>
<circle cx="649.6" cy="2338.7" r="0.9" fill="#9C66C0"/>
<circle cx="811.5" cy="2240.8" r="1.1" fill="#B890D8"/>
<circle cx="610.3" cy="2226.7" r="1.3" fill="#B890D8"/>
<circle cx="586.6" cy="2405.1" r="1.3" fill="#9C66C0"/>
<circle cx="594.6" cy="2330.2" r="1.4" fill="#9C66C0"/>
<circle cx="541.4" cy="2224.0" r="1.1" fill="#B890D8"/>
<circle cx="698.0" cy="2329.3" r="1.6" fill="#9C66C0"/>
<circle cx="532.0" cy="2303.0" r="1.5" fill="#9C66C0"/>
<circle cx="541.0" cy="2292.7" r="1.3" fill="#9C66C0"/>
<circle cx="698.5" cy="2352.1" r="1.7" fill="#9C66C0"/>
<circle cx="494.5" cy="2396.5" r="1.3" fill="#9C66C0"/>
<circle cx="709.2" cy="2270.8" r="1.2" fill="#B890D8"/>
<circle cx="542.7" cy="2225.4" r="1.6" fill="#B890D8"/>
<circle cx="722.8" cy="2233.3" r="0.9" fill="#B890D8"/>
<circle cx="623.7" cy="2381.0" r="1.2" fill="#9C66C0"/>
<circle cx="678.0" cy="2309.7" r="1.6" fill="#9C66C0"/>
<circle cx="734.3" cy="2260.3" r="0.9" fill="#B890D8"/>
<circle cx="694.6" cy="2361.8" r="0.9" fill="#9C66C0"/>
<circle cx="585.0" cy="2353.7" r="1.2" fill="#9C66C0"/>
<circle cx="575.6" cy="2305.9" r="1.2" fill="#9C66C0"/>
<circle cx="852.0" cy="2349.6" r="1.0" fill="#9C66C0"/>
<circle cx="600.6" cy="2343.5" r="0.8" fill="#9C66C0"/>
<circle cx="477.0" cy="2362.2" r="1.7" fill="#9C66C0"/>
<circle cx="776.8" cy="2228.5" r="1.2" fill="#B890D8"/>
<circle cx="756.6" cy="2239.1" r="1.0" fill="#B890D8"/>
<circle cx="622.3" cy="2235.4" r="0.9" fill="#B890D8"/>
<circle cx="718.0" cy="2280.0" r="1.5" fill="#B890D8"/>
<circle cx="676.8" cy="2398.8" r="1.1" fill="#9C66C0"/>
<circle cx="593.4" cy="2261.3" r="0.8" fill="#B890D8"/>
<circle cx="572.6" cy="2282.9" r="1.2" fill="#9C66C0"/>
<circle cx="590.2" cy="2413.7" r="1.6" fill="#9C66C0"/>
<circle cx="594.5" cy="2251.3" r="1.2" fill="#B890D8"/>
<circle cx="505.3" cy="2249.0" r="1.4" fill="#B890D8"/>
<circle cx="509.1" cy="2411.3" r="0.9" fill="#9C66C0"/>
<circle cx="850.6" cy="2292.0" r="1.3" fill="#9C66C0"/>
<circle cx="618.6" cy="2328.4" r="1.2" fill="#9C66C0"/>
<circle cx="501.6" cy="2218.7" r="1.5" fill="#B890D8"/>
<circle cx="645.7" cy="2368.3" r="0.9" fill="#9C66C0"/>
<circle cx="655.8" cy="2322.1" r="1.1" fill="#9C66C0"/>
<circle cx="516.8" cy="2349.1" r="1.4" fill="#9C66C0"/>
<circle cx="803.4" cy="2226.3" r="0.8" fill="#B890D8"/>
<circle cx="708.0" cy="2339.1" r="1.0" fill="#9C66C0"/>
<circle cx="719.8" cy="2389.8" r="1.2" fill="#9C66C0"/>
<circle cx="498.5" cy="2402.5" r="0.8" fill="#9C66C0"/>
<circle cx="801.7" cy="2237.8" r="1.1" fill="#B890D8"/>
<circle cx="738.1" cy="2388.4" r="1.0" fill="#9C66C0"/>
<circle cx="472.5" cy="2213.2" r="1.3" fill="#B890D8"/>
<circle cx="686.3" cy="2399.1" r="1.2" fill="#9C66C0"/>
<circle cx="664.2" cy="2380.5" r="1.5" fill="#9C66C0"/>
<circle cx="624.5" cy="2353.7" r="1.2" fill="#9C66C0"/>
<circle cx="485.4" cy="2350.4" r="1.3" fill="#9C66C0"/>
<circle cx="849.3" cy="2346.2" r="0.9" fill="#9C66C0"/>
<circle cx="761.6" cy="2323.2" r="0.9" fill="#9C66C0"/>
<circle cx="644.6" cy="2395.3" r="1.4" fill="#9C66C0"/>
<circle cx="626.8" cy="2210.9" r="1.4" fill="#B890D8"/>
<circle cx="846.8" cy="2387.6" r="1.0" fill="#9C66C0"/>
<circle cx="506.7" cy="2307.2" r="1.0" fill="#9C66C0"/>
<circle cx="682.6" cy="2302.8" r="1.5" fill="#9C66C0"/>
<circle cx="821.7" cy="2285.1" r="1.5" fill="#9C66C0"/>
<circle cx="732.1" cy="2239.1" r="1.5" fill="#B890D8"/>
<circle cx="574.2" cy="2325.0" r="1.2" fill="#9C66C0"/>
<circle cx="722.1" cy="2394.1" r="1.6" fill="#9C66C0"/>
<circle cx="479.7" cy="2215.6" r="0.9" fill="#B890D8"/>
<circle cx="806.1" cy="2351.8" r="1.4" fill="#9C66C0"/>
<circle cx="611.9" cy="2274.0" r="1.3" fill="#B890D8"/>
<circle cx="835.4" cy="2382.7" r="1.3" fill="#9C66C0"/>
<circle cx="583.3" cy="2406.3" r="1.5" fill="#9C66C0"/>
<circle cx="643.6" cy="2243.6" r="1.7" fill="#B890D8"/>
<circle cx="504.9" cy="2407.4" r="0.9" fill="#9C66C0"/>
<circle cx="774.1" cy="2308.2" r="1.5" fill="#9C66C0"/>
<circle cx="636.9" cy="2265.6" r="1.5" fill="#B890D8"/>
<circle cx="590.2" cy="2267.2" r="1.4" fill="#B890D8"/>
<circle cx="714.8" cy="2375.8" r="1.3" fill="#9C66C0"/>
<circle cx="800.7" cy="2359.9" r="0.8" fill="#9C66C0"/>
<circle cx="518.4" cy="2382.2" r="1.3" fill="#9C66C0"/>
<circle cx="842.7" cy="2260.2" r="1.1" fill="#B890D8"/>
<circle cx="606.8" cy="2369.5" r="1.0" fill="#9C66C0"/>
<circle cx="636.3" cy="2352.2" r="1.1" fill="#9C66C0"/>
<circle cx="564.3" cy="2241.7" r="1.6" fill="#B890D8"/>
<circle cx="759.0" cy="2371.9" r="1.1" fill="#9C66C0"/>
<circle cx="514.3" cy="2394.2" r="1.7" fill="#9C66C0"/>
<circle cx="516.8" cy="2411.9" r="1.5" fill="#9C66C0"/>
<circle cx="674.3" cy="2370.6" r="1.2" fill="#9C66C0"/>
<circle cx="669.1" cy="2321.3" r="1.2" fill="#9C66C0"/>
<circle cx="609.0" cy="2372.8" r="1.4" fill="#9C66C0"/>
<circle cx="845.0" cy="2273.4" r="0.9" fill="#B890D8"/>
<circle cx="614.4" cy="2356.3" r="1.6" fill="#9C66C0"/>
<circle cx="689.5" cy="2210.9" r="1.1" fill="#B890D8"/>
<circle cx="671.4" cy="2320.5" r="1.1" fill="#9C66C0"/>
<circle cx="483.6" cy="2291.8" r="1.3" fill="#9C66C0"/>
<circle cx="561.0" cy="2382.3" r="1.1" fill="#9C66C0"/>
<circle cx="657.9" cy="2251.0" r="1.0" fill="#B890D8"/>
<circle cx="495.2" cy="2376.6" r="1.1" fill="#9C66C0"/>
<circle cx="686.1" cy="2283.6" r="1.5" fill="#9C66C0"/>
<circle cx="795.8" cy="2260.2" r="1.6" fill="#B890D8"/>
<circle cx="652.9" cy="2389.2" r="1.1" fill="#9C66C0"/>
<circle cx="641.1" cy="2226.0" r="1.1" fill="#B890D8"/>
<circle cx="470.9" cy="2267.4" r="1.3" fill="#B890D8"/>
<circle cx="496.0" cy="2251.6" r="1.6" fill="#B890D8"/>
<circle cx="681.2" cy="2331.0" r="1.0" fill="#9C66C0"/>
<circle cx="822.7" cy="2267.2" r="0.9" fill="#B890D8"/>
<circle cx="634.6" cy="2332.4" r="1.3" fill="#9C66C0"/>
<circle cx="510.4" cy="2384.5" r="1.1" fill="#9C66C0"/>
<circle cx="849.9" cy="2287.7" r="0.8" fill="#9C66C0"/>
<circle cx="472.7" cy="2285.9" r="1.4" fill="#9C66C0"/>
<circle cx="650.3" cy="2384.9" r="1.6" fill="#9C66C0"/>
<circle cx="798.1" cy="2342.1" r="1.6" fill="#9C66C0"/>
<circle cx="736.6" cy="2227.7" r="1.1" fill="#B890D8"/>
<circle cx="550.7" cy="2227.7" r="1.6" fill="#B890D8"/>
<circle cx="658.1" cy="2247.0" r="1.6" fill="#B890D8"/>
<circle cx="604.8" cy="2257.9" r="1.4" fill="#B890D8"/>
<circle cx="526.6" cy="2404.9" r="1.6" fill="#9C66C0"/>
<circle cx="482.3" cy="2324.0" r="0.8" fill="#9C66C0"/>
<circle cx="820.2" cy="2262.6" r="1.3" fill="#B890D8"/>
<circle cx="749.7" cy="2367.4" r="1.2" fill="#9C66C0"/>
<circle cx="498.7" cy="2275.1" r="0.8" fill="#B890D8"/>
<circle cx="537.2" cy="2364.6" r="1.3" fill="#9C66C0"/>
<circle cx="632.4" cy="2344.7" r="1.2" fill="#9C66C0"/>
<circle cx="605.1" cy="2290.1" r="1.1" fill="#9C66C0"/>
<circle cx="608.2" cy="2300.8" r="1.5" fill="#9C66C0"/>
<circle cx="818.3" cy="2394.6" r="1.2" fill="#9C66C0"/>
<circle cx="817.6" cy="2375.2" r="0.9" fill="#9C66C0"/>
<circle cx="786.3" cy="2225.2" r="1.4" fill="#B890D8"/>
<circle cx="605.6" cy="2364.8" r="1.5" fill="#9C66C0"/>
<circle cx="835.5" cy="2401.6" r="1.1" fill="#9C66C0"/>
<circle cx="467.5" cy="2224.6" r="1.7" fill="#B890D8"/>
<circle cx="585.8" cy="2257.6" r="0.9" fill="#B890D8"/>
<circle cx="602.9" cy="2278.1" r="1.5" fill="#B890D8"/>
<circle cx="529.8" cy="2302.9" r="1.6" fill="#9C66C0"/>
<circle cx="631.5" cy="2240.1" r="1.2" fill="#B890D8"/>
<circle cx="556.0" cy="2214.3" r="1.3" fill="#B890D8"/>
<circle cx="575.5" cy="2376.3" r="1.0" fill="#9C66C0"/>
<circle cx="501.9" cy="2303.9" r="1.2" fill="#9C66C0"/>
<circle cx="519.3" cy="2315.8" r="1.4" fill="#9C66C0"/>
<circle cx="768.5" cy="2401.4" r="1.3" fill="#9C66C0"/>
<circle cx="787.3" cy="2233.8" r="1.5" fill="#B890D8"/>
<circle cx="840.5" cy="2298.9" r="1.0" fill="#9C66C0"/>
<circle cx="552.8" cy="2258.5" r="1.2" fill="#B890D8"/>
<circle cx="622.3" cy="2242.7" r="1.5" fill="#B890D8"/>
<circle cx="843.6" cy="2239.0" r="1.4" fill="#B890D8"/>
<circle cx="632.7" cy="2314.6" r="1.3" fill="#9C66C0"/>
<circle cx="633.1" cy="2373.2" r="1.6" fill="#9C66C0"/>
<circle cx="571.6" cy="2283.9" r="0.8" fill="#9C66C0"/>
<circle cx="619.7" cy="2266.6" r="1.0" fill="#B890D8"/>
<circle cx="790.4" cy="2317.5" r="1.0" fill="#9C66C0"/>
<circle cx="528.0" cy="2333.9" r="1.5" fill="#9C66C0"/>
<circle cx="808.5" cy="2361.0" r="1.5" fill="#9C66C0"/>
<circle cx="527.9" cy="2237.5" r="1.4" fill="#B890D8"/>
<circle cx="706.0" cy="2249.0" r="1.1" fill="#B890D8"/>
<circle cx="462.9" cy="2353.0" r="1.3" fill="#9C66C0"/>
<circle cx="789.5" cy="2399.6" r="1.3" fill="#9C66C0"/>
<circle cx="595.6" cy="2267.6" r="1.4" fill="#B890D8"/>
<circle cx="830.6" cy="2227.8" r="1.2" fill="#B890D8"/>
<circle cx="758.9" cy="2236.7" r="1.4" fill="#B890D8"/>
<circle cx="556.6" cy="2326.1" r="1.7" fill="#9C66C0"/>
<circle cx="473.4" cy="2355.1" r="1.3" fill="#9C66C0"/>
<circle cx="796.2" cy="2283.1" r="1.6" fill="#9C66C0"/>
<circle cx="839.7" cy="2223.8" r="1.1" fill="#B890D8"/>
<circle cx="555.2" cy="2381.6" r="1.6" fill="#9C66C0"/>
<circle cx="765.2" cy="2389.6" r="1.3" fill="#9C66C0"/>
<circle cx="811.9" cy="2269.6" r="0.9" fill="#B890D8"/>
<circle cx="746.3" cy="2301.9" r="0.8" fill="#9C66C0"/>
<circle cx="775.2" cy="2236.9" r="1.0" fill="#B890D8"/>
<circle cx="493.8" cy="2337.8" r="1.0" fill="#9C66C0"/>
<circle cx="581.6" cy="2324.5" r="1.7" fill="#9C66C0"/>
<circle cx="466.6" cy="2401.7" r="1.5" fill="#9C66C0"/>
<circle cx="561.7" cy="2383.2" r="1.4" fill="#9C66C0"/>
<circle cx="641.3" cy="2258.6" r="1.2" fill="#B890D8"/>
<circle cx="596.8" cy="2228.5" r="1.0" fill="#B890D8"/>
<circle cx="566.3" cy="2305.7" r="1.3" fill="#9C66C0"/>
<circle cx="758.3" cy="2231.9" r="0.9" fill="#B890D8"/>
<circle cx="806.6" cy="2321.7" r="1.0" fill="#9C66C0"/>
<circle cx="548.2" cy="2348.1" r="1.2" fill="#9C66C0"/>
<circle cx="614.9" cy="2406.2" r="0.8" fill="#9C66C0"/>
<circle cx="708.6" cy="2353.3" r="1.3" fill="#9C66C0"/>
<circle cx="695.9" cy="2216.5" r="1.7" fill="#B890D8"/>
<circle cx="479.4" cy="2284.6" r="1.2" fill="#9C66C0"/>
<circle cx="788.6" cy="2357.8" r="1.6" fill="#9C66C0"/>
<circle cx="680.8" cy="2414.1" r="1.1" fill="#9C66C0"/>
<circle cx="616.4" cy="2325.7" r="1.1" fill="#9C66C0"/>
<circle cx="516.6" cy="2350.5" r="1.1" fill="#9C66C0"/>
<circle cx="801.1" cy="2346.9" r="0.8" fill="#9C66C0"/>
<circle cx="501.8" cy="2248.0" r="1.1" fill="#B890D8"/>
<circle cx="537.9" cy="2348.2" r="1.0" fill="#9C66C0"/>
<circle cx="624.3" cy="2291.6" r="1.7" fill="#9C66C0"/>
<circle cx="637.3" cy="2218.7" r="1.7" fill="#B890D8"/>
<circle cx="841.5" cy="2217.4" r="1.6" fill="#B890D8"/>
<circle cx="703.0" cy="2399.9" r="1.4" fill="#9C66C0"/>
<circle cx="705.9" cy="2376.7" r="0.8" fill="#9C66C0"/>
<circle cx="498.5" cy="2234.3" r="0.8" fill="#B890D8"/>
<circle cx="552.0" cy="2217.2" r="0.9" fill="#B890D8"/>
<circle cx="595.6" cy="2243.7" r="0.9" fill="#B890D8"/>
<circle cx="835.9" cy="2400.6" r="1.6" fill="#9C66C0"/>
<circle cx="492.2" cy="2331.8" r="1.6" fill="#9C66C0"/>
<circle cx="631.9" cy="2315.4" r="1.6" fill="#9C66C0"/>
<circle cx="818.8" cy="2329.1" r="1.0" fill="#9C66C0"/>
<circle cx="748.2" cy="2363.0" r="1.1" fill="#9C66C0"/>
<circle cx="637.5" cy="2353.5" r="1.0" fill="#9C66C0"/>
<circle cx="611.0" cy="2323.1" r="1.1" fill="#9C66C0"/>
<circle cx="809.5" cy="2272.2" r="1.2" fill="#B890D8"/>
<circle cx="780.8" cy="2215.4" r="1.1" fill="#B890D8"/>
<circle cx="533.2" cy="2322.6" r="1.7" fill="#9C66C0"/>
<circle cx="614.8" cy="2401.2" r="0.9" fill="#9C66C0"/>
<circle cx="833.2" cy="2276.4" r="1.1" fill="#B890D8"/>
<circle cx="565.1" cy="2391.7" r="1.0" fill="#9C66C0"/>
<circle cx="481.4" cy="2213.5" r="1.3" fill="#B890D8"/>
<circle cx="697.1" cy="2281.4" r="1.4" fill="#9C66C0"/>
<circle cx="662.2" cy="2382.5" r="1.1" fill="#9C66C0"/>
<circle cx="758.8" cy="2317.4" r="1.7" fill="#9C66C0"/>
<circle cx="725.3" cy="2403.3" r="1.2" fill="#9C66C0"/>
<circle cx="721.6" cy="2238.2" r="1.0" fill="#B890D8"/>
<circle cx="699.0" cy="2266.6" r="1.6" fill="#B890D8"/>
<circle cx="496.4" cy="2387.1" r="1.6" fill="#9C66C0"/>
<circle cx="850.3" cy="2264.9" r="1.4" fill="#B890D8"/>
<circle cx="707.4" cy="2355.3" r="1.2" fill="#9C66C0"/>
<circle cx="499.6" cy="2294.4" r="1.3" fill="#9C66C0"/>
<circle cx="505.2" cy="2291.7" r="1.7" fill="#9C66C0"/>
<circle cx="517.8" cy="2385.8" r="1.1" fill="#9C66C0"/>
<circle cx="703.2" cy="2232.1" r="1.6" fill="#B890D8"/>
<circle cx="731.2" cy="2268.9" r="1.1" fill="#B890D8"/>
<circle cx="597.7" cy="2318.4" r="1.3" fill="#9C66C0"/>
<circle cx="713.7" cy="2210.4" r="1.5" fill="#B890D8"/>
<circle cx="848.0" cy="2288.2" r="1.1" fill="#9C66C0"/>
<circle cx="670.0" cy="2376.0" r="1.2" fill="#9C66C0"/>
<circle cx="607.2" cy="2257.2" r="1.5" fill="#B890D8"/>
<circle cx="588.7" cy="2410.5" r="1.3" fill="#9C66C0"/>
<circle cx="554.4" cy="2276.8" r="1.7" fill="#B890D8"/>
<circle cx="809.3" cy="2407.8" r="0.8" fill="#9C66C0"/>
<circle cx="559.8" cy="2395.3" r="1.1" fill="#9C66C0"/>
<circle cx="669.8" cy="2274.0" r="1.4" fill="#B890D8"/>
<circle cx="630.8" cy="2380.7" r="1.5" fill="#9C66C0"/>
<circle cx="628.0" cy="2305.6" r="0.8" fill="#9C66C0"/>
<circle cx="724.8" cy="2303.2" r="0.8" fill="#9C66C0"/>
<circle cx="485.8" cy="2256.7" r="1.2" fill="#B890D8"/>
<circle cx="655.9" cy="2343.9" r="1.6" fill="#9C66C0"/>
<circle cx="519.6" cy="2248.1" r="1.2" fill="#B890D8"/>
<circle cx="616.8" cy="2368.6" r="1.6" fill="#9C66C0"/>
<circle cx="689.8" cy="2352.8" r="1.5" fill="#9C66C0"/>
<circle cx="495.3" cy="2284.4" r="1.1" fill="#9C66C0"/>
<circle cx="488.5" cy="2273.6" r="1.0" fill="#B890D8"/>
<circle cx="716.8" cy="2270.3" r="1.1" fill="#B890D8"/>
<circle cx="826.6" cy="2314.8" r="1.7" fill="#9C66C0"/>
<circle cx="707.0" cy="2318.0" r="1.5" fill="#9C66C0"/>
<circle cx="540.7" cy="2394.8" r="1.2" fill="#9C66C0"/>
<circle cx="482.6" cy="2326.5" r="0.9" fill="#9C66C0"/>
<circle cx="683.0" cy="2340.3" r="1.5" fill="#9C66C0"/>
<circle cx="730.9" cy="2211.2" r="0.8" fill="#B890D8"/>
<circle cx="738.3" cy="2324.0" r="1.6" fill="#9C66C0"/>
<circle cx="615.2" cy="2229.5" r="0.8" fill="#B890D8"/>
<circle cx="470.6" cy="2245.4" r="1.5" fill="#B890D8"/>
<circle cx="681.8" cy="2390.2" r="1.6" fill="#9C66C0"/>
<circle cx="661.1" cy="2238.9" r="1.0" fill="#B890D8"/>
<circle cx="695.5" cy="2239.2" r="1.3" fill="#B890D8"/>
<circle cx="659.2" cy="2215.0" r="0.9" fill="#B890D8"/>
<circle cx="831.5" cy="2311.0" r="1.2" fill="#9C66C0"/>
<circle cx="628.2" cy="2375.5" r="1.4" fill="#9C66C0"/>
<circle cx="728.0" cy="2329.4" r="0.9" fill="#9C66C0"/>
<circle cx="552.6" cy="2266.3" r="0.8" fill="#B890D8"/>
<circle cx="706.1" cy="2387.7" r="1.7" fill="#9C66C0"/>
<circle cx="483.8" cy="2248.9" r="1.4" fill="#B890D8"/>
<circle cx="466.7" cy="2254.8" r="1.2" fill="#B890D8"/>
<circle cx="759.3" cy="2218.1" r="0.8" fill="#B890D8"/>
<circle cx="552.6" cy="2255.4" r="0.9" fill="#B890D8"/>
<circle cx="689.7" cy="2245.1" r="0.8" fill="#B890D8"/>
<circle cx="799.7" cy="2303.7" r="1.2" fill="#9C66C0"/>
<circle cx="558.0" cy="2393.5" r="1.7" fill="#9C66C0"/>
<circle cx="485.5" cy="2349.9" r="1.4" fill="#9C66C0"/>
<circle cx="688.8" cy="2295.0" r="1.2" fill="#9C66C0"/>
<circle cx="738.7" cy="2213.7" r="1.6" fill="#B890D8"/>
<circle cx="493.4" cy="2244.3" r="1.1" fill="#B890D8"/>
<circle cx="462.0" cy="2392.5" r="1.2" fill="#9C66C0"/>
<circle cx="601.6" cy="2278.7" r="1.6" fill="#B890D8"/>
<circle cx="591.0" cy="2344.5" r="1.7" fill="#9C66C0"/>
<circle cx="625.0" cy="2398.9" r="1.3" fill="#9C66C0"/>
<circle cx="611.2" cy="2306.1" r="1.1" fill="#9C66C0"/>
<circle cx="630.2" cy="2267.1" r="0.8" fill="#B890D8"/>
<circle cx="775.3" cy="2259.3" r="0.9" fill="#B890D8"/>
<circle cx="536.1" cy="2322.3" r="1.5" fill="#9C66C0"/>
<circle cx="677.1" cy="2306.1" r="1.5" fill="#9C66C0"/>
<circle cx="553.4" cy="2285.5" r="1.0" fill="#9C66C0"/>
<circle cx="618.2" cy="2339.9" r="1.3" fill="#9C66C0"/>
<circle cx="575.8" cy="2308.0" r="1.0" fill="#9C66C0"/>
<circle cx="796.3" cy="2349.5" r="1.6" fill="#9C66C0"/>
<circle cx="851.2" cy="2333.0" r="1.2" fill="#9C66C0"/>
<circle cx="848.1" cy="2320.2" r="1.2" fill="#9C66C0"/>
<circle cx="659.5" cy="2235.1" r="1.5" fill="#B890D8"/>
<circle cx="725.4" cy="2228.0" r="1.6" fill="#B890D8"/>
<circle cx="748.2" cy="2368.1" r="0.8" fill="#9C66C0"/>
<circle cx="741.3" cy="2239.2" r="0.8" fill="#B890D8"/>
<circle cx="738.3" cy="2353.5" r="1.5" fill="#9C66C0"/>
<circle cx="550.0" cy="2248.2" r="1.6" fill="#B890D8"/>
<circle cx="485.8" cy="2399.1" r="1.5" fill="#9C66C0"/>
<circle cx="757.1" cy="2249.1" r="1.4" fill="#B890D8"/>
<circle cx="493.6" cy="2269.0" r="1.5" fill="#B890D8"/>
<circle cx="615.8" cy="2283.0" r="1.6" fill="#9C66C0"/>
<circle cx="641.5" cy="2339.6" r="1.4" fill="#9C66C0"/>
<circle cx="798.2" cy="2403.8" r="1.0" fill="#9C66C0"/>
<circle cx="603.1" cy="2375.3" r="1.4" fill="#9C66C0"/>
<circle cx="811.5" cy="2214.3" r="1.4" fill="#B890D8"/>
<circle cx="640.8" cy="2417.0" r="1.2" fill="#9C66C0"/>
<circle cx="815.1" cy="2229.3" r="1.1" fill="#B890D8"/>
<circle cx="565.5" cy="2335.7" r="1.0" fill="#9C66C0"/>
<circle cx="725.2" cy="2293.2" r="1.3" fill="#9C66C0"/>
<circle cx="628.3" cy="2366.4" r="0.9" fill="#9C66C0"/>
<circle cx="749.2" cy="2323.9" r="1.4" fill="#9C66C0"/>
<circle cx="829.0" cy="2326.4" r="1.0" fill="#9C66C0"/>
<circle cx="654.7" cy="2317.3" r="1.6" fill="#9C66C0"/>
<circle cx="722.4" cy="2328.7" r="1.6" fill="#9C66C0"/>
<circle cx="503.0" cy="2367.9" r="1.4" fill="#9C66C0"/>
<circle cx="813.1" cy="2391.0" r="1.3" fill="#9C66C0"/>
<circle cx="732.5" cy="2411.6" r="1.4" fill="#9C66C0"/>
<circle cx="473.6" cy="2275.3" r="1.5" fill="#B890D8"/>
<circle cx="594.8" cy="2399.0" r="1.2" fill="#9C66C0"/>
<circle cx="751.4" cy="2416.6" r="1.4" fill="#9C66C0"/>
<circle cx="545.8" cy="2318.7" r="1.1" fill="#9C66C0"/>
<circle cx="832.2" cy="2301.1" r="1.1" fill="#9C66C0"/>
<circle cx="656.7" cy="2352.2" r="1.6" fill="#9C66C0"/>
<circle cx="705.0" cy="2314.8" r="1.4" fill="#9C66C0"/>
<circle cx="539.9" cy="2349.0" r="1.6" fill="#9C66C0"/>
<circle cx="764.9" cy="2310.8" r="1.0" fill="#9C66C0"/>
<circle cx="833.3" cy="2380.6" r="1.3" fill="#9C66C0"/>
<circle cx="527.6" cy="2243.0" r="1.5" fill="#B890D8"/>
<circle cx="551.7" cy="2263.1" r="1.7" fill="#B890D8"/>
<circle cx="525.0" cy="2281.2" r="0.9" fill="#9C66C0"/>
<circle cx="709.1" cy="2237.5" r="1.4" fill="#B890D8"/>
<circle cx="650.2" cy="2309.4" r="1.4" fill="#9C66C0"/>
<circle cx="461.3" cy="2352.8" r="0.9" fill="#9C66C0"/>
<circle cx="710.9" cy="2354.2" r="0.9" fill="#9C66C0"/>
<circle cx="737.1" cy="2331.2" r="1.0" fill="#9C66C0"/>
<circle cx="706.4" cy="2233.5" r="1.2" fill="#B890D8"/>
<circle cx="828.9" cy="2349.8" r="0.9" fill="#9C66C0"/>
<circle cx="843.9" cy="2383.6" r="1.2" fill="#9C66C0"/>
</g>
<polygon points="521.65,2242.6 507.05,2258.13 503.05,2254.36 500.7,2270 516.16,2266.69 512.15,2262.93 526.75,2247.4" fill="#F4944A" />
<polygon points="578.39,2292.57 564.06,2308.58 559.96,2304.91 558,2320.6 573.38,2316.91 569.28,2313.25 583.61,2297.23" fill="#7030A0" />
<polygon points="668.53,2292.43 654.22,2306.73 650.33,2302.84 647.5,2318.4 663.06,2315.57 659.17,2311.68 673.47,2297.37" fill="#7030A0" />
<polygon points="696.2,2299.46 681.28,2316.09 677.18,2312.41 675.2,2328.1 690.58,2324.44 686.49,2320.76 701.4,2304.14" fill="#1068B8" />
<g clip-path="url(#h3c)">
<rect x="878" y="2235" width="395" height="145" fill="#EC86D8" />
<circle cx="959.3" cy="2336.0" r="0.6" fill="#E070CC"/>
<circle cx="959.3" cy="2246.6" r="0.9" fill="#F6B8EC"/>
<circle cx="921.6" cy="2281.9" r="1.8" fill="#F6B8EC"/>
<circle cx="1005.8" cy="2304.5" r="1.0" fill="#F6B8EC"/>
<circle cx="1097.7" cy="2244.5" r="1.2" fill="#E070CC"/>
<circle cx="911.1" cy="2339.8" r="1.8" fill="#F8D0F2"/>
<circle cx="982.2" cy="2329.6" r="1.7" fill="#E070CC"/>
<circle cx="952.8" cy="2315.1" r="0.6" fill="#F6B8EC"/>
<circle cx="1131.9" cy="2327.1" r="1.7" fill="#F8D0F2"/>
<circle cx="1153.5" cy="2330.7" r="0.7" fill="#F8D0F2"/>
<circle cx="888.9" cy="2348.0" r="1.6" fill="#E070CC"/>
<circle cx="1022.9" cy="2374.6" r="1.2" fill="#F8D0F2"/>
<circle cx="944.4" cy="2349.4" r="1.6" fill="#F8D0F2"/>
<circle cx="1121.0" cy="2291.9" r="1.4" fill="#E070CC"/>
<circle cx="1004.1" cy="2290.3" r="1.3" fill="#E070CC"/>
<circle cx="1208.1" cy="2274.0" r="0.7" fill="#F6B8EC"/>
<circle cx="1101.3" cy="2327.2" r="1.6" fill="#F8D0F2"/>
<circle cx="1036.9" cy="2245.2" r="0.9" fill="#E070CC"/>
<circle cx="1074.8" cy="2260.4" r="1.0" fill="#F8D0F2"/>
<circle cx="1124.8" cy="2258.1" r="0.9" fill="#F6B8EC"/>
<circle cx="1052.6" cy="2375.7" r="0.7" fill="#F6B8EC"/>
<circle cx="1213.2" cy="2306.1" r="0.9" fill="#E070CC"/>
<circle cx="879.1" cy="2357.4" r="1.6" fill="#F8D0F2"/>
<circle cx="1045.6" cy="2278.2" r="1.4" fill="#F8D0F2"/>
<circle cx="1158.0" cy="2364.5" r="0.7" fill="#F6B8EC"/>
<circle cx="1140.4" cy="2355.3" r="1.7" fill="#F6B8EC"/>
<circle cx="1027.3" cy="2238.6" r="1.6" fill="#F8D0F2"/>
<circle cx="1015.2" cy="2265.7" r="0.7" fill="#E070CC"/>
<circle cx="1081.6" cy="2298.8" r="1.2" fill="#F8D0F2"/>
<circle cx="1219.0" cy="2376.4" r="1.8" fill="#F8D0F2"/>
<circle cx="910.1" cy="2353.0" r="1.5" fill="#E070CC"/>
<circle cx="1118.0" cy="2280.2" r="1.3" fill="#E070CC"/>
<circle cx="1067.4" cy="2329.9" r="1.0" fill="#E070CC"/>
<circle cx="1087.0" cy="2328.0" r="1.6" fill="#F6B8EC"/>
<circle cx="1145.4" cy="2301.5" r="0.7" fill="#F8D0F2"/>
<circle cx="1106.2" cy="2316.8" r="1.7" fill="#E070CC"/>
<circle cx="1086.8" cy="2318.2" r="1.1" fill="#F6B8EC"/>
<circle cx="967.5" cy="2375.5" r="0.8" fill="#F8D0F2"/>
<circle cx="922.2" cy="2360.4" r="0.9" fill="#F6B8EC"/>
<circle cx="951.9" cy="2333.2" r="1.5" fill="#F6B8EC"/>
<circle cx="1096.3" cy="2270.2" r="1.3" fill="#F6B8EC"/>
<circle cx="1167.8" cy="2367.1" r="1.3" fill="#E070CC"/>
<circle cx="1145.7" cy="2351.6" r="0.8" fill="#F8D0F2"/>
<circle cx="1094.9" cy="2339.5" r="1.5" fill="#F6B8EC"/>
<circle cx="1124.9" cy="2374.4" r="1.2" fill="#E070CC"/>
<circle cx="1205.1" cy="2293.7" r="0.8" fill="#F6B8EC"/>
<circle cx="1099.8" cy="2348.0" r="0.8" fill="#F8D0F2"/>
<circle cx="900.7" cy="2271.6" r="1.0" fill="#F6B8EC"/>
<circle cx="1154.6" cy="2373.7" r="1.2" fill="#F6B8EC"/>
<circle cx="1156.7" cy="2298.5" r="1.7" fill="#F8D0F2"/>
<circle cx="1267.5" cy="2266.6" r="0.7" fill="#F8D0F2"/>
<circle cx="1221.1" cy="2261.9" r="1.5" fill="#E070CC"/>
<circle cx="1194.8" cy="2342.5" r="0.6" fill="#E070CC"/>
<circle cx="926.4" cy="2291.0" r="1.5" fill="#E070CC"/>
<circle cx="1162.4" cy="2244.2" r="1.3" fill="#F6B8EC"/>
<circle cx="1018.2" cy="2284.5" r="1.3" fill="#F6B8EC"/>
<circle cx="1242.6" cy="2333.9" r="0.9" fill="#F6B8EC"/>
<circle cx="1151.4" cy="2241.0" r="1.8" fill="#E070CC"/>
<circle cx="922.7" cy="2241.0" r="0.7" fill="#E070CC"/>
<circle cx="951.0" cy="2316.7" r="0.9" fill="#F8D0F2"/>
<circle cx="1141.8" cy="2356.7" r="1.3" fill="#E070CC"/>
<circle cx="1090.1" cy="2335.9" r="1.6" fill="#E070CC"/>
<circle cx="883.4" cy="2286.6" r="0.8" fill="#F8D0F2"/>
<circle cx="1068.7" cy="2242.5" r="1.6" fill="#F6B8EC"/>
<circle cx="949.8" cy="2354.2" r="1.4" fill="#E070CC"/>
<circle cx="1210.1" cy="2375.4" r="1.4" fill="#E070CC"/>
<circle cx="1033.0" cy="2362.0" r="1.3" fill="#F6B8EC"/>
<circle cx="1020.2" cy="2313.0" r="1.0" fill="#F6B8EC"/>
<circle cx="1110.2" cy="2244.2" r="0.8" fill="#E070CC"/>
<circle cx="1164.5" cy="2285.1" r="1.2" fill="#E070CC"/>
<circle cx="1001.9" cy="2285.6" r="1.2" fill="#F6B8EC"/>
<circle cx="886.1" cy="2303.2" r="1.8" fill="#F6B8EC"/>
<circle cx="1126.6" cy="2341.2" r="0.8" fill="#E070CC"/>
<circle cx="985.7" cy="2309.0" r="0.9" fill="#F8D0F2"/>
<circle cx="1104.0" cy="2321.0" r="0.8" fill="#F8D0F2"/>
<circle cx="891.4" cy="2317.6" r="1.5" fill="#F6B8EC"/>
<circle cx="1183.1" cy="2327.9" r="1.4" fill="#E070CC"/>
<circle cx="1190.0" cy="2350.6" r="0.9" fill="#F6B8EC"/>
<circle cx="1146.4" cy="2281.2" r="1.5" fill="#F8D0F2"/>
<circle cx="1020.9" cy="2359.2" r="0.9" fill="#F8D0F2"/>
<circle cx="1160.0" cy="2285.5" r="1.4" fill="#F8D0F2"/>
<circle cx="1005.3" cy="2378.4" r="1.2" fill="#E070CC"/>
<circle cx="1230.3" cy="2352.9" r="1.8" fill="#F6B8EC"/>
<circle cx="931.4" cy="2239.0" r="1.6" fill="#E070CC"/>
<circle cx="1037.6" cy="2294.2" r="1.5" fill="#F6B8EC"/>
<circle cx="1109.2" cy="2258.4" r="1.5" fill="#E070CC"/>
<circle cx="1164.3" cy="2316.3" r="1.7" fill="#E070CC"/>
<circle cx="907.0" cy="2265.0" r="1.7" fill="#F8D0F2"/>
<circle cx="948.4" cy="2320.4" r="1.8" fill="#E070CC"/>
<circle cx="1260.4" cy="2336.0" r="1.5" fill="#F6B8EC"/>
<circle cx="1208.4" cy="2283.3" r="0.8" fill="#E070CC"/>
<circle cx="1093.3" cy="2345.7" r="1.4" fill="#F6B8EC"/>
<circle cx="1155.5" cy="2269.0" r="1.1" fill="#F6B8EC"/>
<circle cx="1229.8" cy="2278.1" r="1.2" fill="#F6B8EC"/>
<circle cx="955.5" cy="2342.2" r="1.8" fill="#F8D0F2"/>
<circle cx="897.1" cy="2248.4" r="1.6" fill="#F8D0F2"/>
<circle cx="1012.4" cy="2257.4" r="0.8" fill="#F8D0F2"/>
<circle cx="1131.1" cy="2240.1" r="1.0" fill="#F6B8EC"/>
<circle cx="961.6" cy="2284.4" r="1.5" fill="#F8D0F2"/>
<circle cx="1069.6" cy="2324.6" r="1.6" fill="#F6B8EC"/>
<circle cx="900.6" cy="2296.8" r="0.7" fill="#F8D0F2"/>
<circle cx="1119.4" cy="2348.2" r="1.8" fill="#E070CC"/>
<circle cx="979.3" cy="2303.8" r="0.6" fill="#E070CC"/>
<circle cx="1100.3" cy="2378.2" r="0.7" fill="#F8D0F2"/>
<circle cx="1157.8" cy="2356.6" r="0.8" fill="#F6B8EC"/>
<circle cx="939.5" cy="2258.3" r="1.5" fill="#F6B8EC"/>
<circle cx="1019.0" cy="2289.4" r="1.0" fill="#F8D0F2"/>
<circle cx="1109.9" cy="2316.8" r="1.4" fill="#F8D0F2"/>
<circle cx="1104.5" cy="2270.7" r="1.3" fill="#F8D0F2"/>
<circle cx="1066.2" cy="2242.5" r="1.4" fill="#F8D0F2"/>
<circle cx="1182.4" cy="2376.8" r="1.1" fill="#E070CC"/>
<circle cx="1020.4" cy="2313.2" r="0.9" fill="#E070CC"/>
<circle cx="881.6" cy="2305.6" r="1.4" fill="#E070CC"/>
<circle cx="937.3" cy="2327.3" r="1.1" fill="#F6B8EC"/>
<circle cx="1247.2" cy="2326.7" r="0.7" fill="#F8D0F2"/>
<circle cx="1075.7" cy="2316.8" r="0.8" fill="#F8D0F2"/>
<circle cx="1022.1" cy="2259.2" r="0.8" fill="#F8D0F2"/>
<circle cx="1215.1" cy="2348.6" r="1.2" fill="#E070CC"/>
<circle cx="1184.6" cy="2272.4" r="1.8" fill="#E070CC"/>
<circle cx="962.0" cy="2367.6" r="1.7" fill="#E070CC"/>
<circle cx="1059.3" cy="2284.0" r="1.7" fill="#F6B8EC"/>
<circle cx="1138.1" cy="2240.2" r="1.6" fill="#E070CC"/>
<circle cx="1143.6" cy="2287.8" r="0.9" fill="#E070CC"/>
<circle cx="1039.5" cy="2368.5" r="1.7" fill="#F8D0F2"/>
<circle cx="1217.0" cy="2242.4" r="0.6" fill="#F8D0F2"/>
<circle cx="1048.9" cy="2270.9" r="0.8" fill="#E070CC"/>
<circle cx="1131.2" cy="2280.4" r="1.8" fill="#F6B8EC"/>
<circle cx="1264.6" cy="2350.3" r="1.2" fill="#E070CC"/>
<circle cx="1254.0" cy="2257.4" r="1.0" fill="#F6B8EC"/>
<circle cx="1008.6" cy="2306.9" r="1.7" fill="#F6B8EC"/>
<circle cx="1004.0" cy="2324.7" r="1.7" fill="#F6B8EC"/>
<circle cx="1106.2" cy="2363.4" r="0.9" fill="#F8D0F2"/>
<circle cx="1020.0" cy="2348.7" r="1.6" fill="#F6B8EC"/>
<circle cx="1049.3" cy="2257.9" r="1.7" fill="#F8D0F2"/>
<circle cx="887.6" cy="2253.8" r="1.8" fill="#F6B8EC"/>
<circle cx="930.6" cy="2281.0" r="1.2" fill="#E070CC"/>
<circle cx="916.4" cy="2262.0" r="1.4" fill="#F6B8EC"/>
<circle cx="1041.2" cy="2329.2" r="1.4" fill="#E070CC"/>
<circle cx="1225.5" cy="2377.1" r="0.6" fill="#F6B8EC"/>
<circle cx="957.3" cy="2327.1" r="0.6" fill="#F6B8EC"/>
<circle cx="1076.9" cy="2270.9" r="1.1" fill="#F6B8EC"/>
<circle cx="1165.0" cy="2244.9" r="1.7" fill="#F6B8EC"/>
<circle cx="1224.2" cy="2255.1" r="1.2" fill="#F6B8EC"/>
<circle cx="1085.0" cy="2238.4" r="0.9" fill="#F8D0F2"/>
<circle cx="936.3" cy="2342.8" r="1.2" fill="#F6B8EC"/>
<circle cx="1086.8" cy="2357.2" r="1.7" fill="#F6B8EC"/>
<circle cx="1015.7" cy="2268.5" r="1.8" fill="#F6B8EC"/>
<circle cx="1166.2" cy="2276.8" r="0.8" fill="#E070CC"/>
<circle cx="984.0" cy="2375.2" r="0.8" fill="#F6B8EC"/>
<circle cx="1038.8" cy="2317.0" r="1.0" fill="#F6B8EC"/>
<circle cx="1006.3" cy="2243.9" r="1.1" fill="#E070CC"/>
<circle cx="1094.2" cy="2336.0" r="1.8" fill="#F8D0F2"/>
<circle cx="1160.8" cy="2294.7" r="1.0" fill="#E070CC"/>
<circle cx="1028.9" cy="2259.5" r="1.5" fill="#E070CC"/>
<circle cx="1194.7" cy="2365.5" r="1.4" fill="#F6B8EC"/>
<circle cx="1117.5" cy="2369.5" r="0.9" fill="#F8D0F2"/>
<circle cx="1165.6" cy="2378.7" r="1.6" fill="#F8D0F2"/>
<circle cx="923.8" cy="2357.7" r="1.5" fill="#F8D0F2"/>
<circle cx="897.5" cy="2336.6" r="1.0" fill="#F8D0F2"/>
<circle cx="1052.3" cy="2332.9" r="1.1" fill="#F8D0F2"/>
<circle cx="878.4" cy="2344.0" r="1.6" fill="#F8D0F2"/>
<circle cx="1012.9" cy="2315.6" r="1.1" fill="#F8D0F2"/>
<circle cx="1189.8" cy="2361.5" r="1.0" fill="#F6B8EC"/>
<circle cx="1033.0" cy="2312.7" r="1.3" fill="#F8D0F2"/>
<circle cx="1203.5" cy="2248.2" r="1.6" fill="#F8D0F2"/>
<circle cx="966.0" cy="2325.0" r="0.9" fill="#E070CC"/>
<circle cx="1215.9" cy="2287.4" r="1.3" fill="#F8D0F2"/>
<circle cx="965.2" cy="2258.2" r="1.7" fill="#F8D0F2"/>
<circle cx="1021.5" cy="2267.1" r="0.8" fill="#E070CC"/>
<circle cx="972.0" cy="2262.5" r="1.6" fill="#E070CC"/>
<circle cx="948.0" cy="2372.5" r="1.6" fill="#F8D0F2"/>
<circle cx="1219.9" cy="2244.1" r="1.1" fill="#E070CC"/>
<circle cx="926.5" cy="2259.8" r="0.9" fill="#F6B8EC"/>
<circle cx="1021.7" cy="2332.1" r="1.2" fill="#E070CC"/>
<circle cx="1056.4" cy="2250.5" r="1.1" fill="#E070CC"/>
<circle cx="1151.8" cy="2301.8" r="1.2" fill="#F6B8EC"/>
<circle cx="1177.0" cy="2259.3" r="1.4" fill="#E070CC"/>
<circle cx="1070.6" cy="2331.8" r="1.3" fill="#F8D0F2"/>
<circle cx="1012.0" cy="2292.1" r="0.6" fill="#F6B8EC"/>
<circle cx="878.3" cy="2274.9" r="1.3" fill="#E070CC"/>
<circle cx="1161.0" cy="2277.0" r="1.0" fill="#F6B8EC"/>
<circle cx="982.6" cy="2300.2" r="1.2" fill="#E070CC"/>
<circle cx="1216.4" cy="2266.6" r="1.1" fill="#E070CC"/>
<circle cx="1121.4" cy="2290.8" r="0.7" fill="#E070CC"/>
<circle cx="1026.0" cy="2243.9" r="1.5" fill="#E070CC"/>
<circle cx="1047.8" cy="2324.3" r="0.9" fill="#F6B8EC"/>
<circle cx="1029.8" cy="2320.2" r="1.7" fill="#F6B8EC"/>
<circle cx="1263.2" cy="2358.9" r="1.3" fill="#F6B8EC"/>
<circle cx="1140.2" cy="2284.8" r="0.7" fill="#E070CC"/>
<circle cx="1027.5" cy="2312.7" r="1.2" fill="#F8D0F2"/>
<circle cx="1176.3" cy="2241.6" r="1.3" fill="#E070CC"/>
<circle cx="1246.4" cy="2337.5" r="1.1" fill="#E070CC"/>
<circle cx="947.4" cy="2247.2" r="1.1" fill="#F6B8EC"/>
<circle cx="1079.6" cy="2355.1" r="1.4" fill="#F8D0F2"/>
<circle cx="956.9" cy="2314.9" r="1.7" fill="#E070CC"/>
<circle cx="1096.2" cy="2347.2" r="1.5" fill="#F6B8EC"/>
<circle cx="913.5" cy="2358.4" r="1.3" fill="#F6B8EC"/>
<circle cx="918.1" cy="2250.5" r="1.5" fill="#F8D0F2"/>
<circle cx="1057.0" cy="2355.0" r="0.8" fill="#E070CC"/>
<circle cx="1068.2" cy="2245.8" r="1.4" fill="#E070CC"/>
<circle cx="1210.4" cy="2257.9" r="1.1" fill="#F6B8EC"/>
<circle cx="1221.5" cy="2258.7" r="1.0" fill="#F8D0F2"/>
<circle cx="1265.0" cy="2264.4" r="1.2" fill="#F8D0F2"/>
<circle cx="981.4" cy="2282.5" r="0.9" fill="#E070CC"/>
<circle cx="1096.9" cy="2310.6" r="1.1" fill="#F6B8EC"/>
<circle cx="998.9" cy="2273.3" r="1.1" fill="#E070CC"/>
<circle cx="1215.5" cy="2274.5" r="0.8" fill="#F6B8EC"/>
<circle cx="959.8" cy="2330.6" r="1.7" fill="#F8D0F2"/>
<circle cx="1070.7" cy="2320.9" r="1.0" fill="#E070CC"/>
<circle cx="956.9" cy="2368.6" r="1.3" fill="#F6B8EC"/>
<circle cx="1165.3" cy="2239.2" r="0.7" fill="#F8D0F2"/>
<circle cx="1202.4" cy="2243.0" r="0.9" fill="#E070CC"/>
<circle cx="992.9" cy="2338.9" r="1.6" fill="#F8D0F2"/>
<circle cx="1118.6" cy="2295.7" r="1.5" fill="#F6B8EC"/>
<circle cx="1224.0" cy="2246.2" r="1.1" fill="#F8D0F2"/>
<circle cx="927.0" cy="2257.5" r="1.7" fill="#F8D0F2"/>
<circle cx="1073.9" cy="2240.0" r="1.5" fill="#F8D0F2"/>
<circle cx="1193.5" cy="2308.7" r="1.4" fill="#F8D0F2"/>
<circle cx="1173.0" cy="2351.9" r="1.2" fill="#F6B8EC"/>
<circle cx="935.4" cy="2368.3" r="0.8" fill="#F6B8EC"/>
<circle cx="1061.5" cy="2266.6" r="0.7" fill="#F6B8EC"/>
<circle cx="1041.4" cy="2331.6" r="0.9" fill="#E070CC"/>
<circle cx="1148.2" cy="2260.0" r="0.7" fill="#F8D0F2"/>
<circle cx="930.6" cy="2260.7" r="1.1" fill="#F6B8EC"/>
<circle cx="1222.6" cy="2351.2" r="1.4" fill="#F8D0F2"/>
<circle cx="938.7" cy="2367.5" r="1.0" fill="#F6B8EC"/>
<circle cx="937.8" cy="2351.5" r="1.8" fill="#E070CC"/>
<circle cx="1261.8" cy="2284.5" r="0.8" fill="#E070CC"/>
<circle cx="966.0" cy="2315.5" r="0.7" fill="#E070CC"/>
<circle cx="936.7" cy="2264.1" r="1.0" fill="#E070CC"/>
<circle cx="923.1" cy="2355.6" r="0.7" fill="#F6B8EC"/>
<circle cx="1270.5" cy="2371.4" r="1.2" fill="#E070CC"/>
<circle cx="1071.0" cy="2240.5" r="1.5" fill="#F6B8EC"/>
<circle cx="957.0" cy="2277.8" r="1.0" fill="#F8D0F2"/>
<circle cx="1091.0" cy="2250.6" r="0.8" fill="#E070CC"/>
<circle cx="1180.5" cy="2346.6" r="1.7" fill="#F8D0F2"/>
<circle cx="1242.3" cy="2242.6" r="1.3" fill="#F6B8EC"/>
<circle cx="1013.7" cy="2372.1" r="1.4" fill="#F6B8EC"/>
<circle cx="945.8" cy="2287.7" r="1.2" fill="#E070CC"/>
<circle cx="1170.5" cy="2263.4" r="1.5" fill="#E070CC"/>
<circle cx="1196.7" cy="2340.8" r="1.1" fill="#F8D0F2"/>
<circle cx="1095.3" cy="2349.9" r="1.3" fill="#E070CC"/>
<circle cx="892.1" cy="2243.6" r="1.3" fill="#E070CC"/>
<circle cx="1132.8" cy="2256.7" r="1.3" fill="#E070CC"/>
<circle cx="908.0" cy="2341.3" r="1.5" fill="#E070CC"/>
<circle cx="944.9" cy="2371.7" r="1.0" fill="#F8D0F2"/>
<circle cx="1222.1" cy="2306.2" r="0.8" fill="#F6B8EC"/>
<circle cx="920.0" cy="2271.9" r="0.8" fill="#E070CC"/>
<circle cx="1089.2" cy="2254.7" r="1.2" fill="#F6B8EC"/>
<circle cx="1101.9" cy="2244.0" r="0.9" fill="#F6B8EC"/>
<circle cx="989.7" cy="2316.9" r="1.8" fill="#F6B8EC"/>
<circle cx="1164.3" cy="2313.9" r="0.9" fill="#F6B8EC"/>
<circle cx="884.0" cy="2372.0" r="1.2" fill="#F8D0F2"/>
<circle cx="1102.7" cy="2335.8" r="0.9" fill="#F6B8EC"/>
<circle cx="938.5" cy="2275.5" r="0.6" fill="#E070CC"/>
<circle cx="1124.0" cy="2253.6" r="1.3" fill="#F6B8EC"/>
<circle cx="911.2" cy="2320.1" r="0.9" fill="#F8D0F2"/>
<circle cx="1183.3" cy="2310.8" r="1.6" fill="#F6B8EC"/>
<circle cx="906.8" cy="2285.9" r="0.7" fill="#F6B8EC"/>
<circle cx="1121.6" cy="2336.2" r="1.6" fill="#E070CC"/>
<circle cx="911.1" cy="2345.8" r="1.3" fill="#F6B8EC"/>
<circle cx="882.2" cy="2371.5" r="1.1" fill="#E070CC"/>
<circle cx="890.7" cy="2350.0" r="0.8" fill="#F8D0F2"/>
<circle cx="1145.4" cy="2259.5" r="1.0" fill="#F6B8EC"/>
<circle cx="958.3" cy="2369.3" r="1.4" fill="#F8D0F2"/>
<circle cx="1262.5" cy="2379.6" r="1.5" fill="#E070CC"/>
<circle cx="892.9" cy="2312.6" r="1.0" fill="#F6B8EC"/>
<circle cx="1174.1" cy="2328.4" r="0.8" fill="#F8D0F2"/>
<circle cx="897.8" cy="2289.9" r="1.1" fill="#F8D0F2"/>
<circle cx="1160.7" cy="2287.6" r="0.8" fill="#E070CC"/>
<circle cx="1143.1" cy="2343.9" r="0.8" fill="#F8D0F2"/>
<circle cx="1247.2" cy="2366.5" r="1.5" fill="#F8D0F2"/>
<circle cx="1110.6" cy="2299.8" r="1.6" fill="#F8D0F2"/>
<circle cx="995.8" cy="2374.5" r="1.2" fill="#F8D0F2"/>
<circle cx="923.6" cy="2375.5" r="1.5" fill="#E070CC"/>
<circle cx="1173.8" cy="2358.3" r="0.9" fill="#F8D0F2"/>
<circle cx="1058.4" cy="2271.6" r="1.2" fill="#F8D0F2"/>
<circle cx="1228.5" cy="2245.1" r="1.4" fill="#E070CC"/>
<circle cx="1190.7" cy="2335.0" r="1.7" fill="#E070CC"/>
<circle cx="1038.1" cy="2250.4" r="1.4" fill="#E070CC"/>
<circle cx="1139.3" cy="2366.4" r="1.1" fill="#E070CC"/>
<circle cx="879.8" cy="2307.4" r="0.6" fill="#F6B8EC"/>
<circle cx="1224.0" cy="2305.5" r="1.1" fill="#E070CC"/>
<circle cx="1058.2" cy="2285.6" r="0.9" fill="#E070CC"/>
<circle cx="1033.2" cy="2304.2" r="0.6" fill="#E070CC"/>
<circle cx="912.7" cy="2276.5" r="1.4" fill="#E070CC"/>
<circle cx="1038.5" cy="2314.4" r="0.9" fill="#F6B8EC"/>
<circle cx="1147.1" cy="2243.9" r="1.6" fill="#F6B8EC"/>
<circle cx="1031.5" cy="2285.2" r="0.8" fill="#F6B8EC"/>
<circle cx="966.3" cy="2364.4" r="1.3" fill="#E070CC"/>
<circle cx="999.6" cy="2283.2" r="1.7" fill="#F8D0F2"/>
<circle cx="952.6" cy="2355.9" r="0.8" fill="#F8D0F2"/>
<circle cx="881.6" cy="2359.2" r="0.7" fill="#F6B8EC"/>
<circle cx="1057.1" cy="2352.9" r="0.9" fill="#E070CC"/>
<circle cx="1144.4" cy="2377.8" r="1.5" fill="#F8D0F2"/>
<circle cx="1140.4" cy="2257.2" r="1.5" fill="#E070CC"/>
<circle cx="1140.5" cy="2248.8" r="1.3" fill="#E070CC"/>
<circle cx="982.9" cy="2280.0" r="1.0" fill="#F8D0F2"/>
<circle cx="1127.0" cy="2291.4" r="1.2" fill="#F8D0F2"/>
<circle cx="901.5" cy="2331.0" r="1.2" fill="#F8D0F2"/>
<ellipse cx="1040" cy="2275" rx="2.5" ry="11" fill="#F8E2F6"/>
<ellipse cx="1085" cy="2265" rx="2.5" ry="11" fill="#F8E2F6"/>
<ellipse cx="1030" cy="2320" rx="2.5" ry="11" fill="#F8E2F6"/>
<ellipse cx="990" cy="2310" rx="2.5" ry="11" fill="#F8E2F6"/>
<ellipse cx="972" cy="2330" rx="2.5" ry="11" fill="#F8E2F6"/>
<ellipse cx="1070" cy="2310" rx="2.5" ry="11" fill="#F8E2F6"/>
<ellipse cx="1110" cy="2290" rx="2.5" ry="11" fill="#F8E2F6"/>
</g>
<polyline points="878.8,2294.9 900,2292 925,2290 945,2282 965,2270 985,2262 1000,2254 1015,2246 1030,2240 1037.3,2239.4 1050,2244 1070,2247 1085,2248 1100,2244 1109.4,2243.6 1130,2246 1153.7,2250 1165,2258 1178.6,2265.8 1200,2272 1220.2,2279.6 1240,2290 1253.5,2301.8 1265,2310 1271.5,2318.4" fill="none" stroke="#B070C8" stroke-width="2.2" stroke-linejoin="round" />
<rect x="1104.4" y="2238.6" width="50.1" height="41.9" fill="none" stroke="#000" stroke-width="2.6" />
<polygon points="1072.14,2231.51 1056.92,2247.81 1052.9,2244.06 1050.6,2259.7 1066.05,2256.34 1062.03,2252.59 1077.26,2236.29" fill="#808080" />
<polygon points="1072.15,2220.4 1057.55,2235.93 1053.55,2232.16 1051.2,2247.8 1066.66,2244.49 1062.65,2240.73 1077.25,2225.2" fill="#111111" />
<polygon points="1141.45,2237.9 1126.88,2253.34 1122.88,2249.57 1120.5,2265.2 1135.97,2261.92 1131.97,2258.15 1146.55,2242.7" fill="#7030A0" />
<polygon points="1171.95,2224.6 1157.38,2240.04 1153.38,2236.27 1151,2251.9 1166.47,2248.62 1162.47,2244.85 1177.05,2229.4" fill="#F4944A" />
<g clip-path="url(#h4c)">
<rect x="1298.8" y="2208.7" width="393.1" height="208.1" fill="#D67ACE" />
<g filter="url(#blur8)">
<polygon points="1298,2280 1360,2270 1400,2300 1390,2420 1298,2420" fill="#B868C4" />
<polygon points="1320,2208 1460,2208 1470,2250 1420,2290 1340,2280" fill="#CC74CC" />
<polygon points="1450,2215 1530,2215 1540,2290 1470,2300" fill="#B464C2" />
<polygon points="1530,2208 1692,2208 1692,2310 1600,2315 1530,2300" fill="#DC98DA" />
<polygon points="1420,2320 1692,2310 1692,2417 1420,2417" fill="#DE86CE" />
</g>
<ellipse cx="1685.0" cy="2320.8" rx="21.7" ry="5.1" fill="#E8A8E0" transform="rotate(3 1685.0 2320.8)" opacity="0.75"/>
<ellipse cx="1530.7" cy="2391.6" rx="22.5" ry="5.2" fill="#E8A8E0" transform="rotate(13 1530.7 2391.6)" opacity="0.75"/>
<ellipse cx="1410.3" cy="2348.2" rx="11.9" ry="5.9" fill="#EE8AD2" transform="rotate(-27 1410.3 2348.2)" opacity="0.75"/>
<ellipse cx="1454.8" cy="2408.6" rx="17.1" ry="6.0" fill="#F07CCA" transform="rotate(-10 1454.8 2408.6)" opacity="0.75"/>
<ellipse cx="1583.2" cy="2339.7" rx="20.8" ry="3.1" fill="#E8A8E0" transform="rotate(7 1583.2 2339.7)" opacity="0.75"/>
<ellipse cx="1589.4" cy="2397.1" rx="19.5" ry="4.1" fill="#E8A8E0" transform="rotate(1 1589.4 2397.1)" opacity="0.75"/>
<ellipse cx="1601.7" cy="2343.3" rx="12.3" ry="4.7" fill="#F07CCA" transform="rotate(-1 1601.7 2343.3)" opacity="0.75"/>
<ellipse cx="1661.0" cy="2335.5" rx="21.3" ry="3.2" fill="#EE8AD2" transform="rotate(-24 1661.0 2335.5)" opacity="0.75"/>
<ellipse cx="1599.0" cy="2407.6" rx="18.2" ry="5.9" fill="#EE8AD2" transform="rotate(-22 1599.0 2407.6)" opacity="0.75"/>
<ellipse cx="1479.5" cy="2405.9" rx="16.6" ry="4.9" fill="#EE8AD2" transform="rotate(6 1479.5 2405.9)" opacity="0.75"/>
<ellipse cx="1431.7" cy="2341.5" rx="15.5" ry="4.2" fill="#EE8AD2" transform="rotate(-11 1431.7 2341.5)" opacity="0.75"/>
<ellipse cx="1432.8" cy="2409.4" rx="18.7" ry="4.5" fill="#EE8AD2" transform="rotate(-25 1432.8 2409.4)" opacity="0.75"/>
<ellipse cx="1627.4" cy="2347.1" rx="12.1" ry="5.3" fill="#EE8AD2" transform="rotate(7 1627.4 2347.1)" opacity="0.75"/>
<ellipse cx="1619.8" cy="2343.1" rx="15.1" ry="5.8" fill="#E8A8E0" transform="rotate(-9 1619.8 2343.1)" opacity="0.75"/>
<ellipse cx="1648.6" cy="2327.4" rx="16.3" ry="3.0" fill="#E8A8E0" transform="rotate(-6 1648.6 2327.4)" opacity="0.75"/>
<ellipse cx="1503.3" cy="2410.9" rx="13.7" ry="3.7" fill="#F07CCA" transform="rotate(-33 1503.3 2410.9)" opacity="0.75"/>
<ellipse cx="1620.1" cy="2384.2" rx="15.8" ry="5.4" fill="#F07CCA" transform="rotate(-6 1620.1 2384.2)" opacity="0.75"/>
<ellipse cx="1448.4" cy="2333.0" rx="20.1" ry="5.2" fill="#F07CCA" transform="rotate(6 1448.4 2333.0)" opacity="0.75"/>
<ellipse cx="1515.2" cy="2410.9" rx="20.4" ry="4.0" fill="#EE8AD2" transform="rotate(18 1515.2 2410.9)" opacity="0.75"/>
<ellipse cx="1635.3" cy="2350.7" rx="12.6" ry="5.6" fill="#E8A8E0" transform="rotate(7 1635.3 2350.7)" opacity="0.75"/>
<ellipse cx="1595.5" cy="2407.0" rx="11.9" ry="4.0" fill="#F07CCA" transform="rotate(7 1595.5 2407.0)" opacity="0.75"/>
<ellipse cx="1419.5" cy="2315.3" rx="18.0" ry="3.7" fill="#EE8AD2" transform="rotate(6 1419.5 2315.3)" opacity="0.75"/>
<ellipse cx="1462.5" cy="2389.3" rx="21.0" ry="5.0" fill="#F07CCA" transform="rotate(-26 1462.5 2389.3)" opacity="0.75"/>
<ellipse cx="1464.9" cy="2401.7" rx="13.3" ry="3.4" fill="#EE8AD2" transform="rotate(-41 1464.9 2401.7)" opacity="0.75"/>
<ellipse cx="1617.0" cy="2398.7" rx="19.1" ry="5.6" fill="#F07CCA" transform="rotate(4 1617.0 2398.7)" opacity="0.75"/>
<ellipse cx="1578.8" cy="2343.1" rx="10.9" ry="4.8" fill="#E8A8E0" transform="rotate(-11 1578.8 2343.1)" opacity="0.75"/>
<ellipse cx="1577.4" cy="2407.2" rx="14.3" ry="4.1" fill="#E8A8E0" transform="rotate(-35 1577.4 2407.2)" opacity="0.75"/>
<ellipse cx="1505.0" cy="2386.3" rx="11.0" ry="5.5" fill="#EE8AD2" transform="rotate(-18 1505.0 2386.3)" opacity="0.75"/>
<ellipse cx="1401.0" cy="2379.2" rx="11.9" ry="3.8" fill="#F07CCA" transform="rotate(12 1401.0 2379.2)" opacity="0.75"/>
<ellipse cx="1572.4" cy="2375.8" rx="10.5" ry="4.6" fill="#EE8AD2" transform="rotate(-31 1572.4 2375.8)" opacity="0.75"/>
<ellipse cx="1541.2" cy="2345.0" rx="23.1" ry="5.9" fill="#E8A8E0" transform="rotate(-16 1541.2 2345.0)" opacity="0.75"/>
<ellipse cx="1463.6" cy="2395.9" rx="12.9" ry="5.5" fill="#E8A8E0" transform="rotate(-42 1463.6 2395.9)" opacity="0.75"/>
<ellipse cx="1465.1" cy="2332.6" rx="21.4" ry="3.8" fill="#EE8AD2" transform="rotate(-37 1465.1 2332.6)" opacity="0.75"/>
<ellipse cx="1678.7" cy="2342.9" rx="11.3" ry="3.3" fill="#EE8AD2" transform="rotate(20 1678.7 2342.9)" opacity="0.75"/>
<circle cx="1674.1" cy="2294.1" r="1.3" fill="#7A3CA0" opacity="0.75"/>
<circle cx="1686.6" cy="2223.8" r="0.8" fill="#8E50B0" opacity="0.75"/>
<circle cx="1679.9" cy="2392.1" r="0.8" fill="#7A3CA0" opacity="0.75"/>
<circle cx="1343.0" cy="2243.4" r="0.8" fill="#7A3CA0" opacity="0.75"/>
<circle cx="1471.4" cy="2250.1" r="1.2" fill="#7A3CA0" opacity="0.75"/>
<circle cx="1602.9" cy="2250.8" r="1.3" fill="#8E50B0" opacity="0.75"/>
<circle cx="1592.8" cy="2406.2" r="1.2" fill="#7A3CA0" opacity="0.75"/>
<circle cx="1638.4" cy="2359.2" r="0.9" fill="#8E50B0" opacity="0.75"/>
<circle cx="1438.3" cy="2230.9" r="1.2" fill="#8E50B0" opacity="0.75"/>
<circle cx="1652.3" cy="2376.3" r="0.8" fill="#7A3CA0" opacity="0.75"/>
<circle cx="1636.2" cy="2284.7" r="1.0" fill="#7A3CA0" opacity="0.75"/>
<circle cx="1657.3" cy="2374.3" r="1.3" fill="#7A3CA0" opacity="0.75"/>
<circle cx="1451.8" cy="2282.6" r="1.2" fill="#7A3CA0" opacity="0.75"/>
<circle cx="1578.1" cy="2405.6" r="1.0" fill="#8E50B0" opacity="0.75"/>
<circle cx="1362.3" cy="2395.4" r="1.0" fill="#7A3CA0" opacity="0.75"/>
<circle cx="1304.1" cy="2253.5" r="1.0" fill="#7A3CA0" opacity="0.75"/>
<circle cx="1605.7" cy="2251.4" r="1.3" fill="#8E50B0" opacity="0.75"/>
<circle cx="1432.0" cy="2325.4" r="1.2" fill="#7A3CA0" opacity="0.75"/>
<circle cx="1645.1" cy="2229.4" r="1.4" fill="#8E50B0" opacity="0.75"/>
<circle cx="1478.4" cy="2330.8" r="1.2" fill="#8E50B0" opacity="0.75"/>
<circle cx="1598.3" cy="2327.6" r="1.3" fill="#7A3CA0" opacity="0.75"/>
<circle cx="1456.3" cy="2349.0" r="0.9" fill="#8E50B0" opacity="0.75"/>
<circle cx="1392.8" cy="2414.3" r="0.9" fill="#8E50B0" opacity="0.75"/>
<circle cx="1482.3" cy="2292.6" r="1.4" fill="#7A3CA0" opacity="0.75"/>
<circle cx="1603.7" cy="2218.2" r="1.1" fill="#8E50B0" opacity="0.75"/>
<circle cx="1596.5" cy="2230.6" r="1.2" fill="#7A3CA0" opacity="0.75"/>
<circle cx="1355.3" cy="2319.1" r="1.1" fill="#8E50B0" opacity="0.75"/>
<circle cx="1340.6" cy="2372.7" r="1.3" fill="#7A3CA0" opacity="0.75"/>
<circle cx="1327.4" cy="2215.2" r="0.8" fill="#7A3CA0" opacity="0.75"/>
<circle cx="1576.4" cy="2346.6" r="1.0" fill="#7A3CA0" opacity="0.75"/>
<circle cx="1519.0" cy="2252.4" r="0.8" fill="#8E50B0" opacity="0.75"/>
<circle cx="1381.0" cy="2356.3" r="1.2" fill="#8E50B0" opacity="0.75"/>
<circle cx="1392.9" cy="2392.3" r="1.4" fill="#7A3CA0" opacity="0.75"/>
<circle cx="1443.5" cy="2272.0" r="0.8" fill="#8E50B0" opacity="0.75"/>
<circle cx="1343.7" cy="2353.0" r="1.1" fill="#8E50B0" opacity="0.75"/>
<circle cx="1478.1" cy="2293.7" r="1.1" fill="#7A3CA0" opacity="0.75"/>
<circle cx="1659.1" cy="2361.4" r="1.3" fill="#7A3CA0" opacity="0.75"/>
<circle cx="1580.7" cy="2215.4" r="1.3" fill="#8E50B0" opacity="0.75"/>
<circle cx="1613.8" cy="2220.4" r="0.9" fill="#8E50B0" opacity="0.75"/>
<circle cx="1473.1" cy="2413.0" r="1.4" fill="#8E50B0" opacity="0.75"/>
<circle cx="1307.2" cy="2257.0" r="1.3" fill="#8E50B0" opacity="0.75"/>
<circle cx="1299.7" cy="2369.4" r="0.9" fill="#8E50B0" opacity="0.75"/>
<circle cx="1623.4" cy="2274.2" r="1.0" fill="#7A3CA0" opacity="0.75"/>
<circle cx="1678.5" cy="2242.5" r="1.2" fill="#7A3CA0" opacity="0.75"/>
<circle cx="1667.6" cy="2293.8" r="1.2" fill="#7A3CA0" opacity="0.75"/>
<circle cx="1553.6" cy="2254.4" r="1.3" fill="#8E50B0" opacity="0.75"/>
<circle cx="1468.5" cy="2233.6" r="1.4" fill="#8E50B0" opacity="0.75"/>
<circle cx="1540.4" cy="2243.6" r="0.9" fill="#8E50B0" opacity="0.75"/>
<circle cx="1396.7" cy="2262.5" r="0.7" fill="#7A3CA0" opacity="0.75"/>
<circle cx="1551.0" cy="2337.6" r="1.2" fill="#7A3CA0" opacity="0.75"/>
<circle cx="1556.9" cy="2333.4" r="0.9" fill="#7A3CA0" opacity="0.75"/>
<circle cx="1328.3" cy="2324.9" r="1.2" fill="#8E50B0" opacity="0.75"/>
<circle cx="1660.8" cy="2302.6" r="0.9" fill="#8E50B0" opacity="0.75"/>
<circle cx="1585.2" cy="2228.7" r="0.9" fill="#7A3CA0" opacity="0.75"/>
<circle cx="1311.1" cy="2381.4" r="0.9" fill="#7A3CA0" opacity="0.75"/>
<circle cx="1302.9" cy="2248.5" r="0.8" fill="#8E50B0" opacity="0.75"/>
<circle cx="1337.2" cy="2413.4" r="1.0" fill="#7A3CA0" opacity="0.75"/>
<circle cx="1522.9" cy="2255.4" r="0.7" fill="#7A3CA0" opacity="0.75"/>
<circle cx="1404.5" cy="2402.6" r="0.9" fill="#7A3CA0" opacity="0.75"/>
<circle cx="1353.4" cy="2372.9" r="0.9" fill="#8E50B0" opacity="0.75"/>
<circle cx="1364.3" cy="2346.9" r="1.3" fill="#7A3CA0" opacity="0.75"/>
<circle cx="1411.1" cy="2288.2" r="0.9" fill="#7A3CA0" opacity="0.75"/>
<circle cx="1647.4" cy="2367.6" r="0.9" fill="#8E50B0" opacity="0.75"/>
<circle cx="1489.6" cy="2401.0" r="1.0" fill="#7A3CA0" opacity="0.75"/>
<circle cx="1483.4" cy="2403.8" r="0.8" fill="#7A3CA0" opacity="0.75"/>
<circle cx="1489.2" cy="2253.9" r="1.1" fill="#8E50B0" opacity="0.75"/>
<circle cx="1342.2" cy="2405.3" r="1.1" fill="#7A3CA0" opacity="0.75"/>
<circle cx="1338.9" cy="2308.3" r="1.0" fill="#8E50B0" opacity="0.75"/>
<circle cx="1607.5" cy="2236.4" r="1.1" fill="#7A3CA0" opacity="0.75"/>
<circle cx="1379.7" cy="2346.9" r="1.0" fill="#7A3CA0" opacity="0.75"/>
<circle cx="1499.2" cy="2339.5" r="1.3" fill="#8E50B0" opacity="0.75"/>
<circle cx="1569.0" cy="2215.7" r="1.2" fill="#7A3CA0" opacity="0.75"/>
<circle cx="1554.9" cy="2239.2" r="1.4" fill="#7A3CA0" opacity="0.75"/>
<circle cx="1635.9" cy="2285.5" r="0.8" fill="#7A3CA0" opacity="0.75"/>
<circle cx="1305.2" cy="2304.4" r="1.2" fill="#8E50B0" opacity="0.75"/>
<circle cx="1354.2" cy="2248.8" r="1.1" fill="#7A3CA0" opacity="0.75"/>
<circle cx="1671.7" cy="2257.5" r="1.1" fill="#8E50B0" opacity="0.75"/>
<circle cx="1563.3" cy="2253.2" r="0.8" fill="#8E50B0" opacity="0.75"/>
<circle cx="1378.3" cy="2416.9" r="1.0" fill="#7A3CA0" opacity="0.75"/>
<circle cx="1368.8" cy="2294.9" r="1.2" fill="#8E50B0" opacity="0.75"/>
<circle cx="1601.6" cy="2258.6" r="0.8" fill="#8E50B0" opacity="0.75"/>
<circle cx="1537.4" cy="2307.8" r="1.0" fill="#8E50B0" opacity="0.75"/>
<circle cx="1393.5" cy="2234.1" r="0.8" fill="#7A3CA0" opacity="0.75"/>
<circle cx="1330.5" cy="2379.4" r="1.3" fill="#8E50B0" opacity="0.75"/>
<circle cx="1648.1" cy="2346.6" r="1.4" fill="#8E50B0" opacity="0.75"/>
<circle cx="1470.2" cy="2379.5" r="1.3" fill="#7A3CA0" opacity="0.75"/>
<circle cx="1412.6" cy="2410.1" r="1.0" fill="#8E50B0" opacity="0.75"/>
<circle cx="1632.6" cy="2376.9" r="1.1" fill="#7A3CA0" opacity="0.75"/>
<circle cx="1474.4" cy="2312.9" r="1.2" fill="#8E50B0" opacity="0.75"/>
<circle cx="1328.9" cy="2395.7" r="1.1" fill="#7A3CA0" opacity="0.75"/>
<circle cx="1636.8" cy="2408.0" r="1.0" fill="#8E50B0" opacity="0.75"/>
<circle cx="1565.2" cy="2224.3" r="1.1" fill="#8E50B0" opacity="0.75"/>
<circle cx="1382.4" cy="2277.2" r="1.3" fill="#8E50B0" opacity="0.75"/>
<circle cx="1485.8" cy="2350.0" r="1.2" fill="#7A3CA0" opacity="0.75"/>
<circle cx="1481.9" cy="2276.4" r="1.4" fill="#8E50B0" opacity="0.75"/>
<circle cx="1334.0" cy="2411.0" r="1.1" fill="#8E50B0" opacity="0.75"/>
<circle cx="1588.0" cy="2283.8" r="1.2" fill="#7A3CA0" opacity="0.75"/>
<circle cx="1691.1" cy="2342.1" r="0.8" fill="#7A3CA0" opacity="0.75"/>
<circle cx="1646.6" cy="2337.1" r="1.0" fill="#8E50B0" opacity="0.75"/>
<circle cx="1488.3" cy="2212.7" r="1.2" fill="#7A3CA0" opacity="0.75"/>
<circle cx="1453.9" cy="2233.4" r="1.1" fill="#8E50B0" opacity="0.75"/>
<circle cx="1627.4" cy="2342.6" r="1.2" fill="#7A3CA0" opacity="0.75"/>
<circle cx="1444.1" cy="2385.9" r="0.8" fill="#7A3CA0" opacity="0.75"/>
<circle cx="1535.2" cy="2385.7" r="1.1" fill="#7A3CA0" opacity="0.75"/>
<circle cx="1519.3" cy="2215.0" r="1.3" fill="#7A3CA0" opacity="0.75"/>
<circle cx="1332.7" cy="2260.8" r="0.8" fill="#7A3CA0" opacity="0.75"/>
<circle cx="1403.2" cy="2356.9" r="0.7" fill="#7A3CA0" opacity="0.75"/>
<circle cx="1483.7" cy="2224.3" r="0.9" fill="#8E50B0" opacity="0.75"/>
<circle cx="1334.9" cy="2338.8" r="1.2" fill="#8E50B0" opacity="0.75"/>
<circle cx="1350.8" cy="2389.6" r="0.9" fill="#8E50B0" opacity="0.75"/>
<circle cx="1354.4" cy="2334.9" r="1.4" fill="#7A3CA0" opacity="0.75"/>
<circle cx="1327.4" cy="2307.3" r="0.7" fill="#7A3CA0" opacity="0.75"/>
<circle cx="1374.2" cy="2356.2" r="1.3" fill="#7A3CA0" opacity="0.75"/>
<circle cx="1543.6" cy="2380.6" r="1.0" fill="#7A3CA0" opacity="0.75"/>
<circle cx="1374.7" cy="2330.2" r="0.8" fill="#8E50B0" opacity="0.75"/>
<circle cx="1393.7" cy="2262.8" r="1.0" fill="#8E50B0" opacity="0.75"/>
<circle cx="1583.7" cy="2215.4" r="0.9" fill="#8E50B0" opacity="0.75"/>
<circle cx="1382.1" cy="2358.3" r="1.0" fill="#7A3CA0" opacity="0.75"/>
<circle cx="1387.9" cy="2369.4" r="1.3" fill="#8E50B0" opacity="0.75"/>
<circle cx="1425.0" cy="2372.3" r="1.3" fill="#8E50B0" opacity="0.75"/>
<circle cx="1326.5" cy="2289.5" r="1.0" fill="#8E50B0" opacity="0.75"/>
<circle cx="1576.1" cy="2320.3" r="1.2" fill="#8E50B0" opacity="0.75"/>
<circle cx="1542.2" cy="2230.8" r="1.1" fill="#8E50B0" opacity="0.75"/>
<circle cx="1351.3" cy="2387.5" r="1.4" fill="#7A3CA0" opacity="0.75"/>
<circle cx="1323.8" cy="2351.3" r="0.7" fill="#7A3CA0" opacity="0.75"/>
<circle cx="1503.3" cy="2239.1" r="1.2" fill="#7A3CA0" opacity="0.75"/>
<circle cx="1311.5" cy="2398.2" r="1.2" fill="#7A3CA0" opacity="0.75"/>
<circle cx="1574.2" cy="2274.7" r="1.1" fill="#8E50B0" opacity="0.75"/>
<circle cx="1365.5" cy="2245.1" r="1.0" fill="#8E50B0" opacity="0.75"/>
<circle cx="1441.4" cy="2394.4" r="1.1" fill="#7A3CA0" opacity="0.75"/>
<circle cx="1401.0" cy="2363.1" r="1.3" fill="#8E50B0" opacity="0.75"/>
<circle cx="1388.0" cy="2247.5" r="1.2" fill="#8E50B0" opacity="0.75"/>
<circle cx="1375.1" cy="2408.3" r="0.8" fill="#8E50B0" opacity="0.75"/>
<circle cx="1614.2" cy="2214.8" r="1.3" fill="#7A3CA0" opacity="0.75"/>
<circle cx="1585.6" cy="2385.5" r="1.2" fill="#7A3CA0" opacity="0.75"/>
<circle cx="1621.9" cy="2388.5" r="0.7" fill="#8E50B0" opacity="0.75"/>
<circle cx="1537.4" cy="2396.1" r="0.9" fill="#8E50B0" opacity="0.75"/>
<circle cx="1342.3" cy="2256.2" r="1.0" fill="#7A3CA0" opacity="0.75"/>
<circle cx="1470.7" cy="2272.9" r="0.9" fill="#8E50B0" opacity="0.75"/>
<circle cx="1562.7" cy="2220.4" r="0.8" fill="#8E50B0" opacity="0.75"/>
<circle cx="1644.4" cy="2237.9" r="1.2" fill="#7A3CA0" opacity="0.75"/>
<circle cx="1610.9" cy="2384.3" r="1.4" fill="#8E50B0" opacity="0.75"/>
<circle cx="1606.7" cy="2371.7" r="0.8" fill="#8E50B0" opacity="0.75"/>
<circle cx="1444.4" cy="2336.9" r="0.7" fill="#8E50B0" opacity="0.75"/>
<circle cx="1550.5" cy="2273.7" r="1.0" fill="#8E50B0" opacity="0.75"/>
<circle cx="1424.2" cy="2280.8" r="1.2" fill="#8E50B0" opacity="0.75"/>
<circle cx="1524.3" cy="2231.0" r="1.1" fill="#7A3CA0" opacity="0.75"/>
<circle cx="1489.2" cy="2295.6" r="1.3" fill="#7A3CA0" opacity="0.75"/>
<circle cx="1380.7" cy="2284.4" r="1.0" fill="#7A3CA0" opacity="0.75"/>
<circle cx="1556.3" cy="2327.2" r="1.1" fill="#7A3CA0" opacity="0.75"/>
<circle cx="1504.8" cy="2379.6" r="0.9" fill="#7A3CA0" opacity="0.75"/>
<circle cx="1443.1" cy="2405.0" r="0.8" fill="#7A3CA0" opacity="0.75"/>
<circle cx="1513.9" cy="2313.1" r="0.8" fill="#8E50B0" opacity="0.75"/>
<circle cx="1692.0" cy="2325.7" r="0.8" fill="#7A3CA0" opacity="0.75"/>
<circle cx="1640.3" cy="2284.2" r="0.8" fill="#7A3CA0" opacity="0.75"/>
<circle cx="1653.2" cy="2386.0" r="1.2" fill="#7A3CA0" opacity="0.75"/>
<circle cx="1499.7" cy="2403.0" r="0.8" fill="#8E50B0" opacity="0.75"/>
<circle cx="1614.7" cy="2297.2" r="0.9" fill="#8E50B0" opacity="0.75"/>
<circle cx="1390.9" cy="2254.0" r="0.7" fill="#7A3CA0" opacity="0.75"/>
<circle cx="1641.8" cy="2412.0" r="0.8" fill="#8E50B0" opacity="0.75"/>
<circle cx="1326.4" cy="2374.7" r="1.2" fill="#7A3CA0" opacity="0.75"/>
<circle cx="1512.4" cy="2293.9" r="1.2" fill="#7A3CA0" opacity="0.75"/>
<circle cx="1388.5" cy="2389.8" r="0.9" fill="#8E50B0" opacity="0.75"/>
<circle cx="1497.3" cy="2247.2" r="1.0" fill="#8E50B0" opacity="0.75"/>
<circle cx="1601.1" cy="2332.1" r="0.9" fill="#7A3CA0" opacity="0.75"/>
<circle cx="1484.4" cy="2314.9" r="0.9" fill="#8E50B0" opacity="0.75"/>
<circle cx="1469.0" cy="2271.0" r="1.1" fill="#7A3CA0" opacity="0.75"/>
<circle cx="1633.7" cy="2373.5" r="1.2" fill="#8E50B0" opacity="0.75"/>
<circle cx="1613.8" cy="2241.5" r="1.2" fill="#8E50B0" opacity="0.75"/>
<circle cx="1344.4" cy="2395.7" r="1.3" fill="#7A3CA0" opacity="0.75"/>
<circle cx="1538.6" cy="2326.6" r="0.7" fill="#8E50B0" opacity="0.75"/>
<circle cx="1325.4" cy="2377.6" r="1.1" fill="#7A3CA0" opacity="0.75"/>
<circle cx="1407.4" cy="2278.1" r="0.8" fill="#8E50B0" opacity="0.75"/>
<circle cx="1321.6" cy="2263.9" r="1.2" fill="#7A3CA0" opacity="0.75"/>
<circle cx="1671.1" cy="2323.6" r="0.8" fill="#7A3CA0" opacity="0.75"/>
<circle cx="1469.6" cy="2249.1" r="1.2" fill="#8E50B0" opacity="0.75"/>
<circle cx="1464.9" cy="2339.9" r="0.8" fill="#7A3CA0" opacity="0.75"/>
<circle cx="1347.8" cy="2213.5" r="1.1" fill="#7A3CA0" opacity="0.75"/>
<circle cx="1481.1" cy="2231.3" r="0.8" fill="#8E50B0" opacity="0.75"/>
<circle cx="1398.6" cy="2257.4" r="1.4" fill="#7A3CA0" opacity="0.75"/>
<circle cx="1364.1" cy="2394.7" r="1.3" fill="#7A3CA0" opacity="0.75"/>
<circle cx="1474.1" cy="2338.4" r="1.2" fill="#7A3CA0" opacity="0.75"/>
<circle cx="1476.5" cy="2392.3" r="0.9" fill="#8E50B0" opacity="0.75"/>
<circle cx="1500.0" cy="2239.7" r="0.7" fill="#7A3CA0" opacity="0.75"/>
<circle cx="1552.9" cy="2313.1" r="1.2" fill="#7A3CA0" opacity="0.75"/>
<circle cx="1630.9" cy="2284.3" r="0.8" fill="#8E50B0" opacity="0.75"/>
<circle cx="1585.3" cy="2294.0" r="1.4" fill="#7A3CA0" opacity="0.75"/>
<circle cx="1654.2" cy="2373.8" r="1.3" fill="#8E50B0" opacity="0.75"/>
<circle cx="1539.1" cy="2242.0" r="1.3" fill="#8E50B0" opacity="0.75"/>
<circle cx="1673.2" cy="2387.6" r="1.0" fill="#7A3CA0" opacity="0.75"/>
<circle cx="1357.6" cy="2367.3" r="1.1" fill="#8E50B0" opacity="0.75"/>
<circle cx="1529.5" cy="2297.9" r="1.4" fill="#7A3CA0" opacity="0.75"/>
<circle cx="1530.5" cy="2236.8" r="1.0" fill="#7A3CA0" opacity="0.75"/>
<circle cx="1537.2" cy="2299.6" r="1.3" fill="#8E50B0" opacity="0.75"/>
<circle cx="1331.0" cy="2302.4" r="1.0" fill="#7A3CA0" opacity="0.75"/>
<circle cx="1660.5" cy="2405.2" r="1.0" fill="#8E50B0" opacity="0.75"/>
<circle cx="1593.4" cy="2239.1" r="0.7" fill="#7A3CA0" opacity="0.75"/>
<circle cx="1437.2" cy="2386.1" r="0.9" fill="#7A3CA0" opacity="0.75"/>
<circle cx="1473.8" cy="2214.3" r="0.8" fill="#7A3CA0" opacity="0.75"/>
<circle cx="1383.7" cy="2334.0" r="1.3" fill="#7A3CA0" opacity="0.75"/>
<circle cx="1585.6" cy="2280.4" r="0.8" fill="#7A3CA0" opacity="0.75"/>
<circle cx="1552.6" cy="2366.6" r="1.3" fill="#8E50B0" opacity="0.75"/>
<circle cx="1431.2" cy="2243.1" r="1.0" fill="#7A3CA0" opacity="0.75"/>
<circle cx="1397.3" cy="2398.8" r="0.9" fill="#8E50B0" opacity="0.75"/>
<circle cx="1680.6" cy="2369.4" r="1.1" fill="#8E50B0" opacity="0.75"/>
<circle cx="1382.4" cy="2295.6" r="1.0" fill="#8E50B0" opacity="0.75"/>
<circle cx="1481.1" cy="2380.2" r="1.3" fill="#7A3CA0" opacity="0.75"/>
<circle cx="1503.6" cy="2233.9" r="0.9" fill="#7A3CA0" opacity="0.75"/>
<circle cx="1658.6" cy="2396.0" r="1.4" fill="#8E50B0" opacity="0.75"/>
<circle cx="1337.9" cy="2312.5" r="1.4" fill="#8E50B0" opacity="0.75"/>
<circle cx="1362.7" cy="2393.3" r="1.0" fill="#7A3CA0" opacity="0.75"/>
<circle cx="1684.8" cy="2238.2" r="1.4" fill="#8E50B0" opacity="0.75"/>
<circle cx="1526.1" cy="2246.1" r="1.2" fill="#8E50B0" opacity="0.75"/>
<circle cx="1546.4" cy="2326.1" r="1.2" fill="#8E50B0" opacity="0.75"/>
<circle cx="1577.9" cy="2356.5" r="1.0" fill="#7A3CA0" opacity="0.75"/>
<circle cx="1516.4" cy="2251.8" r="1.1" fill="#7A3CA0" opacity="0.75"/>
<circle cx="1650.8" cy="2353.2" r="0.9" fill="#7A3CA0" opacity="0.75"/>
<circle cx="1626.1" cy="2230.1" r="0.9" fill="#8E50B0" opacity="0.75"/>
<circle cx="1564.2" cy="2288.9" r="0.7" fill="#8E50B0" opacity="0.75"/>
<circle cx="1342.4" cy="2364.2" r="0.9" fill="#7A3CA0" opacity="0.75"/>
<circle cx="1507.8" cy="2289.1" r="1.0" fill="#8E50B0" opacity="0.75"/>
<circle cx="1515.6" cy="2283.7" r="1.3" fill="#8E50B0" opacity="0.75"/>
<circle cx="1512.6" cy="2242.8" r="0.8" fill="#7A3CA0" opacity="0.75"/>
<circle cx="1496.6" cy="2328.5" r="1.0" fill="#7A3CA0" opacity="0.75"/>
<circle cx="1662.8" cy="2210.2" r="1.0" fill="#7A3CA0" opacity="0.75"/>
<circle cx="1486.2" cy="2217.6" r="1.4" fill="#7A3CA0" opacity="0.75"/>
<circle cx="1476.9" cy="2313.6" r="1.1" fill="#7A3CA0" opacity="0.75"/>
<circle cx="1376.9" cy="2263.0" r="1.2" fill="#7A3CA0" opacity="0.75"/>
<circle cx="1432.2" cy="2225.4" r="0.8" fill="#8E50B0" opacity="0.75"/>
<circle cx="1426.4" cy="2398.3" r="1.0" fill="#7A3CA0" opacity="0.75"/>
<circle cx="1529.7" cy="2312.5" r="1.2" fill="#7A3CA0" opacity="0.75"/>
<circle cx="1314.6" cy="2218.9" r="1.2" fill="#7A3CA0" opacity="0.75"/>
<circle cx="1499.7" cy="2244.0" r="1.2" fill="#8E50B0" opacity="0.75"/>
<circle cx="1482.6" cy="2354.9" r="0.8" fill="#8E50B0" opacity="0.75"/>
<circle cx="1333.5" cy="2352.0" r="1.4" fill="#8E50B0" opacity="0.75"/>
<circle cx="1396.5" cy="2346.6" r="0.9" fill="#7A3CA0" opacity="0.75"/>
<circle cx="1360.2" cy="2223.7" r="1.4" fill="#7A3CA0" opacity="0.75"/>
<circle cx="1338.0" cy="2401.4" r="1.1" fill="#8E50B0" opacity="0.75"/>
<circle cx="1413.7" cy="2403.2" r="1.0" fill="#7A3CA0" opacity="0.75"/>
<circle cx="1325.4" cy="2300.0" r="1.2" fill="#7A3CA0" opacity="0.75"/>
<circle cx="1573.1" cy="2329.3" r="0.7" fill="#7A3CA0" opacity="0.75"/>
<circle cx="1343.4" cy="2276.0" r="0.7" fill="#8E50B0" opacity="0.75"/>
<circle cx="1578.9" cy="2266.6" r="1.0" fill="#7A3CA0" opacity="0.75"/>
<circle cx="1350.9" cy="2322.1" r="1.0" fill="#7A3CA0" opacity="0.75"/>
<circle cx="1549.2" cy="2241.3" r="1.2" fill="#7A3CA0" opacity="0.75"/>
<circle cx="1359.1" cy="2390.8" r="0.8" fill="#8E50B0" opacity="0.75"/>
<circle cx="1690.6" cy="2275.2" r="1.3" fill="#8E50B0" opacity="0.75"/>
<circle cx="1680.0" cy="2343.0" r="1.1" fill="#7A3CA0" opacity="0.75"/>
<circle cx="1421.3" cy="2251.5" r="0.8" fill="#8E50B0" opacity="0.75"/>
<circle cx="1408.0" cy="2313.6" r="1.0" fill="#7A3CA0" opacity="0.75"/>
<circle cx="1316.1" cy="2270.0" r="0.8" fill="#8E50B0" opacity="0.75"/>
<circle cx="1413.1" cy="2292.6" r="1.3" fill="#8E50B0" opacity="0.75"/>
<circle cx="1425.0" cy="2350.8" r="1.3" fill="#8E50B0" opacity="0.75"/>
<circle cx="1477.8" cy="2226.9" r="1.0" fill="#7A3CA0" opacity="0.75"/>
<circle cx="1305.6" cy="2323.1" r="0.9" fill="#8E50B0" opacity="0.75"/>
<circle cx="1311.7" cy="2409.1" r="1.1" fill="#8E50B0" opacity="0.75"/>
<circle cx="1341.7" cy="2374.5" r="1.2" fill="#8E50B0" opacity="0.75"/>
<circle cx="1339.1" cy="2250.0" r="0.7" fill="#7A3CA0" opacity="0.75"/>
<circle cx="1650.9" cy="2385.6" r="1.0" fill="#8E50B0" opacity="0.75"/>
<circle cx="1360.1" cy="2241.0" r="1.2" fill="#8E50B0" opacity="0.75"/>
<circle cx="1409.4" cy="2400.8" r="0.9" fill="#7A3CA0" opacity="0.75"/>
<circle cx="1532.9" cy="2262.1" r="0.7" fill="#8E50B0" opacity="0.75"/>
<circle cx="1372.0" cy="2371.7" r="1.2" fill="#7A3CA0" opacity="0.75"/>
<circle cx="1598.2" cy="2278.3" r="1.1" fill="#7A3CA0" opacity="0.75"/>
<circle cx="1380.3" cy="2329.5" r="1.1" fill="#7A3CA0" opacity="0.75"/>
<circle cx="1414.5" cy="2250.6" r="1.3" fill="#7A3CA0" opacity="0.75"/>
<circle cx="1484.2" cy="2369.6" r="0.8" fill="#8E50B0" opacity="0.75"/>
<circle cx="1479.9" cy="2258.4" r="1.0" fill="#8E50B0" opacity="0.75"/>
<circle cx="1429.4" cy="2292.1" r="1.0" fill="#8E50B0" opacity="0.75"/>
<circle cx="1529.8" cy="2287.5" r="0.7" fill="#8E50B0" opacity="0.75"/>
<circle cx="1404.8" cy="2370.4" r="1.4" fill="#7A3CA0" opacity="0.75"/>
<circle cx="1559.7" cy="2305.1" r="0.8" fill="#8E50B0" opacity="0.75"/>
<circle cx="1514.5" cy="2289.5" r="1.3" fill="#7A3CA0" opacity="0.75"/>
<circle cx="1683.7" cy="2366.8" r="1.4" fill="#7A3CA0" opacity="0.75"/>
<circle cx="1421.1" cy="2390.2" r="0.7" fill="#7A3CA0" opacity="0.75"/>
<circle cx="1506.5" cy="2232.7" r="0.9" fill="#7A3CA0" opacity="0.75"/>
<circle cx="1385.6" cy="2289.6" r="1.3" fill="#8E50B0" opacity="0.75"/>
<circle cx="1410.6" cy="2226.6" r="1.0" fill="#7A3CA0" opacity="0.75"/>
<circle cx="1442.9" cy="2413.7" r="0.8" fill="#7A3CA0" opacity="0.75"/>
<circle cx="1432.1" cy="2295.8" r="1.0" fill="#8E50B0" opacity="0.75"/>
<circle cx="1300.4" cy="2416.7" r="0.8" fill="#8E50B0" opacity="0.75"/>
<circle cx="1575.9" cy="2243.2" r="1.3" fill="#7A3CA0" opacity="0.75"/>
<circle cx="1310.3" cy="2254.7" r="1.2" fill="#7A3CA0" opacity="0.75"/>
<circle cx="1367.0" cy="2343.2" r="1.2" fill="#8E50B0" opacity="0.75"/>
<circle cx="1617.8" cy="2313.4" r="1.2" fill="#8E50B0" opacity="0.75"/>
<circle cx="1413.1" cy="2320.1" r="1.2" fill="#7A3CA0" opacity="0.75"/>
<circle cx="1352.0" cy="2273.2" r="1.2" fill="#7A3CA0" opacity="0.75"/>
<circle cx="1348.6" cy="2386.4" r="1.0" fill="#7A3CA0" opacity="0.75"/>
<circle cx="1539.5" cy="2215.9" r="1.4" fill="#7A3CA0" opacity="0.75"/>
<circle cx="1648.9" cy="2300.5" r="1.2" fill="#7A3CA0" opacity="0.75"/>
<circle cx="1637.9" cy="2251.2" r="0.9" fill="#7A3CA0" opacity="0.75"/>
<circle cx="1350.8" cy="2286.5" r="1.3" fill="#7A3CA0" opacity="0.75"/>
<circle cx="1414.0" cy="2267.0" r="1.3" fill="#7A3CA0" opacity="0.75"/>
<circle cx="1688.0" cy="2300.6" r="0.9" fill="#7A3CA0" opacity="0.75"/>
<circle cx="1335.0" cy="2401.4" r="1.1" fill="#7A3CA0" opacity="0.75"/>
<circle cx="1615.9" cy="2381.5" r="0.9" fill="#8E50B0" opacity="0.75"/>
<circle cx="1384.4" cy="2407.4" r="1.0" fill="#8E50B0" opacity="0.75"/>
<circle cx="1496.0" cy="2214.5" r="1.2" fill="#8E50B0" opacity="0.75"/>
<circle cx="1456.7" cy="2242.3" r="1.0" fill="#8E50B0" opacity="0.75"/>
<circle cx="1360.4" cy="2368.0" r="1.0" fill="#7A3CA0" opacity="0.75"/>
<circle cx="1484.4" cy="2314.4" r="0.8" fill="#7A3CA0" opacity="0.75"/>
<circle cx="1407.5" cy="2341.2" r="1.0" fill="#7A3CA0" opacity="0.75"/>
<circle cx="1423.1" cy="2377.0" r="0.9" fill="#7A3CA0" opacity="0.75"/>
<circle cx="1516.0" cy="2334.1" r="0.8" fill="#7A3CA0" opacity="0.75"/>
<circle cx="1413.8" cy="2388.5" r="1.2" fill="#8E50B0" opacity="0.75"/>
<circle cx="1470.6" cy="2349.1" r="0.8" fill="#7A3CA0" opacity="0.75"/>
<circle cx="1360.4" cy="2244.8" r="0.9" fill="#8E50B0" opacity="0.75"/>
<circle cx="1451.5" cy="2240.0" r="0.8" fill="#7A3CA0" opacity="0.75"/>
<circle cx="1362.4" cy="2331.0" r="0.8" fill="#8E50B0" opacity="0.75"/>
<circle cx="1627.9" cy="2212.5" r="0.8" fill="#7A3CA0" opacity="0.75"/>
<circle cx="1470.1" cy="2385.8" r="1.1" fill="#7A3CA0" opacity="0.75"/>
<circle cx="1340.0" cy="2376.8" r="1.4" fill="#7A3CA0" opacity="0.75"/>
<circle cx="1570.7" cy="2240.9" r="1.2" fill="#7A3CA0" opacity="0.75"/>
<circle cx="1322.5" cy="2328.1" r="1.3" fill="#7A3CA0" opacity="0.75"/>
<circle cx="1332.9" cy="2310.8" r="0.9" fill="#8E50B0" opacity="0.75"/>
<circle cx="1644.2" cy="2295.0" r="1.3" fill="#7A3CA0" opacity="0.75"/>
<circle cx="1428.4" cy="2231.5" r="1.2" fill="#7A3CA0" opacity="0.75"/>
<circle cx="1381.1" cy="2216.6" r="1.0" fill="#8E50B0" opacity="0.75"/>
<circle cx="1386.9" cy="2295.9" r="1.1" fill="#8E50B0" opacity="0.75"/>
<circle cx="1565.0" cy="2330.7" r="1.2" fill="#8E50B0" opacity="0.75"/>
<circle cx="1369.0" cy="2293.5" r="1.3" fill="#8E50B0" opacity="0.75"/>
<circle cx="1673.4" cy="2396.7" r="1.1" fill="#7A3CA0" opacity="0.75"/>
<circle cx="1330.4" cy="2285.7" r="1.3" fill="#7A3CA0" opacity="0.75"/>
<circle cx="1304.2" cy="2339.4" r="1.1" fill="#7A3CA0" opacity="0.75"/>
<circle cx="1483.7" cy="2236.2" r="0.9" fill="#7A3CA0" opacity="0.75"/>
<circle cx="1355.1" cy="2290.8" r="0.7" fill="#8E50B0" opacity="0.75"/>
<circle cx="1307.6" cy="2300.9" r="0.9" fill="#7A3CA0" opacity="0.75"/>
<circle cx="1431.3" cy="2235.7" r="0.9" fill="#8E50B0" opacity="0.75"/>
<circle cx="1419.1" cy="2322.5" r="0.8" fill="#7A3CA0" opacity="0.75"/>
<circle cx="1690.3" cy="2271.2" r="1.3" fill="#7A3CA0" opacity="0.75"/>
<circle cx="1541.2" cy="2341.4" r="1.3" fill="#7A3CA0" opacity="0.75"/>
<circle cx="1504.5" cy="2271.4" r="1.4" fill="#8E50B0" opacity="0.75"/>
<circle cx="1340.9" cy="2401.5" r="1.0" fill="#7A3CA0" opacity="0.75"/>
<circle cx="1425.5" cy="2343.4" r="1.0" fill="#8E50B0" opacity="0.75"/>
<circle cx="1626.8" cy="2330.9" r="0.9" fill="#7A3CA0" opacity="0.75"/>
<circle cx="1359.3" cy="2290.1" r="1.1" fill="#8E50B0" opacity="0.75"/>
<circle cx="1359.0" cy="2317.0" r="1.0" fill="#8E50B0" opacity="0.75"/>
<circle cx="1651.7" cy="2258.5" r="1.0" fill="#7A3CA0" opacity="0.75"/>
<circle cx="1540.3" cy="2347.0" r="1.3" fill="#8E50B0" opacity="0.75"/>
<circle cx="1578.2" cy="2222.1" r="0.8" fill="#8E50B0" opacity="0.75"/>
<circle cx="1497.9" cy="2379.1" r="1.0" fill="#8E50B0" opacity="0.75"/>
<circle cx="1333.9" cy="2214.6" r="1.1" fill="#7A3CA0" opacity="0.75"/>
<circle cx="1529.3" cy="2274.1" r="1.4" fill="#7A3CA0" opacity="0.75"/>
<circle cx="1523.9" cy="2253.7" r="1.3" fill="#8E50B0" opacity="0.75"/>
<circle cx="1565.3" cy="2269.2" r="0.7" fill="#8E50B0" opacity="0.75"/>
<circle cx="1529.2" cy="2271.2" r="0.9" fill="#7A3CA0" opacity="0.75"/>
<circle cx="1336.0" cy="2316.4" r="0.9" fill="#8E50B0" opacity="0.75"/>
<circle cx="1344.2" cy="2314.8" r="1.1" fill="#8E50B0" opacity="0.75"/>
<circle cx="1445.9" cy="2294.7" r="0.9" fill="#7A3CA0" opacity="0.75"/>
<circle cx="1691.0" cy="2343.7" r="1.1" fill="#7A3CA0" opacity="0.75"/>
<circle cx="1367.4" cy="2344.3" r="0.9" fill="#7A3CA0" opacity="0.75"/>
<circle cx="1371.5" cy="2342.5" r="1.1" fill="#8E50B0" opacity="0.75"/>
<circle cx="1315.9" cy="2248.7" r="1.0" fill="#8E50B0" opacity="0.75"/>
<circle cx="1375.9" cy="2347.6" r="1.1" fill="#8E50B0" opacity="0.75"/>
<circle cx="1457.1" cy="2327.5" r="0.8" fill="#7A3CA0" opacity="0.75"/>
<circle cx="1678.2" cy="2370.7" r="1.0" fill="#7A3CA0" opacity="0.75"/>
<circle cx="1393.6" cy="2363.5" r="1.2" fill="#7A3CA0" opacity="0.75"/>
<circle cx="1443.8" cy="2375.2" r="1.3" fill="#7A3CA0" opacity="0.75"/>
<circle cx="1365.9" cy="2241.4" r="0.8" fill="#8E50B0" opacity="0.75"/>
<circle cx="1515.5" cy="2412.7" r="1.4" fill="#8E50B0" opacity="0.75"/>
<circle cx="1303.7" cy="2299.6" r="1.0" fill="#7A3CA0" opacity="0.75"/>
<circle cx="1472.1" cy="2340.3" r="0.8" fill="#7A3CA0" opacity="0.75"/>
<circle cx="1457.4" cy="2259.0" r="1.1" fill="#8E50B0" opacity="0.75"/>
<circle cx="1577.9" cy="2330.1" r="0.9" fill="#8E50B0" opacity="0.75"/>
<circle cx="1382.7" cy="2221.2" r="0.7" fill="#7A3CA0" opacity="0.75"/>
<circle cx="1599.5" cy="2331.9" r="1.1" fill="#8E50B0" opacity="0.75"/>
<circle cx="1511.1" cy="2264.3" r="1.0" fill="#7A3CA0" opacity="0.75"/>
<circle cx="1334.4" cy="2413.6" r="1.3" fill="#8E50B0" opacity="0.75"/>
<circle cx="1534.5" cy="2400.8" r="1.1" fill="#8E50B0" opacity="0.75"/>
<circle cx="1317.6" cy="2313.2" r="1.1" fill="#7A3CA0" opacity="0.75"/>
<circle cx="1430.0" cy="2355.9" r="1.2" fill="#8E50B0" opacity="0.75"/>
<circle cx="1342.2" cy="2337.9" r="1.3" fill="#7A3CA0" opacity="0.75"/>
<circle cx="1591.0" cy="2349.9" r="0.8" fill="#7A3CA0" opacity="0.75"/>
<circle cx="1492.8" cy="2278.5" r="1.4" fill="#8E50B0" opacity="0.75"/>
<circle cx="1488.4" cy="2218.7" r="1.3" fill="#7A3CA0" opacity="0.75"/>
<circle cx="1367.6" cy="2224.8" r="0.7" fill="#8E50B0" opacity="0.75"/>
<circle cx="1460.5" cy="2279.6" r="1.1" fill="#8E50B0" opacity="0.75"/>
<circle cx="1454.3" cy="2343.3" r="0.9" fill="#8E50B0" opacity="0.75"/>
<circle cx="1378.6" cy="2278.8" r="0.7" fill="#7A3CA0" opacity="0.75"/>
<circle cx="1630.0" cy="2386.5" r="1.0" fill="#8E50B0" opacity="0.75"/>
<circle cx="1678.7" cy="2383.1" r="1.1" fill="#7A3CA0" opacity="0.75"/>
<circle cx="1675.8" cy="2312.9" r="0.8" fill="#7A3CA0" opacity="0.75"/>
<circle cx="1457.9" cy="2230.3" r="1.2" fill="#7A3CA0" opacity="0.75"/>
<circle cx="1344.5" cy="2333.6" r="1.3" fill="#8E50B0" opacity="0.75"/>
<circle cx="1317.0" cy="2391.7" r="1.2" fill="#8E50B0" opacity="0.75"/>
<circle cx="1561.7" cy="2209.6" r="1.3" fill="#8E50B0" opacity="0.75"/>
<circle cx="1525.7" cy="2287.8" r="0.9" fill="#7A3CA0" opacity="0.75"/>
<circle cx="1429.4" cy="2321.9" r="1.1" fill="#7A3CA0" opacity="0.75"/>
<circle cx="1468.2" cy="2392.6" r="1.1" fill="#7A3CA0" opacity="0.75"/>
<circle cx="1544.0" cy="2308.4" r="1.1" fill="#8E50B0" opacity="0.75"/>
<circle cx="1643.4" cy="2221.4" r="0.7" fill="#7A3CA0" opacity="0.75"/>
<circle cx="1388.0" cy="2355.6" r="1.1" fill="#8E50B0" opacity="0.75"/>
<circle cx="1540.5" cy="2238.5" r="1.3" fill="#7A3CA0" opacity="0.75"/>
<circle cx="1396.2" cy="2316.3" r="1.0" fill="#8E50B0" opacity="0.75"/>
<circle cx="1359.3" cy="2302.2" r="1.3" fill="#8E50B0" opacity="0.75"/>
<circle cx="1629.4" cy="2291.6" r="1.3" fill="#7A3CA0" opacity="0.75"/>
<circle cx="1644.1" cy="2386.5" r="1.2" fill="#8E50B0" opacity="0.75"/>
<circle cx="1299.4" cy="2389.4" r="1.3" fill="#7A3CA0" opacity="0.75"/>
<circle cx="1504.0" cy="2376.9" r="1.4" fill="#7A3CA0" opacity="0.75"/>
<circle cx="1660.9" cy="2274.2" r="1.2" fill="#8E50B0" opacity="0.75"/>
<circle cx="1407.3" cy="2261.3" r="0.8" fill="#8E50B0" opacity="0.75"/>
<circle cx="1648.5" cy="2259.4" r="1.2" fill="#7A3CA0" opacity="0.75"/>
<circle cx="1378.3" cy="2272.7" r="0.7" fill="#8E50B0" opacity="0.75"/>
<circle cx="1337.6" cy="2267.6" r="1.2" fill="#8E50B0" opacity="0.75"/>
<circle cx="1335.5" cy="2292.6" r="0.8" fill="#7A3CA0" opacity="0.75"/>
<circle cx="1327.9" cy="2365.6" r="0.8" fill="#8E50B0" opacity="0.75"/>
<circle cx="1331.8" cy="2260.3" r="1.2" fill="#8E50B0" opacity="0.75"/>
<circle cx="1378.0" cy="2331.2" r="1.0" fill="#8E50B0" opacity="0.75"/>
<circle cx="1607.3" cy="2319.6" r="0.8" fill="#8E50B0" opacity="0.75"/>
<circle cx="1325.3" cy="2296.1" r="0.9" fill="#7A3CA0" opacity="0.75"/>
<circle cx="1383.2" cy="2276.7" r="0.9" fill="#8E50B0" opacity="0.75"/>
<circle cx="1390.0" cy="2354.8" r="1.1" fill="#8E50B0" opacity="0.75"/>
<circle cx="1374.0" cy="2210.3" r="1.3" fill="#8E50B0" opacity="0.75"/>
<circle cx="1446.8" cy="2234.7" r="1.2" fill="#8E50B0" opacity="0.75"/>
<circle cx="1558.4" cy="2273.0" r="0.9" fill="#8E50B0" opacity="0.75"/>
<circle cx="1625.4" cy="2268.8" r="1.2" fill="#8E50B0" opacity="0.75"/>
<circle cx="1398.8" cy="2313.1" r="0.7" fill="#7A3CA0" opacity="0.75"/>
<circle cx="1406.9" cy="2320.5" r="1.3" fill="#7A3CA0" opacity="0.75"/>
<circle cx="1466.8" cy="2213.2" r="1.4" fill="#7A3CA0" opacity="0.75"/>
<circle cx="1378.7" cy="2286.3" r="1.2" fill="#8E50B0" opacity="0.75"/>
<circle cx="1326.0" cy="2316.9" r="1.1" fill="#8E50B0" opacity="0.75"/>
<circle cx="1597.7" cy="2403.7" r="1.1" fill="#7A3CA0" opacity="0.75"/>
<circle cx="1393.3" cy="2339.4" r="1.1" fill="#8E50B0" opacity="0.75"/>
<circle cx="1428.5" cy="2289.2" r="1.2" fill="#7A3CA0" opacity="0.75"/>
<circle cx="1605.7" cy="2300.9" r="1.1" fill="#7A3CA0" opacity="0.75"/>
<circle cx="1335.3" cy="2240.8" r="1.2" fill="#8E50B0" opacity="0.75"/>
<circle cx="1325.3" cy="2324.1" r="1.2" fill="#7A3CA0" opacity="0.75"/>
<circle cx="1637.5" cy="2292.8" r="1.0" fill="#7A3CA0" opacity="0.75"/>
<circle cx="1598.7" cy="2405.7" r="1.2" fill="#7A3CA0" opacity="0.75"/>
<circle cx="1519.8" cy="2248.7" r="1.4" fill="#8E50B0" opacity="0.75"/>
<circle cx="1430.4" cy="2257.0" r="0.7" fill="#8E50B0" opacity="0.75"/>
<circle cx="1570.4" cy="2298.6" r="1.0" fill="#8E50B0" opacity="0.75"/>
<circle cx="1390.3" cy="2355.5" r="0.9" fill="#8E50B0" opacity="0.75"/>
<circle cx="1639.1" cy="2328.7" r="1.1" fill="#8E50B0" opacity="0.75"/>
<circle cx="1546.7" cy="2343.7" r="1.0" fill="#7A3CA0" opacity="0.75"/>
<circle cx="1491.3" cy="2216.6" r="1.2" fill="#7A3CA0" opacity="0.75"/>
<circle cx="1427.2" cy="2370.7" r="0.9" fill="#7A3CA0" opacity="0.75"/>
<circle cx="1549.1" cy="2301.2" r="1.2" fill="#7A3CA0" opacity="0.75"/>
<circle cx="1307.8" cy="2270.7" r="1.3" fill="#7A3CA0" opacity="0.75"/>
<circle cx="1526.0" cy="2245.0" r="1.2" fill="#7A3CA0" opacity="0.75"/>
<circle cx="1445.8" cy="2331.5" r="0.9" fill="#8E50B0" opacity="0.75"/>
<circle cx="1405.1" cy="2392.9" r="0.9" fill="#8E50B0" opacity="0.75"/>
<circle cx="1399.2" cy="2406.5" r="1.4" fill="#7A3CA0" opacity="0.75"/>
<circle cx="1386.3" cy="2256.7" r="1.3" fill="#8E50B0" opacity="0.75"/>
<circle cx="1652.0" cy="2214.0" r="0.9" fill="#7A3CA0" opacity="0.75"/>
<circle cx="1498.7" cy="2297.9" r="0.8" fill="#8E50B0" opacity="0.75"/>
<circle cx="1495.0" cy="2285.1" r="1.1" fill="#7A3CA0" opacity="0.75"/>
<circle cx="1434.0" cy="2399.9" r="1.1" fill="#8E50B0" opacity="0.75"/>
<circle cx="1396.4" cy="2260.4" r="0.8" fill="#7A3CA0" opacity="0.75"/>
<circle cx="1350.4" cy="2350.6" r="1.0" fill="#8E50B0" opacity="0.75"/>
<circle cx="1445.8" cy="2221.0" r="0.9" fill="#8E50B0" opacity="0.75"/>
<circle cx="1372.8" cy="2356.9" r="0.7" fill="#8E50B0" opacity="0.75"/>
<circle cx="1436.3" cy="2310.0" r="1.3" fill="#7A3CA0" opacity="0.75"/>
<circle cx="1502.1" cy="2239.9" r="1.0" fill="#8E50B0" opacity="0.75"/>
<circle cx="1384.5" cy="2368.1" r="1.0" fill="#8E50B0" opacity="0.75"/>
<circle cx="1431.8" cy="2291.8" r="0.9" fill="#8E50B0" opacity="0.75"/>
<circle cx="1649.2" cy="2250.7" r="1.4" fill="#7A3CA0" opacity="0.75"/>
<circle cx="1569.8" cy="2304.8" r="0.9" fill="#7A3CA0" opacity="0.75"/>
<circle cx="1329.7" cy="2230.7" r="0.9" fill="#8E50B0" opacity="0.75"/>
<circle cx="1433.7" cy="2378.5" r="0.8" fill="#7A3CA0" opacity="0.75"/>
<circle cx="1330.1" cy="2387.7" r="1.2" fill="#8E50B0" opacity="0.75"/>
<circle cx="1373.0" cy="2360.2" r="0.7" fill="#7A3CA0" opacity="0.75"/>
<circle cx="1348.7" cy="2318.6" r="1.0" fill="#8E50B0" opacity="0.75"/>
<circle cx="1407.2" cy="2215.1" r="0.9" fill="#7A3CA0" opacity="0.75"/>
<circle cx="1490.3" cy="2284.3" r="1.3" fill="#8E50B0" opacity="0.75"/>
<circle cx="1463.7" cy="2220.9" r="1.4" fill="#7A3CA0" opacity="0.75"/>
<circle cx="1494.9" cy="2330.6" r="1.3" fill="#8E50B0" opacity="0.75"/>
<circle cx="1572.3" cy="2311.5" r="0.8" fill="#8E50B0" opacity="0.75"/>
<circle cx="1614.2" cy="2236.3" r="1.0" fill="#8E50B0" opacity="0.75"/>
<circle cx="1332.4" cy="2233.0" r="1.0" fill="#7A3CA0" opacity="0.75"/>
<circle cx="1648.8" cy="2315.4" r="1.4" fill="#7A3CA0" opacity="0.75"/>
<circle cx="1335.4" cy="2308.3" r="1.3" fill="#7A3CA0" opacity="0.75"/>
<circle cx="1597.1" cy="2271.7" r="0.8" fill="#8E50B0" opacity="0.75"/>
<circle cx="1622.9" cy="2376.3" r="0.8" fill="#7A3CA0" opacity="0.75"/>
<circle cx="1472.3" cy="2233.4" r="1.2" fill="#8E50B0" opacity="0.75"/>
<circle cx="1553.7" cy="2371.1" r="1.1" fill="#7A3CA0" opacity="0.75"/>
<circle cx="1556.8" cy="2331.5" r="1.2" fill="#7A3CA0" opacity="0.75"/>
<circle cx="1349.7" cy="2297.6" r="1.0" fill="#8E50B0" opacity="0.75"/>
<circle cx="1393.4" cy="2317.0" r="1.1" fill="#7A3CA0" opacity="0.75"/>
<circle cx="1466.7" cy="2286.3" r="1.4" fill="#7A3CA0" opacity="0.75"/>
<circle cx="1472.2" cy="2276.3" r="0.8" fill="#8E50B0" opacity="0.75"/>
<circle cx="1393.0" cy="2212.2" r="1.4" fill="#8E50B0" opacity="0.75"/>
<circle cx="1641.0" cy="2349.1" r="1.3" fill="#7A3CA0" opacity="0.75"/>
<circle cx="1573.4" cy="2374.7" r="1.0" fill="#7A3CA0" opacity="0.75"/>
<circle cx="1372.2" cy="2377.0" r="1.3" fill="#8E50B0" opacity="0.75"/>
<circle cx="1343.9" cy="2332.5" r="1.4" fill="#8E50B0" opacity="0.75"/>
<circle cx="1383.8" cy="2359.7" r="1.0" fill="#8E50B0" opacity="0.75"/>
<circle cx="1608.8" cy="2403.8" r="0.8" fill="#7A3CA0" opacity="0.75"/>
<circle cx="1464.4" cy="2260.9" r="1.4" fill="#7A3CA0" opacity="0.75"/>
<circle cx="1650.1" cy="2227.8" r="1.3" fill="#8E50B0" opacity="0.75"/>
<circle cx="1666.9" cy="2245.4" r="1.3" fill="#8E50B0" opacity="0.75"/>
<circle cx="1347.8" cy="2325.6" r="0.8" fill="#8E50B0" opacity="0.75"/>
<circle cx="1509.6" cy="2240.0" r="1.4" fill="#8E50B0" opacity="0.75"/>
<circle cx="1399.1" cy="2330.9" r="0.9" fill="#7A3CA0" opacity="0.75"/>
<circle cx="1620.7" cy="2272.4" r="1.4" fill="#7A3CA0" opacity="0.75"/>
<circle cx="1661.1" cy="2261.1" r="1.1" fill="#7A3CA0" opacity="0.75"/>
<circle cx="1646.9" cy="2283.8" r="1.0" fill="#7A3CA0" opacity="0.75"/>
<circle cx="1353.0" cy="2343.0" r="1.4" fill="#8E50B0" opacity="0.75"/>
<circle cx="1299.9" cy="2356.8" r="1.0" fill="#7A3CA0" opacity="0.75"/>
<circle cx="1415.7" cy="2312.9" r="1.4" fill="#8E50B0" opacity="0.75"/>
<circle cx="1608.4" cy="2349.8" r="0.7" fill="#7A3CA0" opacity="0.75"/>
<circle cx="1524.1" cy="2213.8" r="1.1" fill="#7A3CA0" opacity="0.75"/>
<circle cx="1394.2" cy="2413.2" r="1.2" fill="#8E50B0" opacity="0.75"/>
<circle cx="1605.4" cy="2371.7" r="1.2" fill="#7A3CA0" opacity="0.75"/>
<circle cx="1673.1" cy="2386.3" r="1.2" fill="#8E50B0" opacity="0.75"/>
<circle cx="1686.0" cy="2218.0" r="0.9" fill="#7A3CA0" opacity="0.75"/>
<circle cx="1544.8" cy="2389.0" r="1.1" fill="#8E50B0" opacity="0.75"/>
<circle cx="1369.6" cy="2390.8" r="0.8" fill="#7A3CA0" opacity="0.75"/>
<circle cx="1311.1" cy="2285.5" r="1.1" fill="#7A3CA0" opacity="0.75"/>
<circle cx="1516.6" cy="2360.2" r="1.0" fill="#7A3CA0" opacity="0.75"/>
<circle cx="1445.3" cy="2226.9" r="1.3" fill="#7A3CA0" opacity="0.75"/>
<circle cx="1414.7" cy="2386.0" r="0.8" fill="#7A3CA0" opacity="0.75"/>
<circle cx="1363.7" cy="2292.7" r="0.8" fill="#8E50B0" opacity="0.75"/>
<circle cx="1352.3" cy="2276.4" r="0.9" fill="#8E50B0" opacity="0.75"/>
<circle cx="1665.8" cy="2388.8" r="1.2" fill="#7A3CA0" opacity="0.75"/>
<circle cx="1337.5" cy="2246.5" r="1.0" fill="#8E50B0" opacity="0.75"/>
<circle cx="1423.7" cy="2239.3" r="1.2" fill="#8E50B0" opacity="0.75"/>
<circle cx="1435.5" cy="2344.5" r="1.0" fill="#7A3CA0" opacity="0.75"/>
<circle cx="1432.5" cy="2275.8" r="1.2" fill="#7A3CA0" opacity="0.75"/>
<circle cx="1637.6" cy="2367.1" r="1.0" fill="#8E50B0" opacity="0.75"/>
<circle cx="1353.2" cy="2223.6" r="1.1" fill="#7A3CA0" opacity="0.75"/>
<circle cx="1663.3" cy="2267.8" r="0.8" fill="#7A3CA0" opacity="0.75"/>
<circle cx="1351.4" cy="2260.8" r="1.2" fill="#8E50B0" opacity="0.75"/>
<circle cx="1550.8" cy="2376.8" r="1.4" fill="#7A3CA0" opacity="0.75"/>
<circle cx="1387.6" cy="2359.4" r="1.2" fill="#7A3CA0" opacity="0.75"/>
<circle cx="1633.8" cy="2387.5" r="1.1" fill="#8E50B0" opacity="0.75"/>
<circle cx="1616.9" cy="2210.0" r="0.9" fill="#8E50B0" opacity="0.75"/>
<circle cx="1418.5" cy="2361.2" r="1.3" fill="#8E50B0" opacity="0.75"/>
<circle cx="1470.4" cy="2235.3" r="1.1" fill="#7A3CA0" opacity="0.75"/>
<circle cx="1520.2" cy="2376.4" r="1.4" fill="#7A3CA0" opacity="0.75"/>
<circle cx="1578.8" cy="2410.8" r="1.1" fill="#7A3CA0" opacity="0.75"/>
<circle cx="1302.5" cy="2308.4" r="1.3" fill="#8E50B0" opacity="0.75"/>
<circle cx="1445.6" cy="2415.8" r="0.7" fill="#7A3CA0" opacity="0.75"/>
<circle cx="1483.3" cy="2227.4" r="1.0" fill="#7A3CA0" opacity="0.75"/>
<circle cx="1656.2" cy="2383.4" r="1.0" fill="#8E50B0" opacity="0.75"/>
<circle cx="1507.4" cy="2321.2" r="1.3" fill="#7A3CA0" opacity="0.75"/>
<circle cx="1686.5" cy="2382.6" r="0.9" fill="#7A3CA0" opacity="0.75"/>
<circle cx="1305.0" cy="2296.1" r="1.3" fill="#8E50B0" opacity="0.75"/>
<circle cx="1533.8" cy="2271.4" r="1.2" fill="#7A3CA0" opacity="0.75"/>
<circle cx="1314.8" cy="2305.9" r="1.1" fill="#7A3CA0" opacity="0.75"/>
<circle cx="1582.9" cy="2403.1" r="0.9" fill="#8E50B0" opacity="0.75"/>
<circle cx="1301.5" cy="2282.5" r="0.9" fill="#7A3CA0" opacity="0.75"/>
<circle cx="1609.8" cy="2213.8" r="1.3" fill="#8E50B0" opacity="0.75"/>
<circle cx="1512.4" cy="2361.5" r="1.4" fill="#7A3CA0" opacity="0.75"/>
<circle cx="1400.4" cy="2277.9" r="0.8" fill="#8E50B0" opacity="0.75"/>
<circle cx="1525.2" cy="2398.4" r="0.9" fill="#7A3CA0" opacity="0.75"/>
<circle cx="1527.6" cy="2258.2" r="1.2" fill="#8E50B0" opacity="0.75"/>
<circle cx="1336.4" cy="2400.4" r="0.8" fill="#8E50B0" opacity="0.75"/>
<circle cx="1691.1" cy="2375.3" r="1.3" fill="#7A3CA0" opacity="0.75"/>
<circle cx="1502.8" cy="2413.1" r="1.2" fill="#8E50B0" opacity="0.75"/>
<circle cx="1459.7" cy="2325.3" r="0.8" fill="#7A3CA0" opacity="0.75"/>
<circle cx="1374.7" cy="2350.9" r="1.3" fill="#7A3CA0" opacity="0.75"/>
<circle cx="1349.3" cy="2301.1" r="1.1" fill="#7A3CA0" opacity="0.75"/>
<circle cx="1476.3" cy="2402.9" r="0.9" fill="#7A3CA0" opacity="0.75"/>
<circle cx="1386.6" cy="2300.4" r="1.4" fill="#8E50B0" opacity="0.75"/>
<circle cx="1469.9" cy="2415.9" r="1.3" fill="#8E50B0" opacity="0.75"/>
<circle cx="1574.2" cy="2276.4" r="0.8" fill="#7A3CA0" opacity="0.75"/>
<circle cx="1566.0" cy="2229.1" r="1.0" fill="#7A3CA0" opacity="0.75"/>
<circle cx="1349.4" cy="2336.3" r="1.2" fill="#8E50B0" opacity="0.75"/>
<circle cx="1638.9" cy="2312.2" r="0.9" fill="#7A3CA0" opacity="0.75"/>
<circle cx="1651.3" cy="2415.9" r="0.9" fill="#7A3CA0" opacity="0.75"/>
<circle cx="1474.2" cy="2379.0" r="1.1" fill="#8E50B0" opacity="0.75"/>
<circle cx="1470.6" cy="2344.7" r="0.8" fill="#8E50B0" opacity="0.75"/>
<circle cx="1345.3" cy="2246.5" r="1.4" fill="#8E50B0" opacity="0.75"/>
<circle cx="1468.6" cy="2214.6" r="1.1" fill="#7A3CA0" opacity="0.75"/>
<circle cx="1378.5" cy="2387.1" r="1.0" fill="#7A3CA0" opacity="0.75"/>
<circle cx="1439.6" cy="2338.0" r="0.9" fill="#7A3CA0" opacity="0.75"/>
<circle cx="1669.0" cy="2407.8" r="1.3" fill="#7A3CA0" opacity="0.75"/>
<circle cx="1313.4" cy="2271.2" r="1.1" fill="#7A3CA0" opacity="0.75"/>
<circle cx="1308.6" cy="2409.0" r="1.4" fill="#8E50B0" opacity="0.75"/>
<circle cx="1592.2" cy="2283.1" r="0.7" fill="#8E50B0" opacity="0.75"/>
<circle cx="1354.6" cy="2216.3" r="1.2" fill="#8E50B0" opacity="0.75"/>
<circle cx="1421.9" cy="2264.6" r="1.1" fill="#7A3CA0" opacity="0.75"/>
<circle cx="1607.8" cy="2318.0" r="1.3" fill="#8E50B0" opacity="0.75"/>
<circle cx="1617.1" cy="2373.2" r="0.8" fill="#7A3CA0" opacity="0.75"/>
<circle cx="1452.1" cy="2391.5" r="1.1" fill="#7A3CA0" opacity="0.75"/>
<circle cx="1454.5" cy="2255.1" r="1.2" fill="#7A3CA0" opacity="0.75"/>
<circle cx="1569.5" cy="2317.0" r="1.4" fill="#7A3CA0" opacity="0.75"/>
<circle cx="1686.9" cy="2370.1" r="1.4" fill="#7A3CA0" opacity="0.75"/>
<circle cx="1691.1" cy="2290.4" r="0.9" fill="#7A3CA0" opacity="0.75"/>
<circle cx="1684.5" cy="2251.9" r="1.4" fill="#7A3CA0" opacity="0.75"/>
<circle cx="1420.5" cy="2385.4" r="1.1" fill="#8E50B0" opacity="0.75"/>
<circle cx="1340.5" cy="2321.6" r="1.0" fill="#7A3CA0" opacity="0.75"/>
<circle cx="1582.7" cy="2380.8" r="0.9" fill="#8E50B0" opacity="0.75"/>
<circle cx="1454.1" cy="2264.9" r="0.8" fill="#8E50B0" opacity="0.75"/>
<circle cx="1417.8" cy="2321.3" r="1.3" fill="#8E50B0" opacity="0.75"/>
<circle cx="1554.3" cy="2361.6" r="1.2" fill="#7A3CA0" opacity="0.75"/>
<circle cx="1343.0" cy="2255.2" r="0.8" fill="#7A3CA0" opacity="0.75"/>
<circle cx="1362.3" cy="2242.3" r="1.0" fill="#7A3CA0" opacity="0.75"/>
<circle cx="1489.1" cy="2378.4" r="1.3" fill="#7A3CA0" opacity="0.75"/>
<circle cx="1461.9" cy="2283.9" r="0.9" fill="#7A3CA0" opacity="0.75"/>
<circle cx="1497.6" cy="2273.2" r="1.1" fill="#7A3CA0" opacity="0.75"/>
<circle cx="1554.6" cy="2225.7" r="1.2" fill="#8E50B0" opacity="0.75"/>
<circle cx="1649.3" cy="2234.4" r="1.1" fill="#7A3CA0" opacity="0.75"/>
<circle cx="1301.0" cy="2247.3" r="0.8" fill="#8E50B0" opacity="0.75"/>
<circle cx="1344.6" cy="2326.2" r="1.4" fill="#8E50B0" opacity="0.75"/>
<circle cx="1344.6" cy="2295.6" r="0.9" fill="#8E50B0" opacity="0.75"/>
<circle cx="1338.4" cy="2374.7" r="0.8" fill="#7A3CA0" opacity="0.75"/>
<circle cx="1638.5" cy="2240.2" r="0.8" fill="#7A3CA0" opacity="0.75"/>
<circle cx="1371.7" cy="2290.3" r="1.0" fill="#8E50B0" opacity="0.75"/>
<circle cx="1335.9" cy="2326.7" r="1.1" fill="#7A3CA0" opacity="0.75"/>
<circle cx="1340.3" cy="2285.9" r="1.4" fill="#8E50B0" opacity="0.75"/>
<circle cx="1507.2" cy="2279.7" r="1.4" fill="#8E50B0" opacity="0.75"/>
<circle cx="1521.1" cy="2325.6" r="1.2" fill="#7A3CA0" opacity="0.75"/>
<circle cx="1601.4" cy="2321.0" r="1.1" fill="#7A3CA0" opacity="0.75"/>
<circle cx="1606.1" cy="2255.0" r="1.0" fill="#8E50B0" opacity="0.75"/>
<circle cx="1461.3" cy="2264.8" r="0.9" fill="#8E50B0" opacity="0.75"/>
<circle cx="1613.4" cy="2263.9" r="1.0" fill="#7A3CA0" opacity="0.75"/>
<circle cx="1474.7" cy="2283.4" r="0.7" fill="#8E50B0" opacity="0.75"/>
<circle cx="1363.4" cy="2382.5" r="0.9" fill="#8E50B0" opacity="0.75"/>
<circle cx="1489.2" cy="2223.7" r="0.8" fill="#8E50B0" opacity="0.75"/>
<circle cx="1432.0" cy="2337.7" r="1.1" fill="#7A3CA0" opacity="0.75"/>
<polygon points="1298.8,2208.7 1330,2208.7 1327,2215 1324,2250 1310,2262 1298.8,2266" fill="#FBF4FA" />
<circle cx="1512" cy="2229" r="14" fill="#F6F0EA" stroke="#C890C8" stroke-width="1.5" />
<circle cx="1512" cy="2229" r="2" fill="#E0509A" />
<path d="M1610,2208.7 Q1640,2222 1692,2228" fill="none" stroke="#F4E0F4" stroke-width="2" />
</g>
<polygon points="1411.73,2216.83 1397.04,2232.77 1392.99,2229.04 1390.8,2244.7 1406.23,2241.24 1402.18,2237.51 1416.87,2221.57" fill="#111111" />
<polygon points="1367.43,2275.62 1352.76,2291.48 1348.72,2287.75 1346.5,2303.4 1361.93,2299.97 1357.9,2296.23 1372.57,2280.38" fill="#111111" />
<polygon points="1688.13,2250.03 1672.52,2265.63 1668.63,2261.74 1665.8,2277.3 1681.36,2274.47 1677.47,2270.58 1693.07,2254.97" fill="#F4944A" />
<polygon points="1484.55,2315.91 1470.95,2331.67 1466.78,2328.08 1465.1,2343.8 1480.41,2339.84 1476.24,2336.25 1489.85,2320.49" fill="#808080" />
<polygon points="1368.62,2349.74 1354.5,2365.15 1350.44,2361.43 1348.3,2377.1 1363.72,2373.59 1359.66,2369.88 1373.78,2354.46" fill="#808080" />
<polygon points="1508.09,2351.87 1494.56,2366.98 1490.46,2363.31 1488.5,2379 1503.88,2375.32 1499.78,2371.65 1513.31,2356.53" fill="#7030A0" />
<polygon points="1562.93,2339.33 1548.24,2355.27 1544.19,2351.54 1542,2367.2 1557.43,2363.74 1553.38,2360.01 1568.07,2344.07" fill="#7030A0" />
<text x="349.1" y="2416.8" font-size="16">500 µm</text>
<rect x="408.7" y="2409.3" width="20.8" height="6.1" fill="#000" />
<text x="779.7" y="2416.8" font-size="16">50 µm</text>
<rect x="828.4" y="2409.3" width="20" height="6.1" fill="#000" />
<text x="1188.3" y="2416.8" font-size="16">500 µm</text>
<rect x="1248" y="2409.3" width="20.7" height="6.1" fill="#000" />
<text x="1618.4" y="2416.8" font-size="16">50 µm</text>
<rect x="1667.6" y="2409.3" width="20.4" height="6.1" fill="#000" />
<line x1="37.4" y1="2437" x2="842.9" y2="2437" stroke="#000" stroke-width="3.6" />
<line x1="889.1" y1="2437.5" x2="1694" y2="2437.5" stroke="#000" stroke-width="3.6" />
<text x="432" y="2472.2" font-size="25.3" text-anchor="middle" textLength="133.5" lengthAdjust="spacingAndGlyphs">MPXV (MP)</text>
<text x="1305.7" y="2470.2" font-size="25.3" text-anchor="middle" textLength="183.2" lengthAdjust="spacingAndGlyphs">SIV-MPXV (MS)</text>
</svg>
</body></html>
